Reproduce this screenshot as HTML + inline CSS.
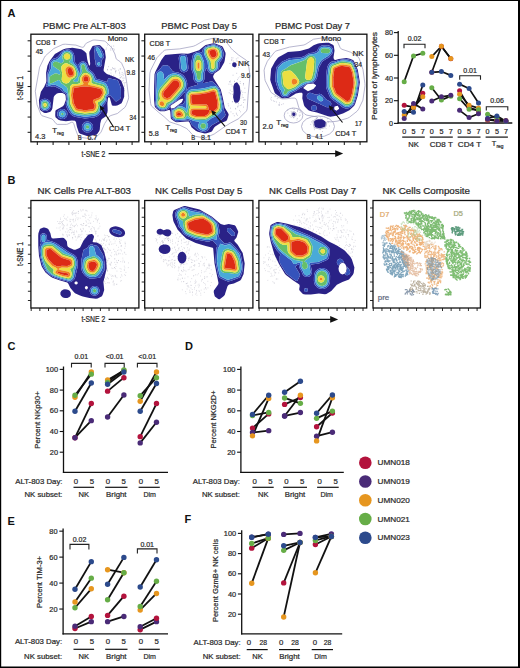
<!DOCTYPE html>
<html><head><meta charset="utf-8"><style>
html,body{margin:0;padding:0;background:#fff;width:520px;height:668px;overflow:hidden}
svg{display:block}
text{font-family:"Liberation Sans",sans-serif}
</style></head><body>
<svg width="520" height="668" viewBox="0 0 520 668">
<path d="M0 0H520V668H0Z M1.2 1.1V666.5H518V1.1Z" fill="#000" fill-rule="evenodd"/>
<text x="7.4" y="16.8" font-size="11" font-weight="bold" fill="#111" text-anchor="start">A</text>
<text x="7.6" y="183.9" font-size="11" font-weight="bold" fill="#111" text-anchor="start">B</text>
<text x="7.6" y="349.7" font-size="11" font-weight="bold" fill="#111" text-anchor="start">C</text>
<text x="185.0" y="349.7" font-size="11" font-weight="bold" fill="#111" text-anchor="start">D</text>
<text x="7.6" y="524.5" font-size="11" font-weight="bold" fill="#111" text-anchor="start">E</text>
<text x="184.6" y="523.1" font-size="11" font-weight="bold" fill="#111" text-anchor="start">F</text>
<defs><filter id="soft" x="-5%" y="-5%" width="110%" height="110%"><feGaussianBlur stdDeviation="0.45"/></filter></defs>
<clipPath id="clip_B4"><rect x="373" y="200.5" width="107.4" height="107.5"/></clipPath><g clip-path="url(#clip_B4)">
<path d="M409.2 251.9h1.3M415.1 231.2h1.3M415.9 238.7h1.3M396.6 232.9h1.3M394.7 238.0h1.3M404.4 241.3h1.3M393.1 229.2h1.3M409.3 240.1h1.3M404.1 231.9h1.3M411.8 230.5h1.3M409.7 247.1h1.3M388.3 240.9h1.3M398.8 242.7h1.3M387.0 236.2h1.3M397.3 228.9h1.3M416.6 236.0h1.3M423.0 242.4h1.3M408.4 243.9h1.3M411.2 229.0h1.3M401.9 231.7h1.3M400.4 227.3h1.3M411.0 233.5h1.3M418.9 244.6h1.3M407.0 228.8h1.3M406.3 229.9h1.3M419.3 244.0h1.3M407.0 235.9h1.3M400.8 231.7h1.3M403.0 241.1h1.3M385.7 235.7h1.3M385.9 228.1h1.3M422.5 244.5h1.3M401.5 240.4h1.3M418.9 234.9h1.3M407.8 245.3h1.3M398.6 240.3h1.3M414.6 252.2h1.3M415.7 240.1h1.3M413.1 231.3h1.3M392.5 235.5h1.3M391.7 234.9h1.3M421.8 241.9h1.3M398.0 232.7h1.3M422.0 238.0h1.3M413.8 242.1h1.3M387.4 237.5h1.3M411.2 246.3h1.3M397.7 236.5h1.3M392.6 225.9h1.3M408.3 239.0h1.3M408.0 244.6h1.3M402.9 243.6h1.3M409.6 230.0h1.3M387.1 237.0h1.3M414.6 249.3h1.3M420.4 248.9h1.3M419.0 240.4h1.3M394.6 232.0h1.3M392.0 241.7h1.3M385.5 233.9h1.3M421.4 240.8h1.3M416.5 244.5h1.3M408.6 230.2h1.3M416.1 253.8h1.3M397.9 234.1h1.3M415.9 234.0h1.3M418.5 248.8h1.3M407.1 243.9h1.3M408.5 227.3h1.3M410.6 243.7h1.3M416.9 249.0h1.3M397.5 246.5h1.3M418.6 251.7h1.3M410.2 230.9h1.3M399.5 232.1h1.3M402.6 244.5h1.3M388.6 236.0h1.3M417.2 235.9h1.3M399.2 240.9h1.3M393.1 231.9h1.3M397.6 238.4h1.3M407.4 233.5h1.3M389.8 228.4h1.3M389.8 226.8h1.3M409.0 230.1h1.3M399.4 246.1h1.3M415.1 249.7h1.3M411.1 235.7h1.3M414.3 230.2h1.3M395.1 240.8h1.3M414.0 251.8h1.3M389.6 230.0h1.3M416.0 244.1h1.3M421.4 250.2h1.3M415.1 236.4h1.3M409.8 230.0h1.3M414.4 247.6h1.3M412.9 238.0h1.3M399.5 237.2h1.3M405.9 236.2h1.3M406.1 246.5h1.3M420.7 236.2h1.3M412.6 249.6h1.3M389.3 229.8h1.3M407.2 238.0h1.3M414.1 230.2h1.3M403.2 225.3h1.3M397.0 233.9h1.3M412.9 238.3h1.3M419.5 252.4h1.3M394.3 236.4h1.3M393.6 228.2h1.3M389.5 229.7h1.3M418.4 239.2h1.3M395.1 240.5h1.3M395.8 240.2h1.3M409.3 240.8h1.3M390.0 227.8h1.3M392.8 239.9h1.3M386.3 234.0h1.3M394.0 238.6h1.3M419.2 247.7h1.3M417.1 247.7h1.3M412.4 250.4h1.3M411.4 246.9h1.3M396.5 229.5h1.3M420.7 242.6h1.3M390.8 240.1h1.3M407.2 249.0h1.3M412.2 244.1h1.3M421.9 237.6h1.3M400.9 245.6h1.3M417.4 234.6h1.3M410.9 230.7h1.3M406.3 247.9h1.3M403.0 236.9h1.3M412.9 240.4h1.3M406.7 241.4h1.3M402.4 243.7h1.3M406.2 226.6h1.3M407.9 231.1h1.3M392.4 238.3h1.3M414.1 246.0h1.3M406.4 249.1h1.3M402.9 243.4h1.3M416.7 245.1h1.3M409.8 236.8h1.3M406.5 236.5h1.3M413.8 236.0h1.3M403.0 247.5h1.3M404.4 234.7h1.3M417.1 236.0h1.3M417.8 248.4h1.3M402.2 246.2h1.3M386.0 236.3h1.3M418.4 242.1h1.3M406.5 244.7h1.3M411.2 242.2h1.3M401.2 230.0h1.3M396.1 233.3h1.3M398.5 238.1h1.3M399.2 242.2h1.3M399.5 232.5h1.3M419.3 239.5h1.3M418.6 233.9h1.3M404.0 230.4h1.3M417.1 238.9h1.3M414.7 238.4h1.3M399.3 241.1h1.3M392.6 234.0h1.3M412.3 248.0h1.3M416.7 238.0h1.3M394.3 244.1h1.3M399.4 243.9h1.3M394.8 238.9h1.3M405.2 243.7h1.3M396.0 233.7h1.3M394.7 226.4h1.3M401.2 248.0h1.3M412.5 230.3h1.3M390.1 234.2h1.3M414.8 239.3h1.3M420.8 244.5h1.3M409.0 247.9h1.3M414.1 234.9h1.3M394.8 237.8h1.3M403.8 228.7h1.3M402.0 244.0h1.3M390.0 228.6h1.3M391.5 233.0h1.3M391.9 229.4h1.3M402.6 229.3h1.3M391.9 243.3h1.3M400.6 237.1h1.3M420.8 251.7h1.3M410.7 242.7h1.3M414.9 230.9h1.3M389.2 234.0h1.3M408.6 244.8h1.3M411.2 241.8h1.3M422.0 243.0h1.3M397.8 240.1h1.3M411.9 237.2h1.3M418.0 247.5h1.3M397.9 226.7h1.3M389.9 230.0h1.3M396.6 238.1h1.3M419.9 245.2h1.3M418.1 236.7h1.3M394.3 228.7h1.3M416.0 245.4h1.3M393.0 232.5h1.3M404.9 225.4h1.3M406.2 250.3h1.3M388.0 232.7h1.3M414.6 243.0h1.3M396.9 243.6h1.3M409.6 247.0h1.3M399.5 246.6h1.3M412.0 236.2h1.3M412.6 230.6h1.3M413.3 232.9h1.3M402.2 233.2h1.3M396.6 226.7h1.3M393.3 232.6h1.3M391.5 226.3h1.3M402.9 230.9h1.3M413.6 252.6h1.3M395.4 241.9h1.3M404.5 226.6h1.3M403.2 249.0h1.3M418.6 250.9h1.3M387.6 232.5h1.3M416.5 238.7h1.3M397.2 225.6h1.3M400.0 229.0h1.3M422.0 242.1h1.3M410.0 234.3h1.3M407.0 247.4h1.3M407.8 249.0h1.3M406.2 230.4h1.3M407.5 239.4h1.3M391.2 243.3h1.3M406.0 246.8h1.3M400.5 232.6h1.3M399.3 240.9h1.3M411.6 241.5h1.3M394.5 229.7h1.3M417.9 252.3h1.3M386.4 234.5h1.3M392.2 238.7h1.3M391.4 239.3h1.3M405.2 247.2h1.3M401.8 228.7h1.3M416.3 233.9h1.3M402.5 244.6h1.3M404.6 229.4h1.3M390.1 233.1h1.3M386.7 231.0h1.3M389.8 238.6h1.3M398.6 242.3h1.3M395.7 225.4h1.3M394.7 236.7h1.3M414.2 236.8h1.3M419.4 252.5h1.3M394.6 228.6h1.3M401.8 242.8h1.3M412.6 238.9h1.3M388.3 234.5h1.3M420.6 243.1h1.3M402.6 241.6h1.3M413.5 245.1h1.3M416.5 236.9h1.3M415.3 251.7h1.3M421.5 236.8h1.3M403.1 238.1h1.3M399.8 237.6h1.3M390.2 226.2h1.3M414.2 241.6h1.3M411.0 248.9h1.3M393.7 231.5h1.3M395.6 233.7h1.3M414.5 235.8h1.3M397.3 243.8h1.3M392.0 227.6h1.3M412.0 247.5h1.3M396.3 243.8h1.3M386.0 236.7h1.3M407.3 232.1h1.3M398.3 243.0h1.3M407.8 229.1h1.3M394.6 230.5h1.3M405.1 242.8h1.3M412.2 234.6h1.3M387.7 230.5h1.3M397.7 226.5h1.3M401.7 230.6h1.3M419.8 243.8h1.3M388.3 234.1h1.3M385.8 231.1h1.3M385.7 228.2h1.3M409.5 227.4h1.3M397.8 234.5h1.3M411.2 241.1h1.3M408.9 227.4h1.3M394.9 242.2h1.3M422.0 249.4h1.3M409.8 240.2h1.3M387.3 228.3h1.3M411.8 249.2h1.3M415.5 238.2h1.3M400.4 233.9h1.3M402.0 230.4h1.3M412.6 239.7h1.3M418.7 251.8h1.3M397.1 232.9h1.3M421.4 239.8h1.3M404.4 237.7h1.3M389.6 229.0h1.3M409.1 246.7h1.3M407.2 230.8h1.3M412.0 230.3h1.3M405.8 226.1h1.3M401.5 244.6h1.3M386.9 232.1h1.3M399.6 239.8h1.3M396.3 244.5h1.3M422.3 239.5h1.3M397.8 242.8h1.3M416.3 240.9h1.3M399.5 235.1h1.3M387.4 232.3h1.3M409.1 227.3h1.3M418.7 251.3h1.3M409.0 240.3h1.3M392.5 240.3h1.3M396.1 228.2h1.3M385.2 232.4h1.3M390.0 230.1h1.3M407.5 237.3h1.3M401.5 230.6h1.3M410.7 233.2h1.3M400.3 238.5h1.3M412.8 233.8h1.3M419.7 236.4h1.3M385.8 233.6h1.3M391.0 230.9h1.3M388.1 238.8h1.3M407.9 234.1h1.3M416.2 241.6h1.3M390.1 241.0h1.3M409.3 237.5h1.3M418.5 236.3h1.3M404.7 227.8h1.3M406.7 247.8h1.3M413.3 232.2h1.3M401.3 237.1h1.3M409.7 246.4h1.3M403.0 238.6h1.3M397.1 245.7h1.3M387.6 239.6h1.3M392.0 235.6h1.3M396.6 242.8h1.3M416.9 253.1h1.3M397.6 241.8h1.3M384.9 235.7h1.3M418.7 244.3h1.3M387.9 228.0h1.3M414.0 238.1h1.3M390.5 240.1h1.3M396.3 241.2h1.3M413.8 250.6h1.3M418.9 242.2h1.3M419.5 248.5h1.3M412.7 230.4h1.3M395.1 234.3h1.3M407.8 243.6h1.3M392.3 235.4h1.3M416.7 241.2h1.3M404.7 247.6h1.3M410.3 233.2h1.3M388.1 238.5h1.3M419.1 242.7h1.3M386.8 237.8h1.3M399.7 242.2h1.3M397.9 236.8h1.3M408.7 251.5h1.3M412.3 238.8h1.3M416.6 239.2h1.3M408.5 239.9h1.3M403.5 228.2h1.3M404.2 231.9h1.3M400.7 244.0h1.3M420.5 248.9h1.3M391.0 239.0h1.3M388.1 240.0h1.3M420.5 236.6h1.3M394.9 241.4h1.3M388.0 230.7h1.3M419.7 253.1h1.3M412.2 252.5h1.3M422.6 246.3h1.3M418.5 250.1h1.3M398.7 227.4h1.3M406.6 240.3h1.3M398.9 234.4h1.3M419.5 242.7h1.3M411.0 246.8h1.3M404.3 225.9h1.3M404.4 246.9h1.3M410.4 243.2h1.3M386.5 231.6h1.3M405.6 225.9h1.3M400.7 241.1h1.3M412.8 253.1h1.3M413.5 235.0h1.3M402.7 240.4h1.3M411.6 236.4h1.3M412.7 238.6h1.3M400.9 235.5h1.3M404.0 233.0h1.3M394.2 228.9h1.3M401.9 233.3h1.3M417.4 250.3h1.3M398.2 243.3h1.3M420.0 235.3h1.3M406.4 237.9h1.3M410.7 248.7h1.3M409.5 251.0h1.3M397.5 246.0h1.3" stroke="#eba05a" stroke-width="1.3" stroke-opacity="0.8" fill="none"/>
<path d="M429.4 266.5h1.3M438.2 252.5h1.3M440.9 273.6h1.3M430.6 273.3h1.3M425.6 273.5h1.3M436.0 271.4h1.3M433.3 253.6h1.3M439.2 264.5h1.3M439.6 259.9h1.3M425.7 268.0h1.3M437.0 285.3h1.3M440.2 255.3h1.3M438.6 260.6h1.3M430.6 265.6h1.3M435.1 275.0h1.3M437.3 274.2h1.3M432.0 274.2h1.3M431.1 271.0h1.3M433.6 269.0h1.3M428.5 260.9h1.3M425.4 273.2h1.3M442.7 259.5h1.3M426.1 271.6h1.3M426.4 259.8h1.3M434.3 248.7h1.3M430.6 255.9h1.3M431.5 279.3h1.3M426.8 269.7h1.3M433.0 256.5h1.3M426.7 256.7h1.3M436.8 283.0h1.3M437.5 253.4h1.3M431.7 271.7h1.3M443.4 257.1h1.3M432.2 244.4h1.3M438.6 263.5h1.3M440.7 254.0h1.3M437.8 274.0h1.3M433.7 251.9h1.3M432.4 277.3h1.3M427.8 247.5h1.3M433.6 254.0h1.3M437.5 251.9h1.3M441.2 276.5h1.3M439.6 275.1h1.3M441.4 256.9h1.3M438.1 266.9h1.3M431.0 258.2h1.3M427.1 265.7h1.3M431.6 262.5h1.3M428.4 266.5h1.3M425.8 261.2h1.3M439.9 282.7h1.3M434.6 279.6h1.3M433.2 259.4h1.3M434.5 252.2h1.3M430.3 257.3h1.3M441.9 272.8h1.3M432.9 252.3h1.3M426.1 248.1h1.3M431.2 261.9h1.3M426.9 268.5h1.3M427.2 245.2h1.3M443.8 258.7h1.3M427.8 248.0h1.3M437.6 264.3h1.3M429.3 278.9h1.3M434.2 267.7h1.3M433.5 274.1h1.3M425.3 265.9h1.3M428.8 248.0h1.3M428.0 254.7h1.3M430.5 261.2h1.3M433.2 256.7h1.3M432.7 278.4h1.3M425.4 255.9h1.3M434.0 274.1h1.3M437.5 276.3h1.3M426.1 251.6h1.3M430.4 256.2h1.3M430.1 279.9h1.3M431.2 259.5h1.3M437.2 282.7h1.3M431.0 252.0h1.3M423.9 249.6h1.3M441.8 271.8h1.3M431.6 279.6h1.3M437.8 246.4h1.3M432.3 272.4h1.3M438.4 263.9h1.3M433.7 276.0h1.3M435.1 247.0h1.3M428.8 246.2h1.3M427.9 252.5h1.3M432.6 258.0h1.3M431.5 280.5h1.3M424.3 248.1h1.3M440.9 267.7h1.3M433.1 255.5h1.3M435.3 253.4h1.3M430.6 244.5h1.3M442.6 257.0h1.3M437.7 282.4h1.3M434.2 281.7h1.3M433.6 255.4h1.3M434.0 258.6h1.3M440.1 281.2h1.3M426.8 250.8h1.3M431.9 264.4h1.3M438.2 255.7h1.3M441.5 255.9h1.3M425.5 257.7h1.3M430.7 276.3h1.3M424.0 253.8h1.3M437.1 268.8h1.3M428.5 283.2h1.3M439.9 266.7h1.3M427.2 253.2h1.3M431.9 258.4h1.3M425.1 261.9h1.3M433.3 256.4h1.3M432.0 258.5h1.3M431.8 271.5h1.3M434.4 252.4h1.3M440.7 266.7h1.3M433.5 275.8h1.3M439.7 282.0h1.3M441.0 273.8h1.3M439.1 250.5h1.3M438.6 254.9h1.3M429.3 248.8h1.3M432.2 244.3h1.3M437.7 277.4h1.3M440.2 249.2h1.3M437.4 281.5h1.3M424.6 252.2h1.3M429.5 264.4h1.3M427.5 267.9h1.3M431.1 273.2h1.3M435.1 274.6h1.3M429.0 275.5h1.3M439.4 276.2h1.3M436.0 255.8h1.3M433.0 266.9h1.3M434.8 254.6h1.3M429.4 259.9h1.3M440.4 263.3h1.3M424.6 263.9h1.3M444.5 256.7h1.3M435.2 259.7h1.3M443.6 251.8h1.3M432.7 260.4h1.3M427.4 273.5h1.3M440.4 277.9h1.3M428.7 266.8h1.3M438.7 260.9h1.3M433.3 281.6h1.3M424.3 255.6h1.3M428.6 245.5h1.3M432.6 272.9h1.3M428.0 275.4h1.3M428.1 276.6h1.3M441.6 255.0h1.3M425.8 270.0h1.3M434.4 265.2h1.3M440.4 264.4h1.3M434.3 265.5h1.3M433.4 261.8h1.3M427.2 256.8h1.3M429.4 254.7h1.3M440.4 248.6h1.3M428.2 267.3h1.3M430.4 254.3h1.3M431.7 266.2h1.3M441.9 262.9h1.3M433.4 262.3h1.3M425.3 252.7h1.3M437.8 270.2h1.3M429.7 286.0h1.3M432.5 270.5h1.3M426.0 261.3h1.3M428.8 244.8h1.3M433.4 246.2h1.3M430.7 252.6h1.3M438.4 260.2h1.3M430.7 281.9h1.3M431.3 284.3h1.3M443.8 259.2h1.3M437.9 253.9h1.3M435.8 257.4h1.3M443.3 258.9h1.3M428.0 245.3h1.3M428.4 264.2h1.3M430.1 280.7h1.3M441.5 249.9h1.3M436.4 268.6h1.3M438.5 257.3h1.3M432.0 254.3h1.3M430.0 251.4h1.3M431.4 274.9h1.3M434.2 256.1h1.3M431.2 287.3h1.3M431.1 269.7h1.3M443.8 256.9h1.3M440.9 248.6h1.3M439.3 280.1h1.3M429.7 267.1h1.3M428.4 247.2h1.3M433.1 276.1h1.3M443.8 254.6h1.3M430.0 281.2h1.3M430.9 264.4h1.3M441.5 259.6h1.3M433.7 284.1h1.3M432.0 277.5h1.3M437.4 258.4h1.3M435.1 270.9h1.3M435.2 248.4h1.3M435.1 249.1h1.3M441.2 263.1h1.3M438.9 281.0h1.3M435.2 245.6h1.3M441.2 274.9h1.3M443.1 255.7h1.3M431.3 262.0h1.3M428.7 258.4h1.3M426.1 278.2h1.3M432.9 269.2h1.3M429.9 259.8h1.3M439.8 264.7h1.3M436.4 262.6h1.3M435.6 284.2h1.3M429.5 267.0h1.3M438.4 247.3h1.3M429.0 278.0h1.3M441.1 272.1h1.3M435.0 277.2h1.3M436.6 261.0h1.3M435.9 268.6h1.3M433.6 277.6h1.3M430.1 264.6h1.3M430.0 265.6h1.3M441.8 255.6h1.3M441.2 254.5h1.3M430.2 268.6h1.3M437.7 283.4h1.3M442.4 254.7h1.3M439.6 272.2h1.3M432.0 278.7h1.3M442.8 265.2h1.3M427.3 278.1h1.3M430.3 270.0h1.3M434.3 250.0h1.3M439.8 277.1h1.3M426.9 255.2h1.3M442.2 266.2h1.3M431.6 263.6h1.3M427.6 265.9h1.3M428.7 250.7h1.3M431.9 246.3h1.3M433.8 275.0h1.3M442.8 263.6h1.3M440.7 256.3h1.3M435.0 287.9h1.3M436.5 266.4h1.3M440.5 257.6h1.3M428.9 251.4h1.3M429.3 286.4h1.3M424.3 257.0h1.3M436.0 275.3h1.3M440.2 260.8h1.3M428.5 282.1h1.3M426.4 246.3h1.3M428.7 265.8h1.3M435.8 267.1h1.3M438.5 271.9h1.3M430.9 247.6h1.3M428.1 279.0h1.3M437.3 279.6h1.3M431.9 285.5h1.3M436.4 268.3h1.3M441.1 271.8h1.3M438.1 250.5h1.3M436.6 259.6h1.3M425.4 249.4h1.3M434.0 255.3h1.3M440.0 248.9h1.3M430.5 266.6h1.3M428.3 252.9h1.3M432.3 279.3h1.3M431.4 254.0h1.3M427.7 258.1h1.3M440.5 273.7h1.3M424.2 246.5h1.3M439.4 274.0h1.3M430.5 282.5h1.3M428.3 262.8h1.3M426.3 272.7h1.3M425.7 251.5h1.3M440.0 266.1h1.3M437.8 276.8h1.3M436.7 252.4h1.3M438.6 248.6h1.3M429.5 263.8h1.3M426.3 248.2h1.3M437.6 277.1h1.3M431.7 261.1h1.3M428.2 267.1h1.3M436.1 285.8h1.3M439.2 280.9h1.3M437.6 256.5h1.3M437.0 283.3h1.3M426.1 265.2h1.3M439.6 274.8h1.3M426.5 267.3h1.3M438.4 258.6h1.3M434.5 287.8h1.3M437.3 266.2h1.3M425.2 248.9h1.3M441.5 269.7h1.3M436.0 267.5h1.3M439.4 258.4h1.3M434.3 264.7h1.3M437.8 253.2h1.3M424.4 247.4h1.3M427.6 282.4h1.3M439.0 277.5h1.3M433.2 248.0h1.3M433.7 282.6h1.3M434.6 272.1h1.3" stroke="#eaa462" stroke-width="1.3" stroke-opacity="0.75" fill="none"/>
<path d="M391.8 247.7h1.3M398.8 259.8h1.3M391.0 251.6h1.3M400.7 253.7h1.3M397.4 251.7h1.3M402.2 255.8h1.3M394.7 275.7h1.3M401.3 268.8h1.3M390.9 272.5h1.3M406.2 266.0h1.3M404.4 261.9h1.3M385.4 251.0h1.3M397.3 269.7h1.3M402.2 259.8h1.3M391.5 245.8h1.3M383.9 264.9h1.3M402.8 274.9h1.3M405.2 267.6h1.3M400.8 272.5h1.3M396.3 260.5h1.3M391.6 273.4h1.3M402.8 252.2h1.3M386.6 249.4h1.3M397.3 252.4h1.3M388.2 245.9h1.3M390.4 270.1h1.3M386.2 269.8h1.3M393.9 248.4h1.3M394.7 275.5h1.3M405.6 256.4h1.3M387.7 261.9h1.3M400.7 259.7h1.3M391.2 251.2h1.3M389.7 244.1h1.3M403.2 256.9h1.3M397.9 250.3h1.3M399.9 267.8h1.3M401.7 260.0h1.3M397.3 266.9h1.3M399.3 274.5h1.3M384.4 261.4h1.3M384.6 249.1h1.3M392.0 249.2h1.3M390.8 273.1h1.3M400.4 267.6h1.3M399.8 269.1h1.3M402.1 268.0h1.3M383.5 245.3h1.3M402.8 264.3h1.3M402.1 254.6h1.3M403.0 262.4h1.3M400.3 254.4h1.3M405.0 256.0h1.3M401.7 252.8h1.3M393.2 265.2h1.3M382.8 250.3h1.3M387.6 260.2h1.3M390.6 250.8h1.3M407.2 260.6h1.3M399.4 267.6h1.3M383.7 259.1h1.3M386.2 243.0h1.3M406.8 264.8h1.3M392.9 247.2h1.3M402.5 261.5h1.3M404.3 261.4h1.3M389.8 265.7h1.3M385.7 264.5h1.3M401.2 254.6h1.3M400.7 270.4h1.3M404.5 264.5h1.3M404.8 266.0h1.3M407.0 274.6h1.3M382.7 251.9h1.3M392.2 251.4h1.3M402.5 258.4h1.3M385.3 252.0h1.3M391.9 268.2h1.3M389.6 247.0h1.3M382.1 252.9h1.3M405.2 274.4h1.3M400.3 269.2h1.3M386.9 255.1h1.3M393.7 270.2h1.3M389.7 265.8h1.3M392.2 259.0h1.3M394.2 252.3h1.3M400.7 272.5h1.3M385.7 250.8h1.3M397.9 276.0h1.3M394.5 249.5h1.3M397.9 276.7h1.3M405.4 274.6h1.3M392.8 251.7h1.3M405.5 270.7h1.3M404.9 256.4h1.3M389.4 251.0h1.3M405.5 275.4h1.3M391.6 273.8h1.3M392.0 258.4h1.3M397.1 250.3h1.3M388.9 251.9h1.3M388.7 260.9h1.3M386.3 258.3h1.3M392.8 262.6h1.3M396.7 274.4h1.3M404.4 262.1h1.3M394.5 267.5h1.3M403.5 271.3h1.3M387.5 272.3h1.3M397.2 266.4h1.3M404.9 256.9h1.3M406.8 274.0h1.3M403.7 256.0h1.3M396.0 248.5h1.3M402.4 274.4h1.3M385.9 269.1h1.3M406.7 259.5h1.3M388.9 243.4h1.3M403.0 254.5h1.3M395.6 249.3h1.3M398.2 256.6h1.3M403.7 266.3h1.3M401.4 251.3h1.3M407.3 265.5h1.3M406.9 267.7h1.3M398.2 257.4h1.3M391.3 259.9h1.3M387.6 257.7h1.3M392.3 252.5h1.3M399.0 271.5h1.3M398.4 266.2h1.3M398.4 251.5h1.3M391.9 272.7h1.3M405.2 264.2h1.3M404.0 263.7h1.3M393.7 266.4h1.3M387.4 268.0h1.3M388.7 267.8h1.3M403.6 257.6h1.3M408.7 265.0h1.3M407.5 264.9h1.3M406.0 273.9h1.3M398.8 257.8h1.3M400.9 251.1h1.3M399.9 267.3h1.3M396.4 251.7h1.3M383.6 251.2h1.3M395.8 263.4h1.3M405.6 273.1h1.3M393.9 247.4h1.3M398.6 251.8h1.3M393.1 250.2h1.3M405.2 264.6h1.3M398.9 253.6h1.3M402.5 268.7h1.3M386.4 264.2h1.3M389.4 260.8h1.3M394.2 262.6h1.3M406.9 271.4h1.3M392.9 271.7h1.3M405.2 270.1h1.3M396.7 274.7h1.3M395.0 246.1h1.3M389.0 266.0h1.3M391.9 257.5h1.3M392.6 249.2h1.3M384.1 244.1h1.3M400.0 254.0h1.3M394.1 275.9h1.3M398.8 271.5h1.3M402.5 276.6h1.3M383.4 256.1h1.3M407.6 259.0h1.3M392.8 260.6h1.3M388.3 250.7h1.3M395.8 259.1h1.3M382.7 247.8h1.3M398.2 270.4h1.3M394.7 264.4h1.3M395.1 250.3h1.3M390.4 258.1h1.3M393.8 262.0h1.3M394.6 267.7h1.3M390.7 255.6h1.3M395.7 275.0h1.3M390.6 245.4h1.3M390.1 246.6h1.3M397.9 272.7h1.3M398.0 247.8h1.3M392.7 251.9h1.3M394.1 247.2h1.3M386.8 261.2h1.3M397.6 273.9h1.3M390.9 263.4h1.3M384.9 261.0h1.3M383.5 246.3h1.3M384.9 253.2h1.3M390.0 267.7h1.3M383.6 246.3h1.3M399.6 266.5h1.3M401.1 268.2h1.3M399.8 262.2h1.3M387.3 269.0h1.3M386.8 261.4h1.3M388.7 257.8h1.3M404.5 266.1h1.3M393.8 252.1h1.3M403.7 265.9h1.3M393.6 273.6h1.3M400.6 277.6h1.3M399.8 274.7h1.3M396.7 267.8h1.3M394.6 264.1h1.3M401.2 276.0h1.3M391.8 259.2h1.3M406.6 257.1h1.3M404.5 257.5h1.3M390.8 252.3h1.3M387.4 257.8h1.3M400.2 253.2h1.3M387.0 251.2h1.3M405.3 262.7h1.3M388.0 249.8h1.3M399.5 264.9h1.3M390.3 254.3h1.3M394.3 275.1h1.3M396.3 272.5h1.3M399.1 262.5h1.3M395.0 266.8h1.3M395.0 268.4h1.3M386.5 253.9h1.3M405.5 256.5h1.3M404.7 276.0h1.3M402.3 266.3h1.3M389.5 273.3h1.3M383.4 250.5h1.3M398.3 271.6h1.3M384.2 243.1h1.3M398.6 257.0h1.3M393.7 271.8h1.3M385.7 263.4h1.3M395.7 256.6h1.3M392.7 252.0h1.3M389.0 250.9h1.3M384.4 262.2h1.3M393.8 267.9h1.3M399.1 276.6h1.3M390.9 274.0h1.3M392.1 266.1h1.3M403.7 256.6h1.3M393.8 265.0h1.3M384.6 261.4h1.3M384.1 250.4h1.3M398.7 277.3h1.3M385.5 261.0h1.3M393.7 256.0h1.3M402.7 267.8h1.3M397.0 264.7h1.3M397.5 266.7h1.3M384.4 258.6h1.3M403.0 252.9h1.3M387.1 256.7h1.3M383.5 257.6h1.3M390.3 256.0h1.3M403.6 262.4h1.3M382.9 250.1h1.3M398.3 249.5h1.3M388.3 264.7h1.3M395.1 252.0h1.3M396.9 265.1h1.3M382.6 252.2h1.3M390.0 273.9h1.3M382.9 254.8h1.3M386.9 267.3h1.3M405.3 267.3h1.3M389.6 270.7h1.3M383.6 258.7h1.3M395.4 274.6h1.3M404.5 262.0h1.3M382.9 257.8h1.3M400.2 256.9h1.3M391.6 269.9h1.3M400.0 258.0h1.3M401.1 256.6h1.3M385.5 257.3h1.3M393.6 272.0h1.3M387.1 260.3h1.3M406.3 266.6h1.3M397.7 263.2h1.3M398.1 259.0h1.3M391.4 250.9h1.3M383.3 255.6h1.3M402.7 262.2h1.3M399.4 262.3h1.3M392.9 272.0h1.3M395.8 253.0h1.3M392.6 261.6h1.3M401.8 261.5h1.3M400.4 268.8h1.3M387.0 255.7h1.3M391.5 274.5h1.3M401.2 260.2h1.3M405.3 274.4h1.3M384.9 261.3h1.3M386.6 266.3h1.3M399.5 253.8h1.3M382.6 251.4h1.3M390.5 263.3h1.3M391.7 246.3h1.3M397.2 268.4h1.3M400.9 259.9h1.3M396.2 264.9h1.3M393.7 276.8h1.3M387.1 271.6h1.3M401.3 274.7h1.3M406.9 256.8h1.3M400.2 276.6h1.3M397.9 263.3h1.3M383.5 263.8h1.3M388.2 256.3h1.3M399.1 268.4h1.3M386.3 253.3h1.3M392.2 260.8h1.3M393.7 259.2h1.3M393.2 267.5h1.3M389.1 248.3h1.3M393.5 245.5h1.3M393.8 260.1h1.3M392.4 270.4h1.3M390.8 272.4h1.3M392.1 269.9h1.3M396.0 266.5h1.3M396.5 272.7h1.3M389.0 263.7h1.3M407.6 264.1h1.3M392.5 250.5h1.3M396.7 254.7h1.3M400.5 277.3h1.3M394.7 265.0h1.3M390.2 246.2h1.3M395.0 258.1h1.3M406.4 262.4h1.3M391.2 268.4h1.3M388.0 269.5h1.3M402.2 272.1h1.3M394.9 250.3h1.3M398.9 275.0h1.3M392.1 267.2h1.3M400.9 257.9h1.3M401.7 258.9h1.3M396.4 253.3h1.3M388.8 252.2h1.3M405.7 255.3h1.3M384.3 265.0h1.3M391.1 264.3h1.3M403.5 260.4h1.3M395.5 248.4h1.3M397.2 268.6h1.3M382.5 257.0h1.3M399.2 258.1h1.3M391.7 274.1h1.3M398.3 264.6h1.3M393.2 266.5h1.3M388.2 251.6h1.3M392.1 269.1h1.3M390.6 255.5h1.3M389.1 254.2h1.3M387.5 269.4h1.3M387.2 251.1h1.3M385.3 257.5h1.3M395.4 264.9h1.3M383.0 249.2h1.3M384.7 252.0h1.3M391.8 247.3h1.3M399.8 277.3h1.3M403.4 265.6h1.3M391.9 256.8h1.3M389.8 271.3h1.3M403.6 259.9h1.3M405.2 265.8h1.3M400.4 252.0h1.3M388.2 250.5h1.3M406.6 271.1h1.3M406.3 271.9h1.3M403.7 258.0h1.3M386.1 270.0h1.3M397.1 257.4h1.3M398.5 274.2h1.3M396.8 262.5h1.3M391.4 248.7h1.3M388.0 266.6h1.3M399.3 269.7h1.3M400.0 265.9h1.3M386.0 248.8h1.3M395.5 263.4h1.3M402.3 252.8h1.3M407.5 264.9h1.3M404.7 259.5h1.3M399.1 257.6h1.3M393.6 254.0h1.3M386.4 259.3h1.3M405.2 256.1h1.3M402.8 263.2h1.3M394.3 271.5h1.3M389.8 257.5h1.3M394.7 259.2h1.3M391.0 252.7h1.3M399.5 249.4h1.3M392.5 268.1h1.3M401.7 256.2h1.3M388.3 261.7h1.3M389.7 271.8h1.3M397.8 253.3h1.3M403.7 264.2h1.3M385.1 257.2h1.3M395.0 276.3h1.3M390.3 258.4h1.3M392.4 248.9h1.3M405.8 262.2h1.3M387.5 245.6h1.3M393.1 245.8h1.3M394.9 268.5h1.3M390.1 248.3h1.3M391.5 248.3h1.3M401.9 254.3h1.3M401.6 270.0h1.3M407.5 262.7h1.3M399.3 253.9h1.3M386.3 269.1h1.3M384.6 255.0h1.3M398.7 255.4h1.3M408.0 270.8h1.3M406.7 263.9h1.3M402.3 276.5h1.3M386.7 270.9h1.3M387.9 269.0h1.3M390.7 265.7h1.3M400.2 275.0h1.3M405.5 258.1h1.3M406.5 269.2h1.3M395.7 265.0h1.3M401.6 262.8h1.3M391.5 272.9h1.3M391.7 274.8h1.3M403.5 270.8h1.3M391.9 268.7h1.3M408.1 265.0h1.3M394.3 270.6h1.3M405.9 255.8h1.3M395.7 260.8h1.3M395.9 260.4h1.3M396.4 267.7h1.3M400.0 274.0h1.3M387.1 246.8h1.3M383.3 245.6h1.3M399.3 261.6h1.3M402.1 271.3h1.3M402.7 256.1h1.3M393.1 259.9h1.3M400.7 267.1h1.3M400.6 264.7h1.3M395.5 269.9h1.3M392.4 251.7h1.3M406.5 272.7h1.3M392.3 267.6h1.3M391.4 271.3h1.3M400.4 255.8h1.3M386.3 254.9h1.3M394.8 274.5h1.3" stroke="#6090ac" stroke-width="1.3" stroke-opacity="0.8" fill="none"/>
<path d="M412.5 266.3h1.2M412.5 265.8h1.2M404.5 254.3h1.2M413.4 271.9h1.2M406.3 258.4h1.2M412.0 264.5h1.2M405.8 255.8h1.2M407.5 266.5h1.2M409.1 273.8h1.2M409.1 269.7h1.2M404.5 254.3h1.2M407.2 256.1h1.2M421.7 269.8h1.2M405.6 263.7h1.2M403.3 261.1h1.2M402.4 259.1h1.2M408.8 264.3h1.2M407.0 257.1h1.2M407.2 263.2h1.2M409.3 257.3h1.2M409.3 262.7h1.2M405.7 255.1h1.2M413.8 274.6h1.2M420.0 265.7h1.2M414.9 275.0h1.2M415.5 268.5h1.2M408.6 255.7h1.2M406.7 258.4h1.2M412.1 266.1h1.2M409.1 272.8h1.2M408.6 258.5h1.2M417.3 272.1h1.2M404.1 262.5h1.2M412.5 267.9h1.2M418.4 271.4h1.2M408.5 257.7h1.2M406.1 254.3h1.2M418.2 272.3h1.2M412.8 260.5h1.2M414.9 275.7h1.2M413.0 270.8h1.2M420.0 270.0h1.2M415.7 271.9h1.2M406.5 261.4h1.2M402.5 259.2h1.2M402.6 257.3h1.2M415.0 273.6h1.2M407.6 264.1h1.2M409.8 266.7h1.2M410.1 258.0h1.2M409.1 260.5h1.2M406.3 266.0h1.2M411.4 261.2h1.2M416.0 271.4h1.2M408.7 272.2h1.2M414.8 275.5h1.2M411.2 270.3h1.2M402.2 258.1h1.2M407.5 258.0h1.2M409.6 271.9h1.2M411.5 265.7h1.2M402.0 252.4h1.2M414.4 267.6h1.2M401.6 252.6h1.2M406.4 255.7h1.2M406.8 262.3h1.2M406.7 259.3h1.2M410.8 268.1h1.2M409.1 272.3h1.2M407.9 259.2h1.2M410.0 269.9h1.2M410.6 260.1h1.2M412.9 261.5h1.2M417.5 273.9h1.2M405.6 257.2h1.2M411.0 266.1h1.2M409.7 268.9h1.2M409.0 258.8h1.2M411.2 268.5h1.2M420.1 268.8h1.2M415.7 273.8h1.2M415.0 275.7h1.2M400.9 251.7h1.2M408.9 270.2h1.2M410.4 273.1h1.2M417.2 263.3h1.2M407.8 256.2h1.2M406.3 259.8h1.2M407.9 255.3h1.2M419.7 264.7h1.2M405.4 254.7h1.2M409.5 267.8h1.2M410.4 263.6h1.2M406.7 261.6h1.2M410.7 259.5h1.2M404.6 259.5h1.2M417.8 272.3h1.2M412.6 259.9h1.2M414.6 271.8h1.2M404.4 260.1h1.2M402.9 252.6h1.2M412.0 274.7h1.2M407.9 267.4h1.2M403.7 257.7h1.2M403.3 255.8h1.2M412.2 261.9h1.2M418.7 263.4h1.2M412.1 268.8h1.2M419.4 265.6h1.2M405.5 257.4h1.2M401.2 255.8h1.2M411.8 262.6h1.2M413.1 271.3h1.2M414.0 263.8h1.2M406.8 263.9h1.2M410.6 273.3h1.2M400.8 252.4h1.2M417.9 274.7h1.2M400.7 251.4h1.2M412.4 259.8h1.2M407.5 261.0h1.2M405.7 259.8h1.2M403.3 259.3h1.2M415.8 275.7h1.2M414.8 268.7h1.2M420.3 263.5h1.2M406.8 258.9h1.2M408.5 259.7h1.2M416.4 273.6h1.2M416.9 267.2h1.2M404.0 257.8h1.2M417.3 265.3h1.2M421.5 269.2h1.2M412.9 273.9h1.2M408.1 255.5h1.2M406.1 257.1h1.2M403.1 259.5h1.2M405.3 263.7h1.2M408.0 259.0h1.2M412.1 265.6h1.2M407.2 259.1h1.2M415.6 263.2h1.2M408.5 272.5h1.2M404.9 256.9h1.2M402.1 256.4h1.2M412.4 272.0h1.2M413.7 269.9h1.2M419.9 264.8h1.2M404.2 254.1h1.2M417.5 264.9h1.2M413.4 262.0h1.2M420.8 265.6h1.2M410.2 266.2h1.2M412.3 266.6h1.2M404.1 254.5h1.2M413.1 263.5h1.2M402.2 254.8h1.2M411.1 258.2h1.2M410.1 268.2h1.2M407.0 267.7h1.2M405.0 258.3h1.2M409.9 263.7h1.2M404.4 258.3h1.2M402.7 258.5h1.2M410.1 263.8h1.2M406.4 254.9h1.2M412.0 263.5h1.2M412.2 270.8h1.2M409.8 261.0h1.2M412.0 266.6h1.2M415.9 273.6h1.2M402.9 252.6h1.2M415.4 268.3h1.2M410.3 257.4h1.2M407.0 265.3h1.2M410.7 260.2h1.2M415.6 269.1h1.2M420.2 271.3h1.2M407.2 265.2h1.2M405.5 255.9h1.2M404.3 253.6h1.2M405.1 256.5h1.2M404.7 264.9h1.2M403.6 263.0h1.2M411.8 261.9h1.2M410.8 264.7h1.2M407.9 262.8h1.2M412.2 268.4h1.2M409.8 258.3h1.2M408.5 260.0h1.2M401.3 256.0h1.2M414.1 273.6h1.2M411.0 273.8h1.2M407.9 261.1h1.2M410.5 261.9h1.2M402.5 256.1h1.2M419.1 263.2h1.2M413.5 273.3h1.2M411.9 263.5h1.2M406.5 256.7h1.2M407.8 269.4h1.2M405.0 257.7h1.2M408.2 268.1h1.2M410.0 267.9h1.2M410.1 267.1h1.2M419.5 268.7h1.2M407.3 263.1h1.2M415.2 272.1h1.2M415.4 263.5h1.2M406.0 261.1h1.2M416.7 262.7h1.2M416.6 276.0h1.2M419.7 272.4h1.2M409.5 265.4h1.2M405.5 261.5h1.2M402.2 258.9h1.2M419.3 271.6h1.2M409.5 259.8h1.2M414.5 271.6h1.2M418.7 272.2h1.2" stroke="#d9a27a" stroke-width="1.2" stroke-opacity="0.65" fill="none"/>
<path d="M430.6 263.5h1.3M427.9 263.1h1.3M426.7 261.6h1.3M438.5 275.0h1.3M430.5 275.1h1.3M435.4 273.0h1.3M434.9 269.5h1.3M435.4 260.2h1.3M427.0 265.2h1.3M434.6 262.9h1.3M428.8 267.5h1.3M432.4 263.4h1.3M426.7 268.3h1.3M429.7 264.9h1.3M426.5 260.0h1.3M430.2 273.2h1.3M434.8 268.0h1.3M430.9 263.8h1.3M427.3 272.2h1.3M429.1 267.0h1.3M431.0 278.8h1.3M435.2 270.4h1.3M429.5 272.0h1.3M432.0 269.8h1.3M432.3 259.0h1.3M439.9 273.2h1.3M430.4 260.3h1.3M430.8 264.7h1.3M428.9 263.3h1.3M430.6 277.1h1.3M433.0 276.2h1.3M426.7 261.5h1.3M427.0 269.2h1.3M430.5 261.6h1.3M435.6 271.3h1.3M428.9 269.7h1.3M433.2 276.8h1.3M427.0 262.5h1.3M431.2 275.1h1.3M427.0 267.8h1.3M436.0 270.4h1.3M435.9 266.9h1.3M432.8 263.7h1.3M428.2 264.5h1.3M431.5 259.0h1.3M434.5 258.7h1.3M434.7 272.2h1.3M428.5 263.2h1.3M437.6 265.0h1.3M439.9 262.7h1.3M430.9 273.2h1.3M430.5 269.5h1.3M432.5 272.9h1.3M429.6 276.6h1.3M437.3 261.2h1.3M430.9 264.9h1.3M440.7 267.7h1.3M435.7 278.8h1.3M432.2 279.1h1.3M427.6 273.2h1.3M432.0 276.5h1.3M434.4 273.1h1.3M431.5 270.8h1.3M437.0 265.9h1.3M433.7 276.8h1.3M433.0 279.7h1.3M438.0 265.7h1.3M439.4 269.9h1.3M437.3 277.7h1.3M432.3 265.9h1.3M436.1 266.5h1.3M437.2 269.5h1.3M437.7 276.3h1.3M434.9 278.4h1.3M436.0 264.9h1.3M439.8 266.2h1.3M437.7 262.8h1.3M435.9 278.1h1.3M439.6 265.6h1.3M433.6 269.6h1.3M431.4 268.4h1.3M430.9 273.0h1.3M429.8 271.9h1.3M427.4 271.1h1.3M437.2 274.5h1.3M439.5 263.9h1.3M426.4 262.5h1.3M429.7 275.2h1.3M433.0 276.6h1.3M436.5 276.7h1.3M430.3 265.4h1.3M435.9 270.7h1.3M438.3 275.9h1.3M430.8 259.9h1.3M437.7 273.1h1.3M430.3 258.4h1.3M426.3 262.9h1.3M430.3 261.9h1.3M426.7 261.1h1.3M431.5 259.3h1.3M429.2 267.3h1.3M432.4 260.0h1.3M430.2 272.8h1.3M432.4 270.4h1.3M437.6 272.4h1.3M430.7 257.9h1.3M434.2 271.4h1.3M430.0 258.4h1.3M433.3 261.0h1.3M429.0 266.0h1.3M437.2 265.8h1.3M432.4 260.4h1.3M428.9 275.1h1.3M432.8 263.8h1.3M430.1 267.2h1.3M434.9 261.0h1.3M432.7 263.7h1.3M431.2 258.9h1.3M427.0 269.4h1.3M432.1 271.2h1.3M431.3 279.4h1.3M429.4 276.2h1.3M430.2 272.2h1.3M432.7 269.4h1.3M434.2 271.7h1.3M431.6 262.7h1.3M432.3 264.6h1.3M431.5 257.7h1.3M431.1 280.0h1.3M428.2 269.9h1.3M429.8 261.7h1.3M439.1 264.3h1.3M434.9 264.4h1.3M431.3 278.8h1.3M437.4 260.4h1.3M430.7 258.8h1.3M436.2 274.0h1.3M437.8 275.1h1.3M432.2 261.2h1.3M440.8 267.6h1.3M435.7 278.5h1.3M435.3 262.5h1.3M437.8 266.8h1.3M437.2 262.3h1.3M436.2 271.2h1.3M430.0 264.8h1.3M429.7 267.4h1.3M436.2 274.1h1.3M437.1 265.2h1.3M431.3 274.9h1.3M432.5 263.5h1.3M431.2 273.0h1.3M431.8 271.9h1.3M432.7 278.4h1.3M433.2 276.0h1.3M435.1 265.8h1.3M439.4 271.3h1.3M435.8 278.7h1.3M432.8 276.3h1.3M432.9 272.3h1.3M427.7 274.2h1.3M431.6 278.3h1.3M427.2 261.1h1.3M439.2 266.9h1.3M429.4 275.3h1.3M430.3 277.1h1.3M433.6 278.9h1.3M430.6 278.6h1.3M430.7 267.5h1.3M436.0 270.0h1.3M436.6 273.3h1.3M437.4 271.1h1.3M434.9 268.7h1.3M428.4 275.0h1.3M430.3 258.5h1.3M432.8 273.4h1.3M431.4 265.7h1.3M429.3 263.2h1.3M436.6 265.9h1.3M437.4 267.4h1.3M431.4 260.8h1.3M433.2 264.4h1.3M429.4 277.5h1.3M437.1 273.3h1.3M438.7 262.7h1.3M436.5 264.6h1.3M436.4 262.4h1.3M431.6 272.7h1.3M428.6 260.0h1.3M436.6 277.9h1.3M428.0 258.7h1.3M432.4 269.2h1.3M426.9 267.7h1.3M438.3 269.8h1.3M435.0 264.3h1.3M428.5 261.0h1.3M436.1 275.1h1.3M430.5 264.9h1.3M429.1 269.8h1.3M432.9 260.8h1.3M438.1 263.9h1.3M432.1 270.7h1.3M432.6 258.5h1.3M438.8 272.8h1.3M433.5 266.7h1.3M430.1 274.9h1.3M433.7 258.7h1.3M427.5 264.3h1.3M428.9 273.9h1.3M435.7 266.4h1.3M438.4 271.9h1.3M429.5 268.5h1.3M437.2 271.6h1.3M434.6 274.3h1.3M432.8 276.6h1.3M432.0 266.9h1.3M434.6 278.3h1.3M435.5 264.2h1.3M436.5 264.8h1.3M434.8 259.4h1.3" stroke="#7090a8" stroke-width="1.3" stroke-opacity="0.65" fill="none"/>
<path d="M427.0 223.7h1.3M430.4 226.3h1.3M427.4 231.4h1.3M429.5 229.9h1.3M420.2 212.0h1.3M441.8 234.0h1.3M440.2 235.3h1.3M426.4 236.2h1.3M409.3 221.6h1.3M425.7 228.8h1.3M427.0 235.5h1.3M430.3 235.0h1.3M414.2 215.6h1.3M417.4 218.2h1.3M421.2 223.9h1.3M432.2 238.2h1.3M429.1 235.0h1.3M438.8 225.1h1.3M441.1 224.7h1.3M431.8 220.6h1.3M425.9 228.0h1.3M437.8 236.9h1.3M416.2 218.0h1.3M435.5 226.1h1.3M442.3 228.5h1.3M430.7 235.0h1.3M411.0 210.9h1.3M417.6 224.7h1.3M408.3 222.1h1.3M418.3 212.1h1.3M428.6 222.9h1.3M440.0 221.6h1.3M407.5 218.1h1.3M414.3 210.8h1.3M417.4 214.5h1.3M411.1 218.3h1.3M440.0 234.1h1.3M423.1 232.8h1.3M436.3 228.3h1.3M436.8 220.7h1.3M434.6 225.0h1.3M434.2 231.4h1.3M428.1 233.9h1.3M418.0 210.7h1.3M405.5 216.6h1.3M417.3 211.4h1.3M441.9 238.1h1.3M438.1 219.5h1.3M436.5 222.1h1.3M410.8 211.9h1.3M414.4 219.5h1.3M443.4 234.1h1.3M434.7 230.2h1.3M425.5 216.6h1.3M412.3 221.9h1.3M422.9 229.6h1.3M440.7 227.9h1.3M410.4 219.0h1.3M439.0 233.8h1.3M433.9 230.3h1.3M419.1 211.3h1.3M425.5 236.1h1.3M429.8 227.1h1.3M412.1 216.1h1.3M444.1 237.7h1.3M433.4 217.7h1.3M443.4 238.7h1.3M418.5 211.5h1.3M416.9 211.6h1.3M438.1 227.3h1.3M407.3 220.1h1.3M439.9 236.5h1.3M433.0 227.3h1.3M431.0 227.8h1.3M429.3 229.7h1.3M433.8 236.3h1.3M428.0 219.5h1.3M436.9 228.7h1.3M408.6 216.4h1.3M437.2 233.5h1.3M433.1 219.2h1.3M442.3 231.1h1.3M431.3 218.1h1.3M414.8 214.8h1.3M420.4 220.2h1.3M435.1 224.1h1.3M443.0 233.9h1.3M429.9 230.1h1.3M435.7 231.9h1.3M418.7 216.8h1.3M441.8 236.3h1.3M422.0 221.4h1.3M431.4 238.1h1.3M429.8 224.7h1.3M434.6 235.8h1.3M438.6 219.8h1.3M424.6 233.3h1.3M425.4 234.2h1.3M438.2 224.6h1.3M438.4 220.5h1.3M423.0 219.4h1.3M414.1 218.4h1.3M421.0 224.2h1.3M425.4 231.3h1.3M437.8 238.0h1.3M431.3 217.1h1.3M427.6 222.5h1.3M413.4 219.4h1.3M427.6 230.4h1.3M409.3 221.4h1.3M409.5 213.6h1.3M425.4 233.5h1.3M435.4 229.4h1.3M410.0 213.5h1.3M443.0 235.6h1.3M406.5 219.6h1.3M423.0 230.3h1.3M416.8 215.6h1.3M426.7 236.3h1.3M442.7 231.6h1.3M408.5 214.1h1.3M407.4 219.4h1.3M436.4 227.7h1.3M418.1 225.0h1.3M426.7 217.6h1.3M439.4 234.7h1.3M427.2 235.4h1.3M436.4 221.1h1.3M436.3 237.9h1.3M442.6 237.4h1.3M426.7 215.8h1.3M424.4 218.2h1.3M416.7 218.9h1.3M412.1 210.7h1.3M427.4 220.4h1.3M430.5 226.7h1.3M423.5 232.5h1.3M427.3 236.1h1.3M427.9 235.5h1.3M439.4 230.5h1.3M417.3 223.9h1.3M430.4 233.8h1.3M407.2 213.3h1.3M430.4 231.2h1.3M417.1 219.6h1.3M405.9 212.4h1.3M431.0 227.4h1.3M423.0 215.1h1.3M405.7 215.0h1.3M442.8 233.6h1.3M427.2 227.7h1.3M434.5 233.9h1.3M430.5 217.8h1.3M415.6 214.6h1.3M408.7 217.9h1.3M410.5 213.7h1.3M433.9 218.8h1.3M427.1 218.9h1.3M415.7 223.0h1.3M415.6 224.0h1.3M416.4 219.0h1.3M412.3 217.9h1.3M420.7 213.0h1.3M413.2 221.6h1.3M427.8 225.4h1.3M434.5 217.4h1.3M418.1 215.8h1.3M436.3 234.8h1.3M410.2 212.0h1.3M428.0 215.1h1.3M415.8 212.5h1.3M434.5 236.4h1.3M413.9 216.6h1.3M420.4 218.7h1.3M437.5 220.5h1.3M419.1 224.4h1.3M427.0 220.0h1.3M413.9 217.1h1.3M425.8 236.4h1.3M419.4 223.8h1.3M420.8 212.8h1.3M421.3 221.7h1.3M409.0 211.3h1.3M422.1 213.9h1.3M430.9 220.7h1.3M432.6 225.4h1.3M418.8 221.4h1.3M435.8 224.0h1.3M439.1 229.4h1.3M427.1 233.4h1.3M424.3 229.3h1.3M423.9 220.0h1.3M444.0 238.0h1.3M438.0 223.4h1.3M422.3 221.4h1.3M422.7 216.1h1.3M436.7 235.6h1.3M424.4 234.8h1.3M432.3 223.5h1.3M406.2 213.2h1.3M434.9 237.8h1.3M434.1 223.6h1.3M438.3 236.4h1.3M425.2 229.5h1.3M442.2 229.1h1.3M407.3 214.1h1.3M403.8 212.8h1.3M429.2 235.0h1.3M420.6 214.3h1.3M441.2 236.7h1.3M428.1 228.2h1.3M425.8 215.1h1.3M441.7 225.4h1.3M421.6 218.2h1.3M428.4 229.1h1.3M407.1 218.7h1.3M440.5 227.7h1.3M435.0 224.4h1.3M414.6 214.6h1.3M435.3 230.6h1.3M419.5 224.8h1.3M407.0 220.0h1.3M425.0 214.7h1.3M435.1 233.0h1.3M431.1 229.9h1.3M432.0 228.1h1.3M427.2 223.5h1.3M435.4 231.1h1.3M420.3 228.3h1.3M428.8 232.1h1.3M416.6 214.3h1.3M417.5 222.7h1.3M431.6 231.2h1.3M423.2 218.9h1.3M433.4 229.3h1.3M435.4 223.1h1.3M404.6 213.2h1.3M419.7 219.8h1.3M442.7 225.6h1.3M425.9 227.6h1.3M436.3 228.8h1.3M423.4 216.5h1.3M411.4 212.2h1.3M411.9 214.4h1.3M421.8 221.7h1.3M435.3 232.6h1.3M426.0 229.0h1.3M423.1 218.7h1.3M424.5 228.2h1.3M443.1 233.7h1.3M438.8 230.2h1.3M408.7 222.1h1.3M433.0 231.3h1.3M418.4 227.2h1.3M427.0 230.8h1.3M413.3 210.5h1.3M432.9 222.3h1.3M419.8 223.9h1.3M431.4 221.0h1.3M406.5 220.1h1.3M423.1 221.5h1.3M408.4 215.0h1.3M425.8 230.9h1.3M433.3 229.4h1.3M412.7 219.5h1.3M414.3 221.0h1.3M420.2 219.6h1.3M415.0 222.9h1.3M441.4 227.3h1.3M432.5 230.3h1.3M406.6 214.4h1.3M435.5 227.3h1.3M433.9 226.0h1.3M410.7 220.2h1.3M420.9 229.7h1.3M435.1 226.3h1.3M428.8 217.8h1.3M428.2 234.5h1.3M424.7 224.7h1.3M412.6 214.7h1.3M425.8 229.3h1.3M417.5 213.8h1.3M430.7 222.0h1.3M415.0 216.2h1.3M439.3 226.9h1.3M441.0 237.5h1.3M411.2 222.7h1.3M422.0 216.8h1.3M423.7 231.8h1.3M425.4 215.3h1.3M430.2 217.0h1.3M427.3 226.5h1.3M434.6 237.2h1.3M441.9 224.4h1.3M414.6 216.7h1.3M436.2 232.0h1.3M436.5 234.2h1.3M427.0 236.1h1.3M430.8 228.2h1.3M438.3 228.8h1.3M435.4 237.1h1.3M416.0 223.9h1.3M439.8 238.4h1.3M442.8 232.0h1.3M438.7 235.7h1.3M428.9 216.7h1.3M435.1 231.2h1.3M427.7 229.0h1.3M433.4 225.3h1.3M425.8 228.1h1.3M427.2 217.1h1.3M413.0 214.2h1.3M431.6 232.4h1.3M418.1 223.5h1.3M431.0 218.3h1.3M419.8 226.3h1.3M416.2 213.8h1.3M418.3 218.4h1.3M431.7 218.0h1.3M416.3 224.0h1.3M439.4 234.5h1.3M425.0 216.8h1.3M431.6 231.2h1.3M424.8 224.8h1.3M420.0 221.5h1.3M421.9 216.4h1.3M421.0 223.3h1.3M426.5 218.8h1.3M412.5 217.6h1.3M437.4 226.5h1.3M417.9 213.7h1.3M430.6 229.5h1.3M429.8 226.0h1.3M441.2 237.4h1.3M429.1 230.8h1.3M438.9 228.7h1.3M412.8 220.7h1.3M409.7 222.3h1.3M407.1 213.1h1.3M429.0 233.7h1.3M432.5 227.2h1.3M430.5 230.9h1.3M442.9 233.8h1.3M423.8 215.3h1.3M429.1 226.9h1.3M406.4 220.8h1.3M441.7 225.1h1.3M410.4 214.7h1.3M442.8 236.5h1.3M413.9 214.8h1.3M414.9 213.4h1.3M433.3 217.8h1.3M420.2 217.7h1.3M419.4 218.6h1.3M418.1 212.3h1.3M405.5 217.7h1.3M412.4 217.5h1.3M427.1 232.4h1.3M426.8 224.5h1.3M421.8 217.0h1.3M430.1 226.8h1.3M424.7 228.5h1.3M429.5 232.7h1.3M438.3 230.3h1.3M434.8 226.7h1.3M428.1 223.2h1.3M420.6 227.8h1.3M428.8 221.2h1.3M425.1 228.8h1.3M413.0 221.2h1.3M435.6 224.8h1.3M427.2 227.1h1.3M418.8 219.7h1.3M413.9 215.7h1.3M432.4 228.4h1.3M418.5 227.8h1.3M430.1 217.6h1.3M432.4 231.0h1.3M428.2 235.1h1.3M441.4 226.3h1.3M429.1 227.2h1.3M405.4 218.0h1.3M439.0 229.1h1.3M437.3 219.4h1.3M410.7 218.6h1.3M413.6 214.9h1.3M432.1 227.2h1.3M437.7 238.7h1.3M435.4 226.2h1.3M404.9 213.2h1.3M427.1 229.8h1.3M426.6 228.9h1.3M421.6 216.0h1.3M413.4 222.5h1.3M436.9 226.3h1.3M431.6 237.7h1.3M418.9 214.9h1.3M420.6 226.2h1.3M433.7 238.8h1.3M425.3 233.2h1.3M431.1 225.0h1.3M429.0 223.1h1.3M428.9 223.2h1.3M439.4 231.6h1.3M418.7 224.5h1.3M425.1 231.3h1.3M423.8 228.3h1.3M412.8 211.6h1.3M431.3 238.8h1.3M415.2 219.4h1.3M423.2 226.0h1.3M423.0 215.3h1.3M431.9 217.4h1.3M431.9 231.1h1.3M441.8 234.8h1.3M425.2 226.1h1.3M415.2 221.0h1.3M433.4 219.9h1.3M432.3 231.2h1.3M427.0 220.0h1.3M433.2 230.6h1.3M424.5 231.2h1.3M443.7 236.2h1.3M437.2 221.5h1.3M442.2 226.2h1.3M438.8 229.6h1.3M443.7 236.8h1.3M411.2 220.3h1.3M441.6 237.1h1.3M426.8 216.1h1.3M440.6 225.2h1.3M431.9 234.7h1.3M427.1 231.8h1.3M431.3 224.5h1.3M421.8 215.7h1.3M415.6 212.3h1.3M426.5 226.3h1.3M430.5 229.3h1.3M426.7 231.5h1.3M427.1 219.5h1.3M430.1 229.8h1.3M441.7 228.4h1.3M425.3 220.0h1.3M421.3 218.0h1.3M429.3 235.0h1.3M428.2 215.5h1.3M442.7 237.4h1.3M426.6 236.6h1.3M426.0 220.5h1.3M433.4 237.4h1.3M440.2 222.5h1.3M419.6 215.7h1.3M424.1 227.2h1.3M436.6 238.3h1.3M420.5 222.5h1.3M423.3 228.7h1.3M426.3 234.9h1.3M421.9 229.3h1.3M438.3 222.1h1.3M431.1 232.5h1.3M431.0 236.3h1.3M430.6 238.3h1.3M425.7 218.3h1.3M436.0 222.3h1.3M430.5 232.7h1.3M433.3 226.0h1.3M431.4 230.0h1.3M415.5 224.0h1.3M442.7 234.7h1.3M429.5 230.7h1.3M421.5 220.7h1.3M423.1 217.1h1.3M422.0 225.9h1.3M440.1 232.0h1.3M436.5 224.3h1.3M439.1 221.1h1.3M425.6 230.5h1.3M427.7 223.2h1.3M430.1 230.5h1.3M436.8 226.1h1.3M413.0 222.5h1.3M431.7 216.9h1.3M429.6 233.7h1.3M437.6 232.6h1.3M425.1 225.6h1.3M410.8 213.0h1.3M433.4 222.8h1.3M429.0 231.9h1.3M434.9 226.7h1.3M427.4 220.9h1.3M441.7 236.9h1.3M427.6 221.1h1.3M434.6 226.1h1.3M437.7 234.2h1.3M432.7 238.3h1.3M430.5 238.4h1.3M429.6 232.3h1.3M421.2 214.5h1.3M440.0 238.3h1.3M439.6 233.2h1.3M433.8 225.9h1.3M430.6 231.6h1.3M417.3 215.6h1.3M432.4 227.4h1.3M420.8 213.1h1.3M404.3 213.6h1.3M408.4 214.3h1.3M431.9 218.5h1.3M409.9 222.4h1.3M434.9 232.6h1.3M409.8 211.9h1.3M430.3 225.4h1.3M414.0 214.4h1.3M418.2 218.0h1.3M418.4 219.9h1.3M434.8 223.2h1.3M438.7 224.4h1.3M430.6 234.5h1.3M429.9 220.6h1.3M414.1 212.4h1.3M405.1 215.3h1.3M416.5 225.2h1.3M405.4 218.3h1.3M440.2 238.8h1.3M442.3 238.6h1.3M434.1 235.9h1.3M423.5 215.9h1.3M427.0 226.2h1.3M416.1 214.6h1.3M412.9 218.9h1.3M417.3 223.9h1.3M410.6 216.1h1.3M416.1 217.7h1.3M410.7 210.9h1.3M423.8 228.2h1.3M419.5 216.0h1.3M432.2 227.0h1.3M438.4 224.8h1.3M419.7 227.8h1.3M434.4 222.4h1.3M436.1 225.0h1.3M437.6 223.4h1.3M437.9 224.4h1.3M442.1 230.5h1.3M442.7 232.3h1.3M426.7 236.0h1.3M431.5 218.1h1.3M405.4 212.8h1.3M437.6 229.6h1.3M437.2 228.4h1.3M417.6 226.7h1.3M407.1 218.8h1.3M427.2 234.5h1.3M416.8 211.3h1.3M407.4 218.6h1.3M429.6 230.4h1.3M432.4 235.4h1.3M431.9 229.4h1.3M428.2 229.3h1.3M433.9 238.4h1.3M408.9 215.6h1.3M427.1 215.8h1.3M432.1 229.2h1.3M426.6 219.0h1.3M435.7 221.0h1.3M417.6 225.7h1.3M437.1 222.0h1.3M429.7 226.1h1.3M407.8 217.8h1.3M408.5 212.3h1.3M436.5 219.3h1.3M413.1 220.4h1.3M435.9 237.2h1.3M416.3 219.0h1.3M434.6 229.7h1.3M434.6 221.2h1.3M425.1 230.1h1.3M430.7 233.6h1.3M425.6 219.3h1.3M408.4 221.7h1.3M435.2 217.9h1.3M424.8 223.4h1.3M428.7 237.6h1.3M426.0 226.7h1.3M442.7 226.8h1.3M412.8 222.2h1.3M434.6 221.3h1.3M410.7 221.0h1.3M408.0 212.5h1.3M417.0 214.8h1.3M434.2 227.6h1.3M429.3 217.3h1.3M424.2 222.7h1.3M427.8 226.4h1.3M441.6 228.0h1.3M427.5 217.2h1.3M405.2 217.6h1.3M424.6 228.2h1.3M444.2 239.1h1.3M433.5 218.5h1.3" stroke="#5eab50" stroke-width="1.3" stroke-opacity="0.8" fill="none"/>
<path d="M456.5 272.5h1.3M454.2 253.1h1.3M452.8 271.5h1.3M469.2 262.4h1.3M455.6 266.6h1.3M455.1 262.7h1.3M448.9 243.2h1.3M454.7 250.2h1.3M462.3 255.2h1.3M453.1 275.6h1.3M448.9 262.5h1.3M445.8 241.8h1.3M446.5 243.5h1.3M462.7 265.1h1.3M449.6 256.1h1.3M446.8 262.1h1.3M450.7 240.5h1.3M461.3 270.1h1.3M452.2 245.7h1.3M450.4 254.2h1.3M450.3 249.3h1.3M466.0 261.2h1.3M444.9 245.4h1.3M461.3 262.2h1.3M450.3 251.2h1.3M468.4 269.5h1.3M461.4 277.3h1.3M450.1 252.7h1.3M466.1 257.3h1.3M455.7 272.5h1.3M464.3 257.6h1.3M462.6 248.4h1.3M450.6 247.6h1.3M462.0 278.2h1.3M463.9 250.1h1.3M461.4 253.6h1.3M465.7 259.2h1.3M450.5 251.1h1.3M446.2 254.0h1.3M452.9 258.0h1.3M461.3 277.4h1.3M465.5 262.8h1.3M453.5 246.2h1.3M461.6 260.8h1.3M452.1 260.1h1.3M459.8 277.1h1.3M447.8 268.2h1.3M462.2 254.0h1.3M458.1 277.7h1.3M456.3 258.0h1.3M465.6 276.1h1.3M460.2 251.7h1.3M459.9 267.1h1.3M452.0 260.3h1.3M451.0 250.8h1.3M467.1 270.9h1.3M468.4 268.2h1.3M462.2 250.0h1.3M462.4 254.8h1.3M468.3 268.2h1.3M452.5 275.6h1.3M449.6 239.7h1.3M451.2 269.5h1.3M452.0 250.9h1.3M445.7 241.2h1.3M459.0 244.9h1.3M452.3 246.7h1.3M467.7 270.1h1.3M446.9 241.4h1.3M463.7 265.2h1.3M456.9 258.2h1.3M464.9 271.2h1.3M461.9 248.9h1.3M469.0 270.0h1.3M464.7 258.0h1.3M467.1 267.6h1.3M455.5 267.2h1.3M446.0 255.4h1.3M466.2 258.9h1.3M458.6 262.3h1.3M461.9 257.7h1.3M450.2 241.1h1.3M460.1 246.7h1.3M459.3 256.9h1.3M454.7 275.8h1.3M446.3 262.3h1.3M454.9 245.4h1.3M454.4 274.9h1.3M449.2 267.2h1.3M451.0 260.6h1.3M465.3 254.8h1.3M449.5 247.7h1.3M456.3 250.3h1.3M467.1 258.4h1.3M452.1 267.2h1.3M456.8 250.5h1.3M457.8 265.4h1.3M452.2 273.1h1.3M463.7 270.2h1.3M461.4 248.6h1.3M447.7 259.9h1.3M448.5 244.4h1.3M459.6 279.4h1.3M445.4 257.5h1.3M446.3 261.4h1.3M459.1 259.4h1.3M457.4 262.8h1.3M461.6 276.5h1.3M455.4 276.8h1.3M448.6 257.9h1.3M448.6 254.5h1.3M456.4 250.5h1.3M452.5 276.3h1.3M455.5 247.3h1.3M466.0 260.2h1.3M455.2 276.4h1.3M455.0 267.4h1.3M469.9 262.4h1.3M461.5 254.8h1.3M465.1 271.9h1.3M462.5 248.8h1.3M454.1 255.8h1.3M458.0 268.4h1.3M445.8 245.2h1.3M457.1 265.0h1.3M463.5 255.0h1.3M453.0 267.9h1.3M453.1 270.7h1.3M461.1 274.5h1.3M465.0 254.5h1.3M445.6 243.5h1.3M447.3 265.2h1.3M460.9 274.1h1.3M451.7 270.6h1.3M451.0 252.1h1.3M461.3 255.3h1.3M450.2 275.4h1.3M452.9 260.2h1.3M445.7 254.4h1.3M464.3 270.8h1.3M447.9 251.7h1.3M451.0 267.4h1.3M447.0 260.9h1.3M462.5 278.3h1.3M460.2 274.4h1.3M458.0 248.3h1.3M455.1 264.2h1.3M458.0 271.4h1.3M458.2 255.0h1.3M457.6 260.6h1.3M459.1 268.5h1.3M455.2 269.9h1.3M457.2 254.4h1.3M450.3 272.0h1.3M468.3 269.2h1.3M449.8 268.3h1.3M457.3 277.3h1.3M456.3 274.4h1.3M462.2 261.1h1.3M450.3 244.2h1.3M454.5 262.3h1.3M447.8 267.2h1.3M458.4 269.8h1.3M454.9 249.7h1.3M455.9 247.8h1.3M447.2 266.4h1.3M447.7 250.7h1.3M454.9 250.4h1.3M459.3 279.5h1.3M464.7 278.2h1.3M458.4 245.7h1.3M453.7 271.2h1.3M447.4 266.5h1.3M452.5 277.0h1.3M453.2 252.4h1.3M451.1 261.4h1.3M469.1 261.4h1.3M463.5 260.6h1.3M446.1 263.3h1.3M459.6 263.7h1.3M451.8 250.1h1.3M452.6 240.4h1.3M448.2 251.0h1.3M457.5 276.7h1.3M462.5 260.4h1.3M462.9 257.5h1.3M462.6 266.2h1.3M466.5 271.4h1.3M459.6 264.4h1.3M451.1 251.6h1.3M467.1 263.9h1.3M459.4 263.9h1.3M454.1 256.9h1.3M448.8 263.7h1.3M461.7 275.9h1.3M469.7 268.0h1.3M451.4 261.4h1.3M446.1 262.5h1.3M452.0 261.3h1.3M456.9 248.1h1.3M450.9 242.4h1.3M468.7 264.2h1.3M453.3 241.6h1.3M464.5 260.9h1.3M456.0 242.5h1.3M464.1 268.3h1.3M447.5 260.2h1.3M448.6 268.5h1.3M448.9 246.3h1.3M465.6 255.8h1.3M464.9 254.0h1.3M466.6 271.3h1.3M450.8 255.0h1.3M454.0 255.4h1.3M451.6 265.9h1.3M462.3 270.1h1.3M460.8 276.0h1.3M458.6 252.1h1.3M458.8 245.9h1.3M457.5 278.1h1.3M459.9 251.9h1.3M465.3 255.4h1.3M444.3 242.4h1.3M455.1 250.8h1.3M453.0 242.9h1.3M454.6 270.5h1.3M457.8 244.6h1.3M465.2 275.1h1.3M456.0 254.0h1.3M444.4 242.0h1.3M453.9 243.8h1.3M469.6 265.7h1.3M452.2 263.3h1.3M457.2 268.0h1.3M448.7 258.7h1.3M462.8 255.1h1.3M445.6 258.5h1.3M465.7 258.2h1.3M469.8 262.2h1.3M460.6 260.2h1.3M453.4 276.4h1.3M446.4 259.2h1.3M447.3 240.1h1.3M467.0 272.1h1.3M454.5 259.0h1.3M459.1 272.6h1.3M449.1 256.6h1.3M456.5 276.2h1.3M453.4 258.7h1.3M453.3 244.3h1.3M447.4 243.9h1.3M458.0 260.7h1.3M454.9 278.9h1.3M453.9 258.7h1.3M462.2 277.5h1.3M466.6 275.5h1.3M465.7 252.7h1.3M463.6 269.6h1.3M466.1 275.4h1.3M449.4 244.1h1.3M458.5 277.3h1.3M446.7 252.5h1.3M449.4 268.8h1.3M469.0 258.5h1.3M452.2 275.7h1.3M451.8 268.9h1.3M468.1 270.5h1.3M465.4 263.8h1.3M465.3 258.4h1.3M454.7 268.1h1.3M456.2 252.0h1.3M450.9 257.2h1.3M454.0 270.2h1.3M464.7 272.1h1.3M466.3 254.1h1.3M453.7 273.7h1.3M448.7 268.1h1.3M457.8 266.6h1.3M462.4 266.7h1.3M450.1 240.1h1.3M457.3 266.4h1.3M446.3 258.0h1.3M459.5 268.0h1.3M449.7 243.0h1.3M465.2 254.9h1.3M452.8 245.8h1.3M459.6 264.4h1.3M457.5 243.3h1.3M465.0 252.2h1.3M450.9 265.6h1.3M461.1 271.7h1.3M452.9 256.8h1.3M450.6 249.5h1.3M454.9 271.6h1.3M457.2 273.5h1.3M446.9 251.1h1.3M445.6 261.5h1.3M461.7 247.6h1.3M450.2 244.9h1.3M461.1 260.4h1.3M459.9 264.6h1.3M469.2 270.8h1.3M452.2 270.0h1.3M455.8 279.4h1.3M465.7 264.4h1.3M463.6 269.6h1.3M467.9 273.5h1.3M461.0 252.6h1.3M457.0 250.6h1.3M452.8 258.1h1.3M455.1 251.1h1.3M452.0 252.0h1.3M449.0 263.2h1.3M446.4 249.4h1.3M448.4 268.3h1.3M451.3 243.2h1.3M465.6 257.2h1.3M465.2 252.4h1.3M453.1 262.2h1.3M461.4 270.7h1.3M458.1 256.2h1.3M449.0 246.2h1.3M455.0 269.0h1.3M462.4 259.5h1.3M456.6 262.0h1.3M453.1 269.9h1.3M455.0 260.0h1.3M461.4 253.3h1.3M451.1 253.1h1.3M460.9 263.5h1.3M462.7 274.6h1.3M454.5 267.6h1.3M457.9 253.5h1.3M455.7 253.0h1.3M454.0 266.0h1.3M452.8 274.2h1.3M453.5 257.1h1.3M455.4 276.4h1.3M459.9 278.9h1.3M460.7 267.4h1.3M454.3 255.1h1.3M448.1 244.9h1.3M460.4 253.2h1.3M444.7 246.1h1.3M448.4 247.1h1.3M455.9 276.7h1.3M459.3 269.7h1.3M462.8 264.2h1.3M464.9 268.8h1.3M463.1 253.8h1.3M446.0 245.0h1.3M461.8 252.0h1.3M465.5 258.8h1.3M451.7 249.6h1.3M453.3 254.3h1.3M449.9 248.2h1.3M460.4 268.1h1.3M452.7 277.7h1.3M451.7 247.1h1.3M469.0 269.2h1.3M458.5 278.1h1.3M457.9 246.4h1.3M445.5 259.9h1.3M449.4 265.6h1.3M462.2 270.5h1.3M445.3 259.1h1.3M447.2 244.4h1.3M448.2 245.2h1.3M468.7 262.3h1.3M450.6 259.2h1.3M445.4 248.0h1.3M460.5 267.8h1.3M456.2 270.4h1.3M450.5 274.8h1.3M457.2 272.8h1.3M457.7 273.5h1.3M462.7 265.5h1.3M468.4 260.7h1.3M462.6 266.7h1.3M454.3 260.9h1.3M459.1 267.6h1.3M454.4 242.5h1.3M464.9 270.2h1.3M454.0 243.2h1.3M466.1 271.2h1.3M466.0 272.9h1.3M450.9 264.9h1.3M456.2 255.2h1.3M454.8 266.9h1.3M453.6 265.0h1.3M460.6 255.9h1.3M461.0 266.2h1.3M461.2 256.4h1.3M467.2 264.6h1.3M465.4 272.6h1.3M449.6 242.3h1.3M469.0 267.6h1.3M455.1 266.8h1.3M447.4 265.5h1.3M454.4 277.9h1.3M465.0 255.0h1.3M461.4 260.2h1.3M452.4 258.9h1.3M447.7 260.0h1.3M462.6 250.9h1.3M468.0 264.2h1.3M459.9 256.5h1.3M446.8 256.0h1.3M463.5 263.1h1.3M459.6 250.7h1.3M457.4 257.6h1.3M455.5 259.9h1.3M451.7 262.5h1.3M452.1 255.1h1.3M453.5 245.9h1.3M454.3 254.5h1.3M467.6 261.4h1.3M466.9 255.9h1.3M454.3 261.7h1.3M461.9 274.2h1.3M465.5 252.0h1.3M463.4 254.7h1.3M466.4 267.9h1.3M447.8 249.5h1.3M452.2 260.3h1.3M461.6 266.4h1.3M452.1 253.1h1.3M451.2 246.4h1.3M445.2 258.7h1.3M449.3 259.0h1.3M449.4 271.8h1.3M453.9 254.9h1.3M456.0 267.0h1.3M444.3 246.0h1.3M466.3 254.4h1.3M455.0 256.0h1.3M459.7 271.5h1.3M464.8 277.5h1.3M461.8 275.3h1.3M446.3 240.2h1.3M455.9 275.6h1.3M454.1 243.7h1.3M447.3 248.6h1.3M464.4 277.2h1.3M450.7 247.2h1.3M450.3 239.9h1.3M460.6 250.9h1.3M458.2 257.1h1.3M451.6 244.8h1.3M452.5 273.5h1.3M466.3 269.4h1.3M446.0 245.8h1.3M467.9 261.4h1.3M447.4 264.1h1.3M455.7 242.1h1.3M465.6 276.2h1.3M469.4 265.7h1.3M459.3 247.2h1.3M469.4 269.5h1.3M461.6 267.8h1.3M466.2 253.3h1.3M452.1 275.0h1.3M460.5 263.2h1.3M447.2 255.1h1.3M454.2 256.7h1.3M452.3 271.4h1.3M456.2 276.6h1.3M453.0 245.1h1.3M453.3 275.1h1.3M453.4 273.0h1.3M462.3 249.8h1.3M449.0 243.8h1.3M455.8 267.8h1.3M454.5 251.0h1.3M454.1 277.7h1.3M446.7 264.5h1.3M457.9 276.3h1.3M460.7 272.4h1.3M464.4 262.5h1.3M457.5 262.7h1.3M454.9 262.4h1.3M455.6 257.2h1.3M455.5 270.1h1.3M454.3 274.4h1.3M453.6 245.2h1.3M455.5 254.2h1.3M452.9 273.4h1.3M467.7 270.3h1.3M464.2 276.0h1.3M451.1 271.8h1.3M460.8 277.3h1.3M458.2 261.3h1.3M459.4 262.0h1.3M459.3 267.2h1.3M450.1 239.4h1.3M445.7 247.5h1.3M459.8 252.0h1.3M454.4 254.4h1.3M449.6 242.2h1.3M454.3 247.5h1.3M460.2 258.9h1.3M462.2 254.0h1.3M447.6 265.5h1.3M454.5 275.3h1.3M452.6 248.3h1.3M448.8 249.7h1.3M450.2 260.7h1.3M452.8 259.1h1.3M469.3 271.3h1.3M469.0 261.4h1.3M452.3 267.0h1.3M463.0 273.1h1.3M451.9 244.9h1.3M453.4 253.6h1.3M458.5 275.1h1.3M453.9 260.1h1.3M450.4 258.4h1.3M452.2 273.1h1.3M448.1 240.5h1.3M458.5 268.4h1.3M452.6 277.5h1.3M452.9 247.3h1.3M456.0 277.6h1.3M447.4 239.8h1.3M459.6 255.8h1.3M446.2 259.5h1.3M457.4 253.3h1.3M451.2 239.6h1.3M459.2 257.4h1.3M449.1 265.6h1.3M447.5 249.9h1.3M457.2 270.3h1.3M467.5 266.8h1.3M457.1 269.8h1.3M462.6 271.6h1.3M458.9 245.3h1.3M454.5 250.4h1.3M453.7 267.4h1.3M447.5 245.8h1.3M461.1 276.0h1.3M461.7 278.1h1.3M451.4 253.7h1.3M453.8 253.9h1.3M451.0 271.8h1.3M451.4 256.3h1.3M456.4 280.2h1.3M452.6 267.6h1.3M452.6 272.2h1.3M457.8 253.1h1.3M450.9 251.2h1.3M458.4 265.4h1.3M459.0 254.9h1.3M456.1 258.8h1.3M448.0 242.6h1.3M452.8 262.7h1.3M459.3 269.2h1.3M454.2 254.4h1.3M446.9 263.4h1.3M457.9 244.1h1.3M464.5 262.2h1.3M445.7 260.4h1.3M450.3 247.7h1.3M461.6 255.8h1.3M466.5 256.1h1.3M464.4 253.9h1.3M451.7 262.4h1.3M447.6 267.8h1.3M457.5 248.4h1.3M458.2 257.5h1.3M462.8 276.7h1.3M460.9 264.2h1.3M451.1 256.7h1.3M460.3 259.9h1.3M451.3 275.2h1.3M446.4 264.0h1.3M468.7 268.6h1.3M467.3 270.8h1.3M461.2 270.0h1.3M456.1 253.2h1.3M460.7 265.5h1.3M467.8 273.8h1.3M445.6 246.3h1.3M463.9 270.6h1.3M460.0 275.6h1.3M450.1 275.0h1.3M467.2 264.2h1.3M461.4 248.6h1.3M456.9 263.3h1.3M452.3 240.9h1.3M453.6 261.1h1.3M459.6 278.7h1.3M458.7 269.0h1.3M459.3 277.5h1.3M465.7 277.2h1.3M451.3 275.3h1.3M464.7 254.6h1.3M459.2 258.5h1.3M468.8 262.0h1.3M446.0 261.2h1.3M444.4 244.7h1.3" stroke="#5fae50" stroke-width="1.3" stroke-opacity="0.8" fill="none"/>
<path d="M456.5 230.8h1.3M451.1 229.7h1.3M453.9 229.2h1.3M455.9 226.8h1.3M450.7 228.7h1.3M459.4 235.4h1.3M460.7 234.2h1.3M461.0 233.4h1.3M453.6 231.2h1.3M455.9 226.8h1.3M457.1 229.0h1.3M462.4 232.8h1.3M459.3 234.1h1.3M456.1 228.8h1.3M456.5 231.7h1.3M455.8 229.5h1.3M458.8 234.9h1.3M454.6 231.4h1.3M454.8 227.2h1.3M456.9 235.0h1.3M456.3 228.9h1.3M451.7 232.9h1.3M454.9 234.8h1.3M452.7 229.0h1.3M454.6 228.9h1.3M455.5 234.1h1.3M451.2 228.8h1.3M451.8 231.3h1.3M461.3 229.5h1.3M451.7 229.0h1.3M458.4 229.5h1.3M459.2 227.9h1.3M461.5 231.9h1.3M462.3 232.1h1.3M457.5 234.6h1.3M457.7 227.3h1.3M458.0 229.2h1.3M458.0 234.4h1.3M453.0 229.0h1.3M454.4 232.7h1.3M459.8 233.8h1.3M459.8 234.6h1.3M459.4 230.8h1.3M455.5 227.2h1.3M455.3 227.0h1.3M460.8 233.2h1.3M462.9 231.6h1.3M462.1 231.3h1.3M453.6 230.3h1.3M458.7 234.9h1.3M457.1 230.8h1.3M456.9 235.3h1.3M454.9 227.0h1.3M455.2 232.6h1.3M459.0 234.2h1.3M460.6 234.1h1.3M457.9 235.4h1.3M458.7 227.8h1.3M457.1 230.1h1.3M453.9 228.7h1.3M451.4 230.0h1.3M451.5 232.4h1.3M454.4 233.7h1.3M462.2 234.9h1.3M459.7 233.9h1.3M457.6 231.6h1.3M458.8 228.2h1.3M456.2 227.6h1.3M461.9 231.2h1.3M457.6 233.6h1.3M460.5 233.1h1.3M455.9 229.1h1.3M451.7 230.0h1.3M461.6 235.1h1.3M461.9 233.6h1.3M456.9 229.4h1.3M461.9 229.4h1.3M454.5 231.9h1.3M452.1 230.8h1.3M452.0 230.8h1.3M462.4 233.3h1.3M459.7 230.5h1.3M452.4 227.6h1.3M455.5 227.0h1.3M459.2 228.2h1.3M459.0 231.8h1.3M459.1 233.1h1.3M460.3 231.0h1.3M457.5 228.8h1.3M456.6 227.3h1.3M455.3 231.5h1.3M456.4 229.7h1.3M458.2 230.3h1.3M455.4 226.8h1.3M457.8 227.2h1.3M461.2 231.0h1.3M454.8 232.7h1.3M461.2 230.2h1.3M454.9 234.2h1.3M451.3 227.6h1.3" stroke="#3f8a66" stroke-width="1.3" stroke-opacity="0.85" fill="none"/>
<path d="M447.8 292.7h1.3M447.8 294.0h1.3M449.9 291.6h1.3M446.1 294.6h1.3M445.6 294.8h1.3M448.7 294.6h1.3M448.2 289.6h1.3M448.8 292.2h1.3M445.2 289.5h1.3M445.7 289.7h1.3M444.8 294.6h1.3M447.7 292.7h1.3M444.3 289.7h1.3M449.1 292.7h1.3M447.8 294.0h1.3M449.4 293.7h1.3M449.6 294.4h1.3M450.4 292.4h1.3M447.5 289.0h1.3M447.4 292.7h1.3M450.1 294.8h1.3M444.3 289.8h1.3M446.5 294.1h1.3M445.1 294.1h1.3M447.9 294.8h1.3M446.2 291.6h1.3M449.2 292.3h1.3M447.5 295.0h1.3M449.1 291.0h1.3M450.3 293.8h1.3" stroke="#5aa84a" stroke-width="1.3" stroke-opacity="0.8" fill="none"/>
<path d="M415.7 283.5h1.2M424.0 287.9h1.2M426.0 293.1h1.2M418.3 284.9h1.2M411.8 288.4h1.2M418.7 284.5h1.2M420.5 290.3h1.2M417.2 284.9h1.2M428.2 290.1h1.2M415.8 282.7h1.2M429.2 294.3h1.2M413.8 285.5h1.2M415.7 283.1h1.2M424.2 286.0h1.2M423.7 290.8h1.2M409.4 288.5h1.2M423.2 289.8h1.2M423.5 291.9h1.2M416.5 293.0h1.2M418.8 281.3h1.2M423.5 285.5h1.2M423.1 285.9h1.2M420.1 288.6h1.2M424.7 284.8h1.2M423.9 283.8h1.2M410.6 281.0h1.2M422.3 285.2h1.2M421.8 285.0h1.2M418.8 293.3h1.2M425.5 294.2h1.2M413.2 286.0h1.2M428.7 288.1h1.2M429.0 292.8h1.2M413.1 282.7h1.2M417.2 283.5h1.2M412.1 289.8h1.2M417.3 289.9h1.2M415.7 287.7h1.2M420.9 283.5h1.2M427.0 286.4h1.2M420.0 282.0h1.2M415.2 286.5h1.2M428.9 289.1h1.2M427.0 293.0h1.2M411.0 285.1h1.2M427.5 291.6h1.2M421.5 286.4h1.2M411.9 285.7h1.2M412.1 283.8h1.2M426.9 291.8h1.2M425.3 288.8h1.2M422.8 286.6h1.2M414.3 291.8h1.2M427.0 291.0h1.2M422.5 288.3h1.2M414.5 284.9h1.2M424.5 291.1h1.2M419.4 286.3h1.2M413.5 286.2h1.2M422.6 292.7h1.2M409.2 290.0h1.2M412.0 289.7h1.2M422.5 288.0h1.2M418.5 288.4h1.2M419.5 282.6h1.2M417.7 281.2h1.2M423.7 289.3h1.2M423.7 292.2h1.2M410.7 291.3h1.2M427.8 288.8h1.2M429.7 293.2h1.2M418.4 284.6h1.2M413.5 281.0h1.2M424.9 292.3h1.2M410.1 287.7h1.2M427.5 289.9h1.2M418.4 285.0h1.2M420.1 285.5h1.2M417.7 287.7h1.2M410.7 289.3h1.2M422.0 290.9h1.2M414.4 281.0h1.2M424.7 285.9h1.2M422.3 284.4h1.2M416.8 284.3h1.2M420.0 290.0h1.2M414.3 285.1h1.2M419.3 290.7h1.2M417.2 281.3h1.2M420.5 287.1h1.2M431.2 289.0h1.2M410.0 289.9h1.2M410.9 285.9h1.2M409.8 289.3h1.2M429.3 288.1h1.2M419.3 286.2h1.2M416.9 281.3h1.2M418.5 283.2h1.2M414.0 284.4h1.2M413.0 281.7h1.2M410.2 291.0h1.2M412.9 292.1h1.2M422.3 294.4h1.2M415.5 289.4h1.2M422.7 283.2h1.2M422.4 291.1h1.2M426.9 293.1h1.2M416.2 291.7h1.2M412.4 286.0h1.2M418.0 290.7h1.2M422.7 292.4h1.2M418.2 286.2h1.2M415.8 288.3h1.2M420.7 292.2h1.2M410.3 284.4h1.2M417.5 282.7h1.2M416.6 284.1h1.2M418.1 283.0h1.2M425.5 291.8h1.2M427.5 286.4h1.2" stroke="#9a8a70" stroke-width="1.2" stroke-opacity="0.65" fill="none"/>
<path d="M406.8 293.9h1.2M412.9 294.6h1.2M413.5 291.6h1.2M406.6 292.5h1.2M411.4 295.1h1.2M407.1 291.2h1.2M404.6 294.1h1.2M409.0 290.3h1.2M409.1 291.9h1.2M412.4 290.3h1.2M409.1 291.7h1.2M404.8 289.7h1.2M406.3 291.6h1.2M409.6 293.6h1.2M412.0 291.0h1.2M411.5 293.2h1.2M406.0 292.6h1.2M405.7 292.7h1.2M411.9 292.6h1.2M412.6 291.3h1.2M410.8 291.7h1.2M412.0 290.3h1.2M409.8 294.2h1.2M404.8 293.4h1.2M412.7 290.0h1.2M411.9 292.8h1.2M407.8 291.3h1.2M407.0 291.9h1.2M409.0 289.9h1.2M405.7 289.5h1.2M406.4 289.8h1.2M412.9 290.7h1.2M410.7 294.9h1.2M411.7 293.7h1.2M408.2 291.9h1.2" stroke="#6a7e96" stroke-width="1.2" stroke-opacity="0.75" fill="none"/>
<path d="M437.3 288.8h1.2M434.7 293.2h1.2M433.5 290.9h1.2M432.4 289.0h1.2M432.8 293.1h1.2M436.6 294.9h1.2M435.9 288.8h1.2M433.4 290.0h1.2M432.6 290.9h1.2M436.6 291.4h1.2M432.4 293.2h1.2M432.2 293.2h1.2M434.9 293.9h1.2M435.3 294.5h1.2M435.3 293.7h1.2M432.7 291.9h1.2M433.0 293.4h1.2M431.8 288.1h1.2M437.6 293.3h1.2M432.9 289.5h1.2M434.2 288.8h1.2M432.7 293.4h1.2M436.1 293.3h1.2M433.3 288.7h1.2M433.9 288.7h1.2M434.7 288.4h1.2M433.6 293.3h1.2M432.9 290.7h1.2M435.6 288.2h1.2M437.1 294.6h1.2M435.1 291.2h1.2M432.0 288.9h1.2M432.0 291.5h1.2M434.2 288.3h1.2M431.9 291.8h1.2" stroke="#5e86a8" stroke-width="1.2" stroke-opacity="0.75" fill="none"/>
<path d="M425.6 247.0h1.1M431.1 244.6h1.1M425.6 244.2h1.1M428.9 241.0h1.1M430.1 243.9h1.1M426.4 243.5h1.1M426.4 244.0h1.1M428.2 244.7h1.1M428.6 241.5h1.1M430.9 244.7h1.1M430.1 243.3h1.1M431.4 242.9h1.1M426.1 241.9h1.1M425.0 244.6h1.1M425.9 247.3h1.1M425.0 245.1h1.1M427.2 244.7h1.1M425.3 243.4h1.1M428.6 245.1h1.1M425.4 245.3h1.1M426.2 245.0h1.1M428.4 245.8h1.1M424.2 243.7h1.1M426.6 241.2h1.1M430.8 245.0h1.1M428.8 246.3h1.1M426.4 243.0h1.1M424.3 242.8h1.1M428.9 244.9h1.1M429.0 240.4h1.1M431.1 242.3h1.1M424.6 245.1h1.1M424.2 242.1h1.1M424.5 242.7h1.1M428.2 245.1h1.1M429.3 240.6h1.1M428.2 244.0h1.1M430.8 244.3h1.1M427.1 243.8h1.1M433.6 243.3h1.1M425.7 245.2h1.1M427.1 241.4h1.1M424.8 242.1h1.1M428.6 240.4h1.1M425.4 243.8h1.1M434.6 242.1h1.1M431.6 242.3h1.1M429.0 241.8h1.1M429.6 241.2h1.1M426.0 241.6h1.1" stroke="#d8c0a0" stroke-width="1.1" stroke-opacity="0.55" fill="none"/>
<path d="M419.5 238.5h1.1M416.5 232.9h1.1M419.5 234.8h1.1M408.8 232.6h1.1M412.3 233.3h1.1M400.6 223.7h1.1M402.6 229.1h1.1M414.8 226.6h1.1M420.7 240.5h1.1M408.6 233.6h1.1M415.6 230.7h1.1M414.8 235.8h1.1M413.3 229.2h1.1M416.1 227.8h1.1M402.3 222.1h1.1M410.6 236.7h1.1M418.3 231.3h1.1M403.7 229.3h1.1M408.6 228.8h1.1M416.1 238.9h1.1M416.6 237.7h1.1M401.1 229.0h1.1M407.0 223.5h1.1M415.3 232.0h1.1M418.4 232.3h1.1M413.9 231.1h1.1M408.5 236.6h1.1M413.5 229.0h1.1M414.7 232.5h1.1M407.7 235.7h1.1M413.5 235.6h1.1M421.1 239.1h1.1M406.3 222.6h1.1M402.9 222.1h1.1M412.5 229.2h1.1M401.4 230.1h1.1M418.2 238.7h1.1M416.0 232.2h1.1M403.2 229.5h1.1M416.5 237.7h1.1M406.4 230.6h1.1M410.2 223.2h1.1M400.7 226.5h1.1M413.6 232.6h1.1M417.2 228.4h1.1M402.4 229.0h1.1M418.8 230.4h1.1M413.1 224.0h1.1M414.8 231.9h1.1M420.0 232.2h1.1M418.6 236.7h1.1M406.4 230.0h1.1M401.4 224.0h1.1M412.1 227.6h1.1M404.3 228.9h1.1M401.8 227.4h1.1M416.9 231.7h1.1M418.9 238.9h1.1M413.9 234.9h1.1M414.1 226.9h1.1M415.4 232.8h1.1M415.0 239.3h1.1M407.3 234.4h1.1M418.5 235.7h1.1M415.6 233.0h1.1M411.2 234.6h1.1M403.5 230.0h1.1M414.9 230.5h1.1M407.8 223.4h1.1M416.7 229.5h1.1M416.9 237.2h1.1M418.2 240.5h1.1M401.6 223.1h1.1M409.8 237.0h1.1M416.8 230.3h1.1M416.1 234.3h1.1M405.4 225.0h1.1M400.9 224.7h1.1M407.9 228.3h1.1M403.9 222.9h1.1M404.4 230.5h1.1M403.0 221.7h1.1M417.7 239.2h1.1M414.6 230.0h1.1M412.6 234.3h1.1M414.8 234.5h1.1M417.2 240.5h1.1M403.6 226.7h1.1M422.1 235.4h1.1M418.2 240.4h1.1" stroke="#a8cf98" stroke-width="1.1" stroke-opacity="0.6" fill="none"/>
<path d="M383.7 240.0h1.1M383.6 235.8h1.1M384.6 235.1h1.1M384.2 237.5h1.1M385.8 239.2h1.1M382.3 245.3h1.1M383.4 236.5h1.1M382.6 238.1h1.1M385.1 243.7h1.1M382.1 238.0h1.1M384.5 238.4h1.1M384.0 237.5h1.1M381.1 238.9h1.1M380.8 237.3h1.1M383.5 244.0h1.1M384.7 240.4h1.1M383.5 238.3h1.1M382.8 236.3h1.1M383.0 240.4h1.1M382.1 235.6h1.1M380.9 238.6h1.1M381.6 237.4h1.1M382.6 242.9h1.1M382.6 244.8h1.1M381.9 242.8h1.1M381.5 236.1h1.1M385.5 243.1h1.1M384.1 239.4h1.1M382.1 245.4h1.1M382.4 245.0h1.1M381.8 242.7h1.1M382.8 241.7h1.1M382.8 242.6h1.1M385.2 244.2h1.1M382.9 245.5h1.1M384.6 235.1h1.1M384.4 245.2h1.1M383.6 244.4h1.1M383.4 235.4h1.1M381.8 235.8h1.1" stroke="#7aa0b8" stroke-width="1.1" stroke-opacity="0.6" fill="none"/>
</g>
<clipPath id="clip_A1"><rect x="30.9" y="34.2" width="108.0" height="107.60000000000001"/></clipPath>
<g clip-path="url(#clip_A1)"><g filter="url(#soft)">
<path d="M119.2 102.2h0.7M116.4 83.2h0.7M123.6 82.7h0.7M119.7 69.0h0.7M122.5 87.4h0.7M116.6 96.4h0.7M116.2 84.3h0.7M113.9 82.5h0.7M114.8 77.4h0.7M122.5 78.1h0.7M118.8 103.3h0.7M119.6 78.0h0.7M119.2 72.2h0.7M120.7 96.0h0.7M120.6 101.0h0.7M112.6 87.0h0.7M118.4 70.2h0.7M121.0 98.7h0.7M120.3 77.4h0.7M123.8 86.3h0.7M119.2 95.1h0.7M114.1 97.5h0.7M121.6 96.3h0.7M114.7 96.9h0.7M124.3 85.0h0.7M121.0 93.9h0.7M123.7 78.1h0.7M115.0 91.0h0.7M114.1 85.4h0.7M124.5 83.2h0.7M120.3 68.9h0.7M121.4 101.1h0.7M121.2 76.8h0.7M122.8 75.6h0.7M123.6 73.9h0.7M117.3 79.4h0.7M121.7 74.4h0.7M115.7 83.2h0.7M113.5 90.8h0.7M117.3 94.1h0.7M121.2 83.5h0.7M124.1 90.8h0.7M123.3 80.3h0.7M119.6 75.1h0.7M115.6 70.6h0.7M115.6 95.5h0.7M121.8 72.6h0.7M117.3 83.2h0.7M121.3 84.4h0.7M120.2 98.2h0.7M122.2 81.1h0.7M118.3 81.2h0.7M113.5 75.3h0.7M116.0 79.3h0.7M116.4 88.8h0.7M123.1 95.3h0.7M120.4 101.0h0.7M121.7 86.0h0.7M113.1 85.6h0.7M115.0 72.8h0.7M119.1 96.3h0.7M116.1 95.7h0.7M119.4 73.4h0.7M125.5 82.5h0.7M116.1 98.5h0.7M113.7 94.4h0.7M114.6 82.1h0.7M115.2 98.3h0.7M117.5 103.1h0.7M120.8 93.0h0.7" stroke="#8a88aa" stroke-width="0.7" stroke-opacity="0.8" fill="none"/>
<path d="M112.2 67.7h0.7M111.0 75.3h0.7M114.6 68.3h0.7M113.4 68.6h0.7M110.8 70.0h0.7M107.2 69.9h0.7M114.5 69.3h0.7M109.1 74.9h0.7M115.5 71.3h0.7M115.1 71.6h0.7M110.6 73.1h0.7M107.3 69.4h0.7M110.7 69.7h0.7M108.3 66.7h0.7M112.6 68.7h0.7" stroke="#8a88aa" stroke-width="0.7" stroke-opacity="0.8" fill="none"/>
<path d="M113.5 48.8h0.7M114.3 49.9h0.7M111.2 46.3h0.7M113.4 46.0h0.7M110.5 50.2h0.7M110.4 48.9h0.7M112.1 48.6h0.7M105.9 48.1h0.7M105.7 49.7h0.7M107.3 45.1h0.7" stroke="#8a88aa" stroke-width="0.7" stroke-opacity="0.8" fill="none"/>
<path d="M88.3 132.3h0.7M91.4 135.7h0.7M94.1 134.8h0.7M87.4 130.9h0.7M87.1 132.8h0.7M89.1 130.1h0.7M89.5 128.8h0.7M94.9 133.2h0.7M93.3 128.3h0.7M91.2 133.5h0.7M87.9 131.1h0.7M88.6 131.3h0.7" stroke="#8a88aa" stroke-width="0.7" stroke-opacity="0.8" fill="none"/>
<path d="M92.9 40.1 94.9 40.0 102.9 40.8 104.4 41.0 105.6 41.7 110.8 46.7 112.0 48.2 114.9 54.0 116.0 58.2 116.5 59.2 120.4 61.9 121.6 63.2 123.9 68.2 124.8 70.7 126.9 83.5 128.7 97.2 128.4 99.0 126.4 104.6 125.1 107.2 117.4 113.5 110.9 115.5 109.4 116.3 104.6 123.7 100.9 132.5 94.9 138.3 93.9 138.9 92.9 139.1 80.4 137.3 78.9 136.7 77.8 135.2 75.3 128.7 73.8 123.7 72.9 122.3 71.4 122.3 67.9 124.0 66.4 124.4 57.4 124.4 55.9 123.5 53.4 120.2 51.9 118.9 41.9 115.7 40.8 114.2 37.0 104.7 35.3 91.2 39.6 67.2 44.5 57.2 45.4 55.9 47.2 54.2 53.9 48.5 62.9 44.4 65.4 44.2 75.9 45.1 81.4 47.1 82.9 47.3 83.9 46.8 85.4 44.2 86.4 43.1Z" fill="none" stroke="#9a98bc" stroke-width="0.7"/>
<path d="M96.9 45.2 99.4 45.0 100.4 45.4 104.2 49.2 104.9 50.7 105.8 57.2 103.7 69.2 103.6 70.2 103.9 71.2 105.4 72.8 106.9 73.9 114.9 76.9 119.4 79.2 121.3 80.7 124.2 88.2 124.2 96.7 122.4 101.6 121.5 103.2 117.9 105.2 115.9 105.8 112.9 105.8 111.9 105.3 109.9 98.2 109.2 97.2 108.4 97.3 107.9 98.7 107.4 103.2 107.7 110.2 107.4 112.4 106.0 116.2 101.9 118.9 101.1 120.2 100.2 123.7 99.8 129.2 99.4 130.7 97.4 133.8 96.4 134.7 88.4 136.1 86.9 136.1 80.2 133.7 78.9 132.7 76.9 126.7 76.0 122.2 75.4 121.2 74.9 120.8 71.9 120.4 65.9 121.2 60.4 120.6 58.4 119.7 55.5 117.2 55.2 115.2 55.4 110.7 56.5 109.7 62.9 106.3 64.1 104.7 65.9 99.7 65.6 95.7 64.9 94.2 62.4 93.1 58.9 93.1 56.9 93.6 54.9 95.2 54.1 96.2 53.7 97.2 52.4 108.2 51.9 109.7 50.4 111.7 46.4 112.9 44.9 113.1 43.9 112.7 41.0 110.7 40.0 109.7 39.5 107.7 38.9 100.2 40.9 91.8 44.2 86.7 46.2 82.2 46.4 80.7 46.1 72.7 47.4 65.7 49.5 61.2 54.9 53.9 62.9 49.4 65.9 48.6 72.4 47.8 81.4 49.2 84.4 51.2 86.4 53.2 87.2 59.2 87.8 61.7 88.9 64.9 89.4 65.5 89.9 65.5 90.2 63.7 89.3 53.2 89.4 51.7 92.4 46.2 93.5 45.7ZM96.8 46.2 94.7 46.7 93.9 47.7 94.7 53.2 94.8 59.2 95.6 61.7 95.6 64.2 96.1 65.7 97.4 66.9 99.4 67.1 100.9 66.4 101.8 65.2 102.0 63.7 101.6 60.2 103.6 57.7 104.1 55.7 102.6 51.7 99.9 46.9 98.9 46.2ZM65.7 49.7 63.8 50.2 62.2 51.2 60.8 52.7 59.4 55.0 57.3 57.2 55.9 58.1 53.4 58.8 52.4 59.3 51.4 60.3 50.1 62.2 49.6 64.2 49.6 67.7 47.3 73.2 47.4 81.7 46.1 85.2 46.2 86.2 46.9 86.8 48.4 87.1 50.4 86.9 52.9 86.2 54.9 86.5 60.4 89.2 62.5 91.7 66.0 93.7 66.6 95.2 66.9 99.2 65.8 103.7 66.0 105.7 67.7 109.7 69.6 112.7 71.3 114.7 72.9 115.9 75.9 117.0 84.9 118.4 93.9 117.4 96.9 116.5 99.4 114.8 101.0 112.7 103.4 105.5 105.8 102.7 106.3 101.7 107.0 97.2 107.9 95.9 109.4 95.3 110.5 95.7 114.9 100.6 115.9 101.4 117.4 100.9 120.6 98.2 121.0 96.7 120.9 88.2 118.4 81.3 117.9 80.5 116.9 79.9 108.9 78.3 108.4 78.5 107.9 79.2 107.4 81.2 106.9 81.7 105.9 81.8 100.9 79.9 96.4 78.7 95.9 78.2 94.8 75.2 93.6 73.2 92.2 71.7 88.9 69.2 87.1 64.2 85.9 62.4 83.9 61.4 81.9 61.5 79.9 62.6 77.9 65.1 77.4 65.0 75.6 63.2 74.9 62.0 74.2 55.2 73.8 53.7 72.9 52.2 71.4 50.7 69.9 49.8 67.9 49.4ZM44.4 98.7 42.4 99.2 40.8 100.2 40.1 101.2 40.0 103.2 40.5 107.7 41.0 109.2 42.9 110.7 45.4 111.1 47.9 110.3 49.7 108.7 50.7 106.7 51.0 104.2 50.1 101.7 48.9 100.2 46.9 99.0ZM60.7 109.2 58.9 110.2 57.7 111.7 57.2 113.7 57.5 115.7 58.3 117.2 59.9 118.5 61.9 119.1 63.9 118.9 65.9 117.7 66.9 116.2 67.4 114.2 67.2 112.2 66.3 110.7 64.4 109.3 62.4 108.9ZM85.6 121.7 83.8 122.7 82.3 124.7 81.9 126.7 82.1 128.7 83.2 130.7 84.9 132.0 86.9 132.6 89.4 132.3 91.4 131.1 92.7 129.2 93.1 127.2 92.8 125.2 91.7 123.2 89.9 121.9 87.9 121.4Z" fill="#2b2287"/>
<path d="M96.9 46.2 98.9 46.2 99.9 46.9 102.6 51.7 104.1 55.7 103.6 57.7 101.6 60.2 102.0 63.7 101.8 65.2 100.9 66.4 99.4 67.1 97.4 66.9 96.1 65.7 95.6 64.2 95.6 61.7 94.8 59.2 94.7 53.2 93.9 47.7 94.7 46.7ZM96.4 47.7 95.9 48.2 95.9 49.2 98.9 55.7 100.0 57.2 100.9 57.5 101.4 57.4 102.1 56.7 102.2 55.2 99.9 50.1 98.4 47.9 97.4 47.6ZM97.7 62.7 97.3 63.7 97.5 64.7 98.4 65.4 99.6 65.2 100.2 64.2 99.9 62.8 98.9 62.2ZM65.9 49.7 67.9 49.4 69.9 49.8 71.4 50.7 72.9 52.2 73.8 53.7 74.2 55.2 74.9 62.0 75.6 63.2 77.4 65.0 77.9 65.1 79.9 62.6 81.9 61.5 83.9 61.4 85.9 62.4 87.1 64.2 88.9 69.2 92.2 71.7 93.6 73.2 94.8 75.2 95.9 78.2 96.4 78.7 100.9 79.9 105.9 81.8 106.9 81.7 107.4 81.2 107.9 79.2 108.4 78.5 108.9 78.3 116.9 79.9 117.9 80.5 118.4 81.3 120.9 88.2 121.0 96.7 120.6 98.2 117.4 100.9 115.9 101.4 114.9 100.6 110.5 95.7 109.4 95.3 107.9 95.9 107.0 97.2 106.3 101.7 105.8 102.7 103.4 105.5 101.0 112.7 99.4 114.8 96.9 116.5 93.9 117.4 84.9 118.4 75.9 117.0 72.9 115.9 71.3 114.7 69.6 112.7 67.7 109.7 66.0 105.7 65.8 103.7 66.9 99.2 66.6 95.2 66.0 93.7 62.5 91.7 60.4 89.2 54.9 86.5 52.9 86.2 50.4 86.9 48.4 87.1 46.9 86.8 46.2 86.2 46.1 85.2 47.4 81.7 47.3 73.2 49.6 67.7 49.6 64.2 50.1 62.2 51.4 60.3 52.4 59.3 53.4 58.8 55.9 58.1 57.3 57.2 59.4 55.0 60.8 52.7 62.2 51.2 63.9 50.2ZM66.4 50.7 64.4 51.2 62.9 52.3 60.4 56.4 57.9 59.0 56.5 59.7 53.4 60.5 52.4 61.2 51.6 62.2 51.1 63.7 51.4 66.7 51.3 68.2 48.9 73.2 48.5 74.7 48.4 81.7 47.8 84.2 47.9 85.0 48.4 85.4 49.4 85.5 53.4 84.5 55.9 85.0 61.9 88.1 62.6 88.7 63.8 90.7 66.9 93.0 67.5 94.7 67.9 99.2 67.1 103.2 67.5 105.2 69.3 109.2 71.7 112.7 73.4 114.2 76.4 115.3 84.9 116.7 93.9 115.7 96.4 114.9 98.1 113.7 99.4 112.1 102.0 104.7 104.7 101.7 105.4 100.5 106.2 96.2 108.6 93.7 108.8 92.7 108.6 90.2 107.7 86.7 106.2 84.2 104.9 83.1 100.9 81.6 95.9 80.3 94.9 79.7 92.9 74.7 91.4 72.9 87.8 70.2 86.0 64.7 85.3 63.7 84.4 63.1 83.4 62.8 81.9 62.9 80.7 63.7 80.0 64.7 79.7 66.7 80.5 70.2 80.5 71.7 79.9 72.8 79.4 72.9 79.1 72.7 76.6 66.7 73.7 63.2 73.2 62.2 72.9 60.7 73.0 56.2 72.2 53.7 71.0 52.2 69.6 51.2 67.9 50.7ZM44.4 98.7 46.9 99.0 48.9 100.2 50.1 101.7 51.0 104.2 50.7 106.7 49.7 108.7 47.9 110.3 45.4 111.1 42.9 110.7 41.0 109.2 40.5 107.7 40.0 103.2 40.1 101.2 40.8 100.2 42.4 99.2ZM43.9 100.2 41.9 101.1 41.2 102.2 41.5 107.2 41.9 108.4 42.9 109.3 44.4 109.7 45.9 109.6 47.7 108.7 48.9 107.4 49.5 105.7 49.4 103.7 48.7 102.2 47.4 100.9 45.9 100.2ZM60.9 109.1 62.9 108.9 64.4 109.3 66.3 110.7 67.2 112.2 67.4 114.2 66.9 116.2 65.9 117.7 63.9 118.9 61.9 119.1 59.9 118.5 58.3 117.2 57.5 115.7 57.2 113.7 57.7 111.7 58.9 110.2ZM60.7 111.2 59.6 112.2 59.2 113.2 59.1 114.7 59.5 115.7 60.4 116.6 61.4 117.1 62.9 117.2 63.9 116.8 64.9 115.9 65.5 114.7 65.4 113.2 65.0 112.2 63.9 111.2 62.9 110.8 61.9 110.8ZM85.9 121.6 88.4 121.4 90.4 122.2 92.1 123.7 93.0 125.7 93.1 127.7 92.5 129.7 90.9 131.5 88.9 132.5 86.9 132.6 84.9 132.0 83.2 130.7 82.1 128.7 81.9 126.2 82.6 124.2 83.9 122.7ZM85.7 123.7 84.5 124.7 84.0 125.7 83.8 127.2 84.2 128.7 84.9 129.7 86.4 130.6 87.9 130.7 89.4 130.2 90.4 129.4 91.1 128.2 91.2 126.7 90.8 125.2 89.9 124.1 88.4 123.4 86.9 123.3Z" fill="#3553bb"/>
<path d="M96.4 47.7 97.4 47.6 98.4 47.9 99.9 50.1 102.2 55.2 102.1 56.7 101.4 57.4 100.9 57.5 100.0 57.2 98.9 55.7 95.9 49.2 95.9 48.2ZM66.4 50.7 67.9 50.7 69.6 51.2 71.0 52.2 72.2 53.7 73.0 56.2 72.9 60.7 73.2 62.2 73.7 63.2 76.6 66.7 79.1 72.7 79.4 72.9 79.9 72.8 80.5 71.7 80.5 70.2 79.7 66.7 80.0 64.7 80.7 63.7 81.9 62.9 83.4 62.8 84.4 63.1 85.3 63.7 86.0 64.7 87.8 70.2 91.4 72.9 92.9 74.7 94.9 79.7 95.9 80.3 100.9 81.6 104.9 83.1 106.2 84.2 107.7 86.7 108.6 90.2 108.8 92.7 108.6 93.7 106.2 96.2 105.4 100.5 104.7 101.7 102.0 104.7 99.4 112.1 98.1 113.7 96.4 114.9 93.9 115.7 84.9 116.7 76.4 115.3 73.4 114.2 71.7 112.7 69.3 109.2 67.5 105.2 67.1 103.2 67.9 99.2 67.5 94.7 66.9 93.0 63.8 90.7 62.6 88.7 61.9 88.1 55.9 85.0 53.4 84.5 49.4 85.5 48.4 85.4 47.9 85.0 47.8 84.2 48.4 81.7 48.5 74.7 48.9 73.2 51.3 68.2 51.4 66.7 51.1 63.7 51.6 62.2 52.4 61.2 53.4 60.5 56.5 59.7 57.9 59.0 60.4 56.4 62.9 52.3 64.4 51.2ZM65.5 52.2 64.4 52.8 63.4 53.7 62.6 55.2 62.2 56.7 62.3 58.2 63.8 60.7 63.9 61.2 63.6 61.7 61.9 62.9 60.4 63.3 56.9 61.8 54.9 61.7 53.8 62.2 53.0 63.2 52.8 64.7 53.4 66.2 59.3 70.2 60.1 71.7 60.2 73.7 59.9 74.6 59.4 74.8 56.9 73.6 54.9 73.6 50.4 76.0 49.8 76.7 49.5 77.7 49.8 83.2 50.4 83.5 52.9 82.7 57.9 80.2 58.9 80.0 59.4 80.3 61.4 83.3 66.9 87.3 67.7 89.2 67.9 91.7 68.5 94.2 68.9 99.7 68.6 102.7 68.9 104.7 70.5 108.2 72.5 111.2 74.0 112.7 76.4 113.7 84.9 115.1 93.4 114.1 95.4 113.6 96.9 112.6 98.1 111.2 99.8 106.7 100.4 103.6 103.9 100.2 104.6 98.7 105.3 95.7 107.0 93.2 106.9 90.1 106.0 87.2 104.9 85.6 103.4 84.5 95.4 82.3 93.9 81.6 93.3 80.7 92.6 77.2 91.9 75.5 90.4 73.8 86.8 71.2 85.7 69.2 84.8 65.7 84.1 64.7 83.4 64.3 82.4 64.4 81.4 65.4 81.3 66.7 82.2 70.7 82.0 72.2 81.3 73.7 78.7 77.2 78.5 80.2 78.1 81.2 77.4 81.7 75.9 81.9 74.4 81.7 73.5 81.2 73.3 80.7 73.6 80.2 76.0 78.2 77.2 76.7 77.6 74.7 77.1 71.7 75.9 68.2 74.9 66.5 72.9 64.5 70.1 62.7 69.2 61.7 69.4 61.2 70.9 59.5 71.5 58.2 71.7 56.2 71.0 54.2 69.9 53.0 68.4 52.1 66.9 51.9ZM97.9 62.5 98.9 62.2 99.9 62.8 100.2 64.2 99.4 65.3 98.4 65.4 97.5 64.7 97.3 63.7ZM44.4 100.1 46.4 100.4 47.8 101.2 49.0 102.7 49.5 104.2 49.4 106.2 48.7 107.7 47.4 108.9 45.4 109.6 43.4 109.5 42.1 108.7 41.6 107.7 41.3 105.2 41.1 102.7 41.4 101.7 42.5 100.7ZM43.5 101.7 42.7 102.2 42.2 103.2 42.7 107.2 43.9 108.2 45.9 108.2 46.9 107.6 47.9 106.4 48.2 105.2 48.0 103.7 47.4 102.6 46.1 101.7 44.9 101.4ZM60.9 111.1 61.9 110.8 63.4 111.0 64.6 111.7 65.3 112.7 65.5 113.7 65.3 115.2 63.9 116.8 62.9 117.2 61.4 117.1 60.4 116.6 59.4 115.4 59.1 114.2 59.3 112.7 60.0 111.7ZM61.5 113.2 61.2 113.7 61.4 114.7 62.4 115.1 63.1 114.7 63.4 113.7 63.1 113.2 62.4 112.9ZM85.9 123.6 87.4 123.2 88.9 123.5 90.0 124.2 91.0 125.7 91.2 127.2 90.9 128.6 90.1 129.7 88.9 130.5 87.9 130.7 86.4 130.6 84.9 129.7 84.2 128.7 83.8 127.2 84.0 125.7 84.9 124.3ZM86.4 125.7 85.8 126.7 85.9 127.5 86.3 128.2 87.4 128.7 88.7 128.2 89.2 127.2 88.9 126.1 87.9 125.4Z" fill="#4aaad8"/>
<path d="M65.9 52.1 67.4 51.9 68.9 52.3 70.2 53.2 71.0 54.2 71.7 56.2 71.5 58.2 70.9 59.5 69.4 61.2 69.2 61.7 70.1 62.7 72.9 64.5 74.9 66.5 75.9 68.2 77.3 72.2 77.6 75.2 77.2 76.7 76.0 78.2 73.6 80.2 73.3 80.7 73.5 81.2 74.4 81.7 75.9 81.9 77.4 81.7 78.1 81.2 78.5 80.2 78.7 77.2 81.3 73.7 82.0 72.2 82.2 70.7 81.3 66.7 81.4 65.4 82.4 64.4 83.4 64.3 84.1 64.7 84.8 65.7 85.7 69.2 86.8 71.2 90.4 73.8 91.9 75.5 92.6 77.2 93.3 80.7 93.9 81.6 95.4 82.3 103.4 84.5 104.9 85.6 106.0 87.2 106.9 90.1 107.0 93.2 105.3 95.7 104.6 98.7 103.9 100.2 100.4 103.6 99.8 106.7 98.1 111.2 96.9 112.6 95.4 113.6 93.4 114.1 84.9 115.1 76.4 113.7 74.0 112.7 72.5 111.2 70.5 108.2 68.9 104.7 68.6 102.7 68.9 99.7 68.5 94.2 67.9 91.7 67.7 89.2 66.9 87.3 61.4 83.3 59.4 80.3 58.9 80.0 57.9 80.2 52.9 82.7 50.4 83.5 49.8 83.2 49.5 77.7 49.8 76.7 50.4 76.0 54.9 73.6 56.9 73.6 59.4 74.8 59.9 74.6 60.2 73.7 60.1 71.7 59.3 70.2 53.4 66.2 52.8 64.7 53.0 63.2 53.8 62.2 54.9 61.7 56.9 61.8 60.4 63.3 61.9 62.9 63.6 61.7 63.9 61.2 63.8 60.7 62.3 58.2 62.3 56.2 63.4 53.7 64.5 52.7ZM65.6 53.7 64.4 54.7 63.9 55.7 63.8 56.7 64.1 57.7 64.9 58.8 65.9 59.4 66.9 59.6 68.4 59.3 69.2 58.7 69.9 57.7 70.2 56.2 69.9 55.2 69.1 54.2 67.9 53.5 66.9 53.4ZM64.2 63.7 62.2 65.2 61.4 66.7 61.4 68.7 62.2 73.7 61.7 79.7 62.2 81.2 63.4 82.5 64.9 83.2 66.4 83.4 67.9 83.0 68.9 82.4 70.9 79.5 74.6 77.2 75.8 75.2 76.1 73.2 74.7 68.7 73.9 67.3 72.9 66.3 67.4 63.4 65.9 63.2ZM84.0 73.2 82.4 74.5 80.6 77.2 80.3 79.2 80.5 82.2 79.9 83.2 77.4 83.9 73.4 84.0 72.4 84.3 71.1 85.2 70.1 86.7 69.7 94.2 70.4 103.7 71.2 105.7 73.4 109.7 74.7 111.2 75.9 111.9 84.9 113.5 93.9 112.4 95.9 111.4 97.2 109.2 98.3 105.7 97.8 102.7 98.0 102.2 101.6 100.2 103.4 97.9 104.3 95.2 105.4 93.2 105.5 92.2 105.0 89.7 104.2 87.7 102.4 86.2 92.9 83.8 91.7 83.2 91.3 82.2 91.5 78.2 90.4 75.6 88.9 74.3 86.9 73.2 85.4 72.9ZM43.9 101.6 45.4 101.5 46.4 101.8 47.4 102.6 48.0 103.7 48.2 105.2 47.9 106.4 46.9 107.6 45.9 108.2 43.8 108.2 42.9 107.6 42.5 106.7 42.2 103.2 42.7 102.2ZM43.9 103.2 43.4 104.2 43.8 106.2 44.4 106.8 45.6 106.7 46.6 105.7 46.6 104.2 46.4 103.7 45.4 103.0ZM61.9 113.0 62.9 113.1 63.4 113.7 63.4 114.2 62.9 114.9 61.9 115.0 61.4 114.7 61.2 113.7ZM86.9 125.4 88.4 125.6 89.2 126.7 88.9 127.9 87.9 128.6 86.9 128.6 85.9 127.5 86.0 126.2Z" fill="#66bf6a"/>
<path d="M65.9 53.6 66.9 53.4 68.4 53.7 69.4 54.5 70.1 55.7 69.9 57.7 69.2 58.7 67.9 59.5 66.4 59.6 65.4 59.2 64.4 58.3 63.9 57.2 63.8 56.2 64.2 55.2 64.9 54.2ZM64.4 63.6 65.9 63.2 67.4 63.4 72.9 66.3 73.9 67.3 74.7 68.7 76.1 73.2 75.8 75.2 74.6 77.2 70.9 79.5 68.9 82.4 67.9 83.0 66.4 83.4 64.8 83.2 63.1 82.2 62.0 80.7 61.7 79.2 62.2 73.7 61.4 68.7 61.4 66.7 62.2 65.2ZM68.3 66.2 66.9 67.0 65.9 68.2 65.3 69.7 65.3 71.2 67.1 76.2 68.4 77.5 69.9 77.7 72.4 77.0 73.5 76.2 74.5 74.7 74.6 72.7 73.5 69.2 72.5 67.7 70.4 66.5ZM84.4 73.0 85.9 72.9 86.9 73.2 88.9 74.3 90.4 75.7 91.5 78.2 91.3 82.2 91.7 83.2 92.9 83.8 102.4 86.2 104.2 87.7 105.0 89.7 105.5 92.2 105.4 93.2 104.3 95.2 103.4 97.9 101.6 100.2 98.0 102.2 97.8 102.7 98.3 105.7 97.2 109.2 95.9 111.4 93.9 112.4 84.9 113.5 75.9 111.9 74.7 111.2 73.4 109.7 71.2 105.7 70.4 103.7 69.7 94.2 70.1 86.7 71.1 85.2 72.4 84.3 73.4 84.0 77.4 83.9 79.9 83.2 80.5 82.2 80.3 79.2 80.6 77.2 82.9 74.0ZM85.0 74.7 83.9 75.2 82.9 76.1 81.8 78.2 82.0 80.7 83.5 83.7 83.2 84.2 80.1 85.2 73.9 86.1 72.7 86.7 72.0 87.7 71.7 88.7 71.0 95.2 72.2 103.7 75.4 109.7 76.4 110.4 77.4 110.7 84.9 111.9 92.9 111.0 94.0 110.7 94.9 110.1 95.7 108.7 96.6 105.7 96.5 104.7 95.1 101.7 95.9 100.9 99.9 99.3 100.9 98.5 102.9 95.6 103.7 93.7 103.8 92.7 103.1 89.2 101.9 87.9 94.4 85.9 89.4 85.0 87.9 84.2 88.0 83.7 90.0 80.7 90.2 79.2 90.0 77.7 89.1 76.2 87.9 75.2 86.4 74.6ZM44.4 103.0 45.8 103.2 46.6 104.2 46.6 105.7 45.4 106.8 44.3 106.7 43.6 105.7 43.6 103.7Z" fill="#ecdf42"/>
<path d="M68.4 66.2 70.4 66.5 72.5 67.7 73.5 69.2 74.6 72.7 74.5 74.7 73.5 76.2 72.4 77.0 69.9 77.7 68.4 77.5 67.1 76.2 66.2 74.2 65.3 70.7 65.4 69.2 65.9 68.2 66.9 67.0ZM68.7 68.2 67.9 68.9 67.4 70.2 67.4 71.2 68.2 73.7 69.4 75.5 70.4 75.9 71.6 75.7 72.9 74.7 73.2 73.7 72.4 70.3 71.9 69.2 70.9 68.4 69.9 68.0ZM85.4 74.6 86.9 74.8 88.4 75.5 89.5 76.7 90.1 78.2 90.0 80.7 88.0 83.7 87.9 84.2 89.4 85.0 94.4 85.9 101.9 87.9 103.1 89.2 103.8 92.7 103.7 93.7 102.9 95.6 100.9 98.5 99.9 99.3 95.9 100.9 95.1 101.7 96.5 104.7 96.6 105.7 95.7 108.7 94.9 110.1 94.0 110.7 92.9 111.0 84.9 111.9 77.4 110.7 76.4 110.4 75.4 109.7 72.2 103.7 71.0 95.2 71.7 88.7 72.0 87.7 72.7 86.7 73.9 86.1 80.1 85.2 83.2 84.2 83.5 83.7 82.0 80.7 81.8 78.2 82.4 76.7 83.2 75.7 84.4 74.9ZM84.6 76.7 83.9 77.4 83.4 78.7 83.4 79.7 83.9 80.7 85.4 81.7 86.4 81.8 87.4 81.3 88.1 80.7 88.5 79.7 88.6 78.7 88.3 77.7 87.4 76.8 86.4 76.4ZM81.6 86.7 74.9 87.7 74.0 88.2 73.7 88.7 72.7 95.7 73.6 102.2 74.4 104.5 76.4 108.2 77.9 109.1 84.9 110.2 93.0 109.2 94.1 108.2 94.8 105.7 94.5 104.7 92.9 102.2 93.0 100.7 93.9 99.6 98.9 97.8 100.2 96.7 102.1 93.7 102.1 92.2 101.6 90.2 100.4 89.1 92.9 87.3 84.4 86.5Z" fill="#ef7f22"/>
<path d="M68.9 68.1 70.4 68.1 71.4 68.7 72.1 69.7 72.9 71.7 73.2 73.2 73.1 74.2 72.4 75.2 71.4 75.8 69.9 75.8 69.0 75.2 67.8 72.7 67.4 71.2 67.5 69.7 68.1 68.7ZM84.9 76.6 85.9 76.3 86.9 76.5 87.9 77.2 88.4 78.0 88.6 79.2 88.4 80.2 87.9 80.9 86.9 81.6 85.9 81.8 84.9 81.5 83.9 80.7 83.4 79.7 83.4 78.7 83.7 77.7ZM81.9 86.7 84.4 86.5 92.9 87.3 100.4 89.1 101.6 90.2 102.1 92.2 102.1 93.7 100.2 96.7 98.9 97.8 93.9 99.6 93.0 100.7 92.9 102.2 94.5 104.7 94.8 105.7 94.1 108.2 93.0 109.2 84.9 110.2 77.9 109.1 76.4 108.2 74.4 104.5 73.6 102.2 72.7 95.7 73.7 88.7 74.0 88.2 74.9 87.7Z" fill="#dd2a18"/>
</g></g>
<clipPath id="clip_A2"><rect x="144.7" y="34.2" width="108.20000000000002" height="107.60000000000001"/></clipPath>
<g clip-path="url(#clip_A2)"><g filter="url(#soft)">
<path d="M231.7 86.1h0.7M237.8 105.1h0.7M231.9 101.9h0.7M237.1 79.6h0.7M234.8 102.4h0.7M234.6 100.9h0.7M234.0 81.2h0.7M233.2 95.5h0.7M243.0 107.1h0.7M232.7 113.7h0.7M235.5 103.5h0.7M230.6 111.9h0.7M239.2 110.4h0.7M238.6 90.9h0.7M236.3 99.1h0.7M242.5 92.3h0.7M243.1 100.0h0.7M241.9 94.9h0.7M239.5 87.9h0.7M236.4 82.5h0.7M239.6 93.1h0.7M233.9 115.8h0.7M237.7 106.7h0.7M234.3 81.6h0.7M230.1 81.0h0.7M237.9 78.0h0.7M228.8 92.8h0.7M235.8 100.3h0.7M236.1 114.2h0.7M240.5 98.3h0.7M238.1 95.3h0.7M239.4 97.4h0.7M244.7 92.6h0.7M232.7 75.2h0.7M234.0 89.1h0.7M236.4 73.3h0.7M229.7 82.2h0.7M234.9 86.3h0.7M238.0 85.6h0.7M237.1 106.9h0.7M235.2 102.4h0.7M244.6 100.0h0.7M228.6 84.2h0.7M238.2 90.0h0.7M235.0 108.4h0.7M241.8 97.1h0.7M241.3 90.9h0.7M244.5 99.6h0.7M242.9 97.6h0.7M239.8 81.5h0.7M236.9 85.7h0.7M243.3 102.5h0.7M230.7 84.3h0.7M235.4 109.0h0.7M238.5 88.8h0.7M239.6 76.8h0.7M235.5 98.9h0.7M238.3 103.5h0.7M243.0 83.6h0.7M229.8 90.2h0.7M237.2 115.3h0.7M239.8 105.5h0.7M231.7 91.6h0.7M232.3 101.6h0.7M236.3 102.8h0.7M235.9 113.2h0.7M240.3 111.8h0.7M229.0 81.6h0.7M241.2 105.0h0.7M243.3 84.9h0.7M239.9 83.4h0.7M228.4 105.8h0.7M227.8 103.8h0.7M232.1 94.4h0.7M243.0 83.7h0.7M235.4 88.6h0.7M230.4 93.8h0.7M230.3 108.2h0.7M238.1 85.5h0.7M244.5 88.2h0.7" stroke="#8a88aa" stroke-width="0.7" stroke-opacity="0.8" fill="none"/>
<path d="M238.4 64.8h0.7M231.4 57.8h0.7M235.1 63.2h0.7M237.4 61.2h0.7M231.4 60.3h0.7M229.6 63.5h0.7M235.9 58.9h0.7M236.4 61.1h0.7M238.2 67.2h0.7M233.9 63.7h0.7M237.6 57.9h0.7M232.6 57.9h0.7M231.5 59.7h0.7M240.5 61.5h0.7M232.9 61.0h0.7" stroke="#8a88aa" stroke-width="0.7" stroke-opacity="0.8" fill="none"/>
<path d="M213.7 38.2 216.2 38.3 225.4 41.2 226.5 42.2 231.0 48.2 232.7 50.0 238.7 55.1 246.2 60.2 247.8 61.7 248.3 63.7 250.0 75.2 248.1 95.2 247.2 108.7 246.8 110.2 246.2 111.2 238.7 118.7 230.7 122.9 225.7 126.0 214.2 134.0 206.2 137.6 204.2 137.9 195.2 136.3 193.7 135.8 192.4 134.7 188.0 129.7 186.2 128.3 179.7 125.2 169.7 121.9 164.1 116.7 158.7 112.4 151.7 106.2 151.1 105.2 150.7 103.7 149.0 90.2 149.9 73.2 150.7 70.2 157.0 57.7 162.8 51.7 164.7 50.2 166.7 49.8 179.7 48.9 193.2 46.3 195.7 45.3 204.7 40.1Z" fill="none" stroke="#9a98bc" stroke-width="0.7"/>
<path d="M213.2 43.2 215.2 43.5 222.2 46.3 223.2 47.7 225.5 52.7 225.6 54.2 224.8 60.2 224.2 62.4 220.6 68.7 219.1 70.2 214.7 73.2 213.5 75.2 213.1 76.7 213.6 78.2 215.4 81.2 220.7 89.2 222.7 97.2 224.8 107.7 228.2 113.3 228.7 114.7 227.2 119.6 226.2 121.0 220.2 123.3 215.2 126.6 214.0 127.7 212.2 130.9 211.3 131.7 206.7 133.3 204.7 133.5 197.7 131.8 195.7 130.8 191.5 127.2 189.6 122.7 188.7 121.6 187.2 121.4 176.7 122.2 175.7 122.0 174.2 121.2 171.5 119.2 170.8 118.2 170.3 111.7 169.7 110.0 168.7 109.9 164.7 111.3 160.2 111.2 158.7 110.4 155.5 107.7 154.7 106.2 154.0 99.7 154.1 86.7 154.5 74.2 155.2 72.0 161.2 60.3 163.7 56.7 165.2 55.1 167.0 54.7 175.2 53.9 181.7 53.6 187.7 53.8 189.2 53.5 199.1 50.2 204.2 46.0 205.7 45.1ZM211.1 44.7 206.2 46.0 204.7 46.9 203.0 48.7 202.2 52.0 201.7 52.4 199.2 51.7 196.6 52.2 194.2 53.2 193.2 54.2 192.8 55.2 191.3 62.2 191.4 69.2 193.0 73.7 193.5 78.7 193.9 80.2 195.4 82.2 197.9 83.7 198.1 84.2 197.5 84.7 189.2 87.2 188.5 87.7 187.2 89.9 186.2 90.4 187.0 87.2 187.2 83.2 186.5 80.2 184.9 77.2 183.2 75.2 180.7 73.4 178.2 72.4 173.7 71.7 172.7 71.2 169.0 66.2 167.7 65.4 164.2 65.3 162.5 65.7 159.8 69.2 156.7 71.7 155.9 73.2 155.5 74.7 155.0 100.2 155.7 105.7 156.4 107.2 159.2 109.5 160.7 110.2 164.7 110.2 167.6 109.2 168.9 108.2 169.7 107.1 169.7 105.7 170.2 104.9 177.9 99.7 182.7 94.1 184.7 92.3 185.1 92.7 184.8 95.7 185.0 100.2 184.7 101.7 183.7 103.2 182.5 104.2 181.2 104.7 179.7 104.7 174.7 108.6 171.2 109.6 171.8 117.7 173.2 119.3 175.3 120.7 176.7 121.2 187.7 120.3 189.2 120.4 190.2 121.2 191.2 123.7 192.2 125.1 197.2 129.4 200.2 131.2 203.2 132.0 205.2 131.8 206.7 131.1 207.8 130.2 210.2 127.0 212.2 125.0 220.7 120.3 224.8 116.2 225.5 114.7 223.7 109.6 223.1 104.2 220.1 90.7 219.6 89.2 218.2 87.0 213.2 82.1 212.2 81.5 210.7 81.5 204.2 83.1 203.2 83.1 202.7 82.7 204.4 79.2 204.5 73.2 206.2 67.9 208.1 71.2 209.2 72.4 211.2 73.5 212.7 73.5 218.0 69.7 218.8 68.7 219.2 67.2 219.4 62.7 222.1 59.2 223.3 56.2 223.5 54.2 223.4 52.2 222.4 49.2 221.3 47.2 219.7 46.3 214.2 44.3ZM181.2 54.7 180.2 55.0 179.4 55.7 178.7 57.7 179.7 68.7 180.3 70.2 181.7 71.7 183.2 72.3 184.7 72.3 186.9 71.2 187.7 70.2 188.3 68.7 188.3 66.7 187.4 57.7 186.7 55.8 185.7 54.9 184.2 54.6ZM182.2 98.7 179.7 99.4 170.7 105.4 170.4 106.2 170.9 108.2 171.2 108.6 174.2 108.1 181.7 102.2 183.2 99.2 182.7 98.7ZM234.2 62.2 235.2 62.4 236.2 63.1 236.7 64.7 236.2 66.6 235.2 67.2 234.2 67.3 232.7 66.6 232.1 65.2 232.4 63.2 233.2 62.5ZM236.2 82.6 237.2 82.6 237.7 83.0 239.7 86.1 240.7 92.7 239.7 99.9 238.3 102.2 237.2 102.8 235.2 102.4 234.3 101.7 233.1 97.2 233.6 92.2 233.3 87.7 233.4 86.2 234.3 83.7 234.8 83.2Z" fill="#2b2287"/>
<path d="M211.2 44.7 214.2 44.3 219.7 46.3 221.3 47.2 222.4 49.2 223.4 52.2 223.5 54.2 223.3 56.2 222.1 59.2 219.4 62.7 219.2 67.2 218.8 68.7 218.0 69.7 212.7 73.5 211.2 73.5 209.2 72.4 208.1 71.2 206.2 67.9 204.5 73.2 204.4 79.2 202.7 82.7 203.2 83.1 204.2 83.1 210.7 81.5 212.2 81.5 213.2 82.1 218.2 87.0 219.6 89.2 220.1 90.7 223.1 104.2 223.7 109.6 225.5 114.7 224.8 116.2 220.7 120.3 212.2 125.0 210.2 127.0 207.8 130.2 206.7 131.1 205.2 131.8 203.2 132.0 200.2 131.2 197.2 129.4 192.2 125.1 191.2 123.7 190.2 121.2 189.2 120.4 187.7 120.3 176.7 121.2 175.3 120.7 173.2 119.3 171.8 117.7 171.2 109.6 174.7 108.6 179.7 104.7 181.2 104.7 182.5 104.2 183.7 103.2 184.7 101.7 185.0 100.2 184.8 95.7 185.1 92.7 184.7 92.3 182.7 94.1 177.9 99.7 170.2 104.9 169.7 105.7 169.7 107.1 168.9 108.2 167.6 109.2 164.7 110.2 160.7 110.2 159.2 109.5 156.4 107.2 155.7 105.7 155.0 100.2 155.5 74.7 155.9 73.2 156.7 71.7 159.8 69.2 162.5 65.7 164.2 65.3 167.7 65.4 169.0 66.2 172.7 71.2 173.7 71.7 178.2 72.4 180.7 73.4 183.2 75.2 184.9 77.2 186.5 80.2 187.2 83.2 187.0 87.2 186.2 90.4 187.2 89.9 188.5 87.7 189.2 87.2 197.5 84.7 198.1 84.2 197.9 83.7 195.4 82.2 193.9 80.2 193.5 78.7 193.0 73.7 191.4 69.2 191.3 62.2 192.8 55.2 193.2 54.2 194.2 53.2 196.6 52.2 199.2 51.7 201.7 52.4 202.2 52.0 203.0 48.7 204.7 46.9 206.2 46.0ZM211.2 45.7 206.7 46.9 205.3 47.7 204.2 49.2 203.9 52.2 204.6 55.2 207.6 61.7 208.2 67.2 208.7 69.2 210.2 71.3 211.2 71.9 212.2 72.1 215.5 70.2 217.3 68.7 217.7 67.2 217.7 63.7 218.0 62.2 221.3 57.7 221.9 55.7 222.1 53.7 221.3 50.2 220.4 48.2 219.7 47.5 214.2 45.3ZM198.2 53.2 196.7 53.5 195.7 54.0 194.4 55.7 192.9 62.2 192.9 67.7 193.1 69.7 194.7 73.7 195.1 78.2 195.6 79.7 196.3 80.7 197.2 81.4 199.2 81.8 201.2 81.1 202.1 80.2 202.7 79.0 202.9 73.2 204.1 68.7 204.1 63.2 203.8 61.2 201.4 55.2 199.9 53.7ZM159.5 71.7 157.7 73.1 157.1 75.2 156.8 87.2 156.2 94.2 156.4 97.7 156.1 100.7 156.5 104.7 156.8 105.7 157.4 106.7 160.2 108.9 161.7 109.3 164.7 109.2 167.0 108.2 169.4 104.7 175.1 100.7 183.2 91.1 184.5 89.2 185.3 87.2 185.7 85.2 185.6 82.7 184.9 80.2 183.4 77.7 181.3 75.7 179.2 74.5 175.7 73.6 173.2 73.4 171.7 73.7 168.7 75.3 164.7 79.2 164.2 79.1 164.0 78.7 163.6 74.2 162.8 72.7 161.2 71.6ZM211.9 86.2 206.1 87.7 200.7 88.7 191.2 89.6 189.2 90.3 187.2 92.4 186.3 94.7 186.3 100.2 186.1 103.7 186.5 106.7 186.3 107.7 185.7 108.0 185.2 107.9 182.2 106.4 179.2 106.3 178.7 106.3 175.0 109.2 172.7 109.9 172.3 110.2 172.3 111.2 172.7 116.7 173.2 117.9 175.2 119.4 176.7 120.1 184.7 119.6 188.2 118.8 194.2 121.1 198.9 121.7 199.4 122.2 198.4 124.7 198.2 126.2 198.6 127.7 199.3 128.7 200.7 129.7 202.7 130.4 204.7 130.2 206.2 129.5 207.3 128.2 208.1 126.2 208.0 124.7 206.8 122.2 206.8 121.7 212.2 117.8 215.7 116.5 217.2 115.6 221.1 111.7 222.0 109.7 222.3 106.2 222.1 104.2 220.7 97.2 218.7 89.7 217.2 87.4 215.7 86.3 213.7 85.9ZM181.2 54.7 184.2 54.6 185.7 54.9 186.7 55.8 187.4 57.7 188.3 66.7 188.3 68.7 187.7 70.2 186.9 71.2 184.7 72.3 183.2 72.3 181.7 71.7 180.3 70.2 179.7 68.7 178.7 57.7 179.4 55.7 180.2 55.0ZM181.4 56.2 180.7 57.0 180.4 58.2 181.4 68.2 181.8 69.2 182.7 70.2 183.7 70.5 184.7 70.4 186.2 69.3 186.6 67.7 185.6 57.7 185.2 56.7 184.2 56.0 182.7 55.9Z" fill="#3553bb"/>
<path d="M211.2 45.7 214.2 45.3 219.7 47.5 220.4 48.2 221.3 50.2 222.1 53.7 221.9 55.7 221.3 57.7 218.0 62.2 217.7 63.7 217.7 67.2 217.3 68.7 215.5 70.2 212.2 72.1 211.2 71.9 210.2 71.3 208.7 69.2 208.2 67.2 207.6 61.7 204.6 55.2 203.9 52.2 204.2 49.2 205.3 47.7 206.7 46.9ZM211.3 46.7 207.7 47.6 206.4 48.2 205.4 49.7 205.2 51.7 205.5 53.7 206.4 56.2 209.1 61.7 210.0 68.7 211.0 70.2 212.2 70.7 214.2 69.8 216.0 68.2 216.2 67.2 216.3 62.2 216.8 61.2 219.1 58.7 220.1 57.2 220.6 55.7 220.8 53.7 220.1 50.7 219.5 49.2 218.7 48.2 214.2 46.4 213.2 46.3ZM198.2 53.2 199.9 53.7 201.4 55.2 203.8 61.2 204.1 63.2 204.1 68.7 202.9 73.2 202.7 79.0 202.1 80.2 201.2 81.1 199.2 81.8 197.2 81.4 196.3 80.7 195.6 79.7 195.1 78.2 194.7 73.7 193.1 69.7 192.9 67.7 192.9 62.2 194.4 55.7 195.7 54.0 196.7 53.5ZM197.6 55.2 196.7 55.7 196.2 56.3 194.6 61.2 194.3 63.2 194.3 67.7 194.6 69.7 196.5 73.7 197.2 78.5 198.2 79.7 199.2 79.8 200.2 79.4 200.8 78.2 201.0 73.7 202.6 68.7 202.7 63.2 202.2 61.0 199.7 56.1 198.7 55.3ZM181.7 56.1 183.2 55.9 184.6 56.2 185.2 56.8 185.6 57.7 186.6 67.7 186.2 69.3 184.7 70.4 183.7 70.5 182.7 70.2 181.8 69.2 181.4 68.2 180.4 58.2 180.9 56.7ZM159.7 71.6 160.7 71.5 161.7 71.8 163.2 73.2 163.7 74.7 163.8 77.7 164.2 79.1 164.7 79.2 165.2 78.9 168.2 75.7 171.2 73.9 173.2 73.4 176.7 73.7 179.7 74.7 182.5 76.7 184.6 79.7 185.6 82.7 185.7 85.2 185.3 87.2 184.5 89.2 183.2 91.1 175.1 100.7 169.4 104.7 167.0 108.2 164.7 109.2 161.2 109.2 159.8 108.7 157.2 106.5 156.5 104.2 156.1 100.7 156.4 97.7 156.2 94.2 156.8 87.2 157.1 75.2 157.7 73.1 158.6 72.2ZM173.6 75.2 171.2 76.0 169.0 77.7 160.3 87.7 158.5 90.7 157.8 93.7 158.0 98.2 157.3 100.7 157.4 103.7 157.7 105.2 158.2 106.0 160.7 108.0 163.7 108.3 165.7 107.7 167.8 104.2 171.7 102.0 173.6 100.2 182.1 90.2 183.6 87.7 184.1 85.7 184.2 83.2 183.5 80.7 182.2 78.5 180.2 76.7 178.2 75.6 175.7 75.1ZM212.2 86.1 214.2 85.9 216.2 86.6 217.4 87.7 218.7 89.7 220.7 97.2 222.1 104.2 222.3 106.2 222.0 109.7 221.1 111.7 217.2 115.6 215.7 116.5 212.2 117.8 206.8 121.7 206.8 122.2 208.0 124.7 208.1 126.2 207.3 128.2 206.2 129.5 204.7 130.2 202.7 130.4 200.7 129.7 199.3 128.7 198.6 127.7 198.2 126.2 198.4 124.7 199.4 122.2 198.9 121.7 194.2 121.1 188.2 118.8 184.7 119.6 176.7 120.1 175.2 119.4 173.2 117.9 172.7 116.7 172.3 111.2 172.3 110.2 172.7 109.9 175.0 109.2 178.7 106.3 179.2 106.3 182.2 106.4 185.2 107.9 185.7 108.0 186.3 107.7 186.5 106.7 186.1 103.7 186.3 100.2 186.3 94.7 187.2 92.4 189.2 90.3 191.2 89.6 200.7 88.7 206.1 87.7ZM212.6 87.7 207.0 89.2 201.7 90.2 191.2 91.2 189.2 92.0 188.1 93.2 187.4 95.2 187.6 103.2 188.5 107.2 187.2 112.2 186.7 112.9 184.2 109.9 182.2 108.4 179.7 107.8 177.7 108.0 175.5 109.7 174.1 110.2 173.5 110.7 173.6 115.7 174.1 117.2 175.7 118.5 177.2 119.1 183.7 118.7 185.2 118.2 186.7 115.8 187.2 115.4 189.9 117.7 194.7 119.6 196.7 119.8 204.7 119.9 206.7 119.4 211.7 116.2 216.2 114.3 219.4 111.2 220.4 109.7 221.0 107.2 221.0 104.2 219.8 97.7 217.7 89.9 216.7 88.6 215.7 87.9 214.2 87.5ZM201.7 123.7 200.8 124.7 200.5 125.7 200.6 126.7 201.1 127.7 202.7 128.7 203.7 128.7 204.7 128.3 205.8 126.7 205.9 125.7 205.6 124.7 204.7 123.7 203.7 123.3 202.7 123.3Z" fill="#4aaad8"/>
<path d="M211.7 46.6 214.2 46.4 218.7 48.2 219.5 49.2 220.1 50.7 220.8 53.7 220.6 55.7 220.1 57.2 219.1 58.7 216.8 61.2 216.3 62.2 216.2 67.2 216.0 68.2 214.2 69.8 212.2 70.7 211.0 70.2 210.0 68.7 209.1 61.7 206.4 56.2 205.5 53.7 205.2 51.7 205.4 49.7 206.4 48.2 207.7 47.6ZM211.4 47.7 208.2 48.6 207.2 49.2 206.7 50.2 206.5 51.7 206.9 53.7 208.0 56.7 210.7 61.2 211.6 68.2 212.2 68.9 212.7 69.0 213.7 68.6 214.4 67.7 214.4 62.7 214.8 61.2 218.6 57.2 219.3 55.7 219.5 53.7 218.5 50.2 217.3 48.7 214.2 47.5 213.2 47.4ZM197.7 55.2 198.7 55.3 199.8 56.2 202.3 61.2 202.7 63.2 202.6 68.7 201.0 73.7 200.8 78.2 200.2 79.4 199.2 79.8 198.2 79.7 197.2 78.5 196.5 73.7 194.6 69.7 194.3 67.7 194.3 63.2 194.6 61.2 196.2 56.3 196.7 55.7ZM197.2 60.2 196.2 61.2 195.7 62.7 195.8 68.2 196.3 69.7 197.2 70.7 198.2 71.1 199.2 71.0 200.4 70.2 201.2 68.7 201.2 62.7 200.7 61.3 199.7 60.2 198.7 59.9ZM173.7 75.2 176.2 75.1 178.4 75.7 180.7 77.1 182.3 78.7 183.5 80.7 184.2 83.2 184.1 85.7 183.6 87.7 182.1 90.2 173.6 100.2 171.7 102.0 167.8 104.2 165.7 107.7 163.7 108.3 160.7 108.0 158.2 106.0 157.7 105.2 157.4 103.7 157.3 100.7 158.0 98.2 157.8 93.7 158.5 90.7 160.3 87.7 169.0 77.7 171.2 76.0ZM172.8 77.2 171.2 78.0 169.7 79.4 161.7 88.8 160.0 91.7 159.4 94.7 160.1 98.7 159.7 99.7 158.6 101.2 158.4 103.2 158.9 105.2 159.8 106.2 161.2 107.1 163.2 107.3 164.8 106.7 166.5 102.7 170.2 101.1 172.2 99.6 180.7 89.6 182.2 87.2 182.7 85.2 182.6 82.7 181.9 80.7 180.7 79.1 179.2 77.8 177.2 77.0 175.2 76.7ZM212.7 87.7 214.2 87.5 215.7 87.9 216.7 88.6 217.7 89.9 219.8 97.7 221.0 104.2 221.0 107.2 220.4 109.7 219.4 111.2 216.2 114.3 211.7 116.2 206.7 119.4 204.7 119.9 196.7 119.8 194.7 119.6 189.9 117.7 187.2 115.4 186.7 115.8 185.2 118.2 183.7 118.7 177.2 119.1 175.7 118.5 174.1 117.2 173.6 115.7 173.5 110.7 174.1 110.2 175.5 109.7 177.7 108.0 179.7 107.8 182.2 108.4 184.2 109.9 186.7 112.9 187.2 112.2 188.5 107.2 187.6 103.2 187.4 95.2 188.1 93.2 189.2 92.0 191.2 91.2 201.7 90.2 207.0 89.2ZM211.9 89.2 207.2 90.5 200.2 91.8 191.2 92.5 190.2 92.9 189.3 93.7 188.6 95.7 188.9 102.7 189.1 104.2 190.3 107.2 189.0 110.2 188.9 113.7 189.3 115.2 190.2 116.4 191.8 117.2 195.7 118.5 205.7 118.4 207.2 117.7 211.7 114.6 215.2 113.4 218.6 110.2 219.5 108.2 219.9 103.7 217.1 91.2 216.2 89.7 215.2 89.1 213.7 88.8ZM176.9 109.7 175.3 110.7 174.6 111.7 174.6 115.2 175.2 116.8 176.3 117.7 177.7 118.1 182.7 117.7 184.0 117.2 184.6 116.2 184.7 114.2 184.2 112.7 183.2 111.1 181.7 110.0 180.2 109.4 178.7 109.3ZM202.2 123.5 203.2 123.3 204.2 123.5 205.2 124.1 205.7 124.9 205.9 126.2 205.7 127.1 205.2 127.8 204.2 128.5 203.2 128.7 202.2 128.5 201.2 127.8 200.7 127.1 200.5 126.2 200.7 124.9 201.2 124.1Z" fill="#66bf6a"/>
<path d="M211.7 47.6 214.2 47.5 217.3 48.7 218.5 50.2 219.5 53.7 219.3 55.7 218.6 57.2 214.8 61.2 214.4 62.7 214.4 67.7 213.7 68.6 212.7 69.0 212.2 68.9 211.6 68.2 210.7 61.2 208.0 56.7 206.9 53.7 206.5 51.7 206.7 50.2 207.2 49.2 208.2 48.6ZM211.6 48.7 208.6 49.7 207.9 50.7 207.9 52.2 208.7 54.9 209.8 57.2 211.7 59.2 213.2 59.7 215.7 58.3 217.2 56.9 218.0 55.2 218.1 53.2 217.2 50.5 216.2 49.4 213.7 48.4ZM197.7 60.0 199.2 60.0 200.2 60.7 200.9 61.7 201.2 63.2 201.3 67.7 201.0 69.2 200.2 70.5 198.7 71.1 197.7 71.0 196.7 70.3 196.0 69.2 195.7 67.7 195.8 62.2 196.6 60.7ZM197.7 62.7 197.4 64.2 197.5 67.7 198.1 68.7 198.7 68.8 199.2 68.4 199.5 67.7 199.5 63.2 198.7 62.2 198.2 62.3ZM173.2 77.1 175.2 76.7 177.2 77.0 179.2 77.8 180.8 79.2 182.1 81.2 182.7 83.2 182.7 85.2 182.2 87.2 180.7 89.6 172.2 99.6 170.2 101.1 166.5 102.7 164.8 106.7 163.2 107.3 161.2 107.1 159.8 106.2 158.9 105.2 158.4 103.2 158.6 101.2 159.7 99.7 160.1 98.7 159.4 94.7 160.0 91.7 161.7 88.8 169.7 79.4 171.2 78.0ZM174.5 78.7 172.7 79.3 171.2 80.5 162.0 91.2 161.3 93.2 161.5 95.7 162.7 98.0 164.2 99.3 165.7 99.8 167.7 99.9 169.2 99.5 170.7 98.7 175.7 93.2 180.6 87.2 181.1 85.7 181.3 84.2 181.0 82.7 180.2 81.0 179.2 79.9 177.7 79.0 176.2 78.7ZM160.3 101.7 159.7 102.3 159.5 103.2 159.7 104.2 160.2 105.1 161.2 105.9 162.2 106.2 163.7 105.7 164.1 104.2 163.5 102.2 162.2 101.3 161.2 101.3ZM212.2 89.1 213.7 88.8 215.2 89.1 216.6 90.2 217.2 91.5 219.0 98.7 219.9 104.2 219.5 108.2 218.6 110.2 215.2 113.4 211.7 114.6 207.2 117.7 205.7 118.4 195.7 118.5 191.8 117.2 190.2 116.4 189.3 115.2 188.9 113.7 189.0 110.2 190.3 107.2 189.1 104.2 188.9 102.7 188.6 95.7 189.3 93.7 190.2 92.9 191.2 92.5 200.2 91.8 207.2 90.5ZM212.9 90.2 207.2 91.7 200.7 92.9 191.7 93.7 190.2 94.6 189.8 96.2 190.1 102.7 190.5 104.2 191.2 105.0 192.7 105.6 205.2 106.1 206.2 106.5 206.5 107.2 206.2 108.2 205.2 108.5 193.7 108.4 191.7 108.7 190.7 109.5 190.2 110.7 190.2 113.7 190.8 115.2 192.2 116.0 195.7 117.2 205.2 117.2 206.5 116.7 208.6 115.2 211.2 112.9 213.7 112.7 214.7 112.3 217.4 109.7 218.3 108.2 218.8 104.2 217.8 98.2 215.9 91.2 214.7 90.2ZM177.2 109.6 178.7 109.3 180.7 109.5 182.2 110.3 183.3 111.2 184.2 112.7 184.7 114.2 184.6 116.2 184.0 117.2 182.7 117.7 177.7 118.1 176.3 117.7 175.2 116.8 174.6 115.2 174.6 111.7 175.3 110.7ZM177.3 111.2 176.2 111.9 175.6 113.2 175.7 115.2 176.2 116.3 177.2 116.9 178.2 117.1 181.7 116.8 182.8 116.2 183.2 115.2 183.1 114.2 182.5 112.7 181.7 111.8 179.7 110.9Z" fill="#ecdf42"/>
<path d="M211.7 48.7 213.7 48.4 216.2 49.4 217.2 50.5 218.1 53.2 218.0 55.2 217.2 56.9 215.7 58.3 213.2 59.7 211.7 59.2 209.8 57.2 208.7 54.9 207.9 52.2 207.9 50.7 208.6 49.7ZM212.6 49.7 209.7 50.7 209.3 51.7 209.7 53.5 210.9 56.2 211.9 57.2 213.2 57.6 214.7 57.2 215.9 56.2 216.5 55.2 216.7 53.7 216.2 51.7 215.2 50.3 213.9 49.7ZM197.7 62.7 198.7 62.2 199.5 63.2 199.5 67.7 199.2 68.4 198.7 68.8 198.1 68.7 197.5 67.7 197.4 64.2ZM174.7 78.7 176.2 78.7 177.7 79.0 179.2 79.9 180.3 81.2 181.0 82.7 181.3 84.2 181.1 85.7 180.6 87.2 175.7 93.2 170.7 98.7 169.2 99.5 167.7 99.9 165.7 99.8 164.2 99.3 162.7 98.0 161.5 95.7 161.3 93.2 162.0 91.2 171.2 80.5 172.7 79.3ZM173.9 80.7 171.7 82.5 164.5 90.7 163.5 92.2 163.1 93.7 163.2 95.2 164.1 96.7 165.3 97.7 167.7 98.1 169.8 97.2 177.7 88.4 179.2 86.3 179.6 85.2 179.5 83.7 178.5 81.7 177.2 80.7 176.2 80.4ZM213.2 90.1 214.7 90.2 215.9 91.2 217.9 98.7 218.8 104.2 218.3 108.2 217.4 109.7 214.7 112.3 213.7 112.7 211.2 112.9 208.6 115.2 206.5 116.7 205.2 117.2 195.7 117.2 192.2 116.0 190.8 115.2 190.2 113.7 190.2 110.7 190.7 109.5 191.7 108.7 193.7 108.4 205.2 108.5 206.2 108.2 206.5 107.2 206.2 106.5 205.2 106.1 192.7 105.6 191.2 105.0 190.5 104.2 190.1 102.7 189.8 96.2 190.2 94.6 191.7 93.7 200.7 92.9 207.2 91.7ZM212.4 91.7 207.7 93.0 200.7 94.3 192.7 94.9 191.7 95.2 191.2 96.2 191.2 97.7 191.5 102.7 192.1 103.7 193.2 104.0 206.7 104.6 207.9 105.7 208.7 108.7 208.6 109.7 206.7 110.1 194.2 110.0 192.3 110.2 191.7 110.7 191.5 112.2 191.6 113.7 192.2 114.5 196.2 115.9 204.7 115.9 206.3 115.2 208.7 113.3 209.2 110.4 210.2 110.4 212.7 111.2 213.7 111.2 216.2 109.0 217.1 107.2 217.5 103.7 216.7 98.5 215.0 92.2 214.2 91.6ZM160.7 101.5 161.7 101.3 162.7 101.5 163.7 102.4 164.1 103.7 164.1 104.7 163.7 105.6 163.2 106.0 161.7 106.1 160.7 105.5 159.9 104.7 159.5 103.7 159.6 102.7 159.7 102.2ZM177.7 111.0 178.7 110.8 180.2 111.0 182.1 112.2 183.1 114.2 183.2 115.2 182.7 116.3 181.7 116.8 178.2 117.1 177.2 116.9 176.2 116.3 175.7 115.2 175.7 112.7 176.5 111.7ZM178.3 112.7 177.1 113.7 177.2 115.2 178.7 115.7 180.2 115.6 181.1 115.2 181.3 114.2 180.6 113.2 179.7 112.7Z" fill="#ef7f22"/>
<path d="M212.7 49.7 214.2 49.8 215.6 50.7 216.7 53.7 216.5 55.2 215.9 56.2 214.7 57.2 213.2 57.6 211.9 57.2 210.9 56.2 209.7 53.5 209.3 51.7 209.6 50.7 210.2 50.4ZM174.2 80.6 175.2 80.4 176.7 80.6 178.5 81.7 179.5 83.7 179.6 85.2 179.2 86.3 177.7 88.4 169.8 97.2 167.7 98.1 166.2 98.0 165.2 97.6 164.1 96.7 163.2 95.2 163.1 93.7 163.5 92.2 164.5 90.7 171.9 82.2 173.0 81.2ZM212.7 91.6 214.2 91.6 215.2 92.6 217.2 100.9 217.5 103.2 217.2 106.7 216.8 108.2 216.2 109.0 213.7 111.2 212.7 111.2 210.2 110.4 209.2 110.4 208.7 113.3 206.3 115.2 204.7 115.9 196.2 115.9 192.2 114.5 191.6 113.7 191.5 112.2 191.7 110.7 192.3 110.2 194.2 110.0 206.7 110.1 208.6 109.7 208.7 108.7 207.9 105.7 206.7 104.6 193.2 104.0 192.1 103.7 191.5 102.7 191.2 97.7 191.2 96.2 191.7 95.2 192.7 94.9 200.7 94.3 207.7 93.0ZM178.7 112.6 179.7 112.7 180.7 113.3 181.3 114.2 181.1 115.2 180.2 115.6 178.7 115.7 177.2 115.2 177.0 114.2 177.2 113.5 177.7 113.0Z" fill="#dd2a18"/>
</g></g>
<clipPath id="clip_A3"><rect x="258.9" y="34.2" width="108.0" height="107.60000000000001"/></clipPath>
<g clip-path="url(#clip_A3)"><g filter="url(#soft)">
<path d="M287.4 110.3h0.7M298.8 115.2h0.7M287.5 113.1h0.7M293.7 109.2h0.7M297.8 108.6h0.7M292.3 114.2h0.7M292.9 115.2h0.7M290.5 116.1h0.7M297.1 111.1h0.7M290.8 111.4h0.7M300.3 115.2h0.7M293.5 117.8h0.7M292.0 108.3h0.7M296.6 120.0h0.7M289.3 115.8h0.7M290.8 117.4h0.7M297.6 110.1h0.7M299.3 116.2h0.7M296.9 118.5h0.7M292.9 117.6h0.7M299.6 112.5h0.7M293.7 109.0h0.7M297.2 111.1h0.7M299.9 110.9h0.7M295.0 112.6h0.7" stroke="#8a88aa" stroke-width="0.7" stroke-opacity="0.8" fill="none"/>
<path d="M322.3 119.1h0.7M313.6 127.9h0.7M325.0 125.1h0.7M327.0 118.7h0.7M329.3 126.0h0.7M322.1 131.5h0.7M325.7 128.6h0.7M311.1 121.9h0.7M314.3 129.7h0.7M312.5 120.7h0.7M319.9 129.6h0.7M314.3 124.7h0.7M324.1 116.8h0.7M323.6 121.9h0.7M321.8 126.7h0.7M323.4 124.4h0.7M321.1 119.2h0.7M319.9 118.0h0.7M319.6 124.6h0.7M325.5 122.3h0.7M310.4 124.4h0.7M314.1 127.9h0.7M317.8 122.1h0.7M328.2 122.3h0.7M317.0 121.6h0.7" stroke="#8a88aa" stroke-width="0.7" stroke-opacity="0.8" fill="none"/>
<path d="M277.6 95.1h0.7M278.9 105.1h0.7M279.3 102.9h0.7M282.9 103.8h0.7M284.4 97.0h0.7M277.6 98.1h0.7M273.2 100.9h0.7M274.4 101.4h0.7M279.6 95.3h0.7M276.8 98.7h0.7M282.1 95.1h0.7M271.4 100.2h0.7M276.1 102.0h0.7M274.7 96.4h0.7M270.9 97.4h0.7M274.8 96.7h0.7M278.7 105.2h0.7M270.5 99.0h0.7M281.4 104.6h0.7M278.7 104.6h0.7" stroke="#8a88aa" stroke-width="0.7" stroke-opacity="0.8" fill="none"/>
<path d="M323.9 37.7 327.1 37.7 334.9 39.6 336.3 40.2 337.4 41.6 340.2 47.7 341.4 49.1 350.6 52.2 358.4 57.2 359.4 58.9 363.0 69.7 364.9 83.6 365.0 85.7 362.9 100.2 358.6 109.2 357.1 111.2 349.5 117.2 347.4 118.3 337.0 121.2 330.9 121.9 327.4 121.4 326.9 122.0 326.2 125.7 325.4 127.2 324.4 127.8 321.9 128.5 319.4 128.9 315.9 128.2 314.7 127.7 313.9 126.5 313.2 123.2 313.2 121.7 313.6 120.7 317.7 117.7 317.3 117.2 315.9 116.7 306.9 115.2 304.8 114.2 299.4 108.7 298.7 107.2 296.7 100.2 295.9 98.7 294.4 98.1 291.9 98.1 286.4 98.8 281.9 98.9 278.3 97.2 271.4 92.7 270.4 91.2 265.2 80.7 264.8 78.7 264.1 70.2 264.9 67.2 267.4 61.2 274.4 52.3 275.9 51.0 289.4 47.1 303.9 45.0 305.9 44.1 313.5 39.2ZM292.4 112.0 293.4 111.7 294.4 111.8 296.1 113.2 296.3 114.2 296.1 115.2 294.9 116.7 293.9 116.9 292.9 116.8 291.7 115.7 291.5 113.2Z" fill="none" stroke="#9a98bc" stroke-width="0.7"/>
<ellipse cx="293.5" cy="115.5" rx="9.3" ry="7.5" fill="none" stroke="#9a98bc" stroke-width="0.7"/>
<ellipse cx="318" cy="126.5" rx="16.5" ry="10.5" fill="none" stroke="#9a98bc" stroke-width="0.7"/>
<path d="M325.9 42.7 328.9 42.8 332.8 44.7 333.8 45.7 334.5 50.7 333.5 57.2 333.8 58.7 334.4 59.8 335.4 60.1 338.9 58.9 346.4 57.9 349.9 58.8 353.4 60.2 354.3 61.7 357.8 69.7 359.9 82.2 357.9 95.2 355.2 103.7 354.2 105.7 349.4 110.2 343.5 113.2 336.2 115.7 330.4 116.7 328.0 116.2 316.9 112.6 311.2 111.2 308.9 110.4 307.9 109.7 304.9 106.7 304.0 105.2 302.3 98.2 302.6 93.7 301.9 92.8 299.4 92.8 295.9 93.5 289.9 97.3 288.4 97.9 283.4 98.3 282.1 98.2 281.0 97.7 275.5 93.7 274.7 92.7 270.9 82.3 270.2 79.7 271.1 68.7 274.9 61.7 277.9 57.8 278.9 57.0 287.9 52.1 299.9 51.0 308.9 48.6 313.6 45.2 317.4 43.7 319.4 43.2ZM321.1 45.7 319.0 47.2 317.1 50.7 315.4 51.8 312.9 52.7 309.9 53.0 308.4 53.4 304.1 56.2 300.4 57.4 290.9 58.1 288.9 58.5 281.9 61.7 276.8 66.7 276.1 68.7 275.3 79.2 275.4 80.7 277.7 88.7 280.0 91.7 281.1 95.2 282.4 96.7 284.4 97.2 286.4 97.1 287.8 96.7 288.9 95.8 289.9 94.2 290.9 93.3 295.9 90.9 299.9 88.2 303.9 86.1 306.4 83.8 313.4 82.6 316.0 79.7 317.0 77.7 318.9 67.7 321.9 62.2 322.9 61.1 329.2 57.2 332.2 53.7 333.0 51.7 333.0 49.7 332.5 48.2 331.8 47.2 330.4 46.1 328.9 45.6 326.9 45.4 322.9 45.3ZM344.1 59.2 338.9 59.9 334.9 61.5 332.9 61.4 331.9 61.6 329.9 62.8 328.2 64.7 327.1 67.7 326.2 75.2 326.1 86.2 326.5 88.7 329.2 95.2 330.1 97.2 331.3 98.7 342.9 107.4 345.4 108.4 347.4 108.6 349.4 108.1 350.9 107.3 352.9 105.6 353.9 104.2 357.0 94.7 358.9 82.2 356.9 70.2 353.2 61.7 352.2 60.7 349.3 59.7 346.9 59.2ZM310.7 83.7 306.9 84.3 303.9 87.2 303.4 87.7 303.4 88.2 307.9 91.2 313.4 89.0 315.9 86.1 316.1 85.2 313.4 83.5ZM309.7 92.7 307.9 93.4 306.8 95.2 306.9 97.2 307.5 98.2 308.4 98.9 326.9 107.2 328.9 107.2 329.9 106.7 330.9 105.7 331.3 103.7 331.1 102.7 330.4 101.7 325.9 99.2 323.6 96.2 321.4 94.3 319.4 93.7 316.4 94.5 315.4 94.5 311.4 92.9ZM313.8 105.2 312.9 105.4 311.8 106.2 311.3 107.2 311.3 108.7 311.8 109.7 312.4 110.2 313.9 110.7 314.9 110.6 315.9 110.1 316.6 109.2 316.8 108.2 316.7 107.2 316.2 106.2 315.4 105.5ZM335.6 106.2 334.4 106.7 334.2 109.2 336.4 110.7 338.9 109.0 339.1 108.2 337.9 106.0 337.4 105.8ZM292.9 112.6 294.4 112.6 295.5 113.7 295.4 114.9 294.4 116.0 293.4 116.1 292.4 115.4 292.2 113.7 292.4 113.0ZM318.4 119.2 321.9 119.3 323.4 120.1 325.4 121.6 325.7 122.2 325.8 123.2 325.4 125.7 324.8 126.7 322.1 127.7 319.9 128.2 315.9 127.4 314.9 126.8 314.4 125.4 314.0 121.7 314.7 120.7 316.2 119.7Z" fill="#2b2287"/>
<path d="M321.4 45.6 323.4 45.3 327.4 45.4 330.4 46.1 331.8 47.2 332.5 48.2 333.0 49.7 333.0 51.7 332.2 53.7 329.2 57.2 322.9 61.1 321.9 62.2 318.9 67.7 317.0 77.7 316.0 79.7 313.4 82.6 306.4 83.8 303.9 86.1 299.9 88.2 295.9 90.9 290.9 93.3 289.9 94.2 288.9 95.8 287.8 96.7 286.4 97.1 284.4 97.2 282.4 96.7 281.1 95.2 280.0 91.7 277.7 88.7 275.4 80.7 275.3 79.2 276.1 68.7 276.8 66.7 281.9 61.7 288.9 58.5 290.9 58.1 300.4 57.4 304.1 56.2 308.4 53.4 309.9 53.0 312.9 52.7 315.4 51.8 317.4 50.4 318.3 48.2 319.4 46.8ZM321.4 47.2 319.9 48.6 318.4 51.9 315.9 53.4 313.9 54.1 310.4 54.4 308.9 54.8 304.4 57.7 300.4 59.1 289.3 60.2 282.9 63.1 278.4 67.5 277.8 69.2 277.0 80.2 279.4 88.2 281.4 90.7 282.3 94.2 283.4 95.6 284.9 96.1 286.7 95.7 287.9 94.7 288.9 93.0 289.9 92.3 295.3 89.7 300.4 86.3 306.4 83.1 311.4 82.1 312.9 81.1 314.2 79.7 315.4 77.7 317.6 66.7 320.2 61.7 321.9 59.7 327.9 56.1 330.7 53.2 331.5 51.7 331.6 50.2 331.3 49.2 330.7 48.2 329.4 47.3 327.9 47.0 323.9 46.8ZM344.4 59.2 346.9 59.2 349.4 59.7 352.2 60.7 353.2 61.7 356.9 70.2 358.9 82.2 357.0 94.7 353.9 104.2 352.9 105.6 350.9 107.3 349.4 108.1 347.4 108.6 345.4 108.4 342.9 107.4 331.3 98.7 330.1 97.2 329.2 95.2 326.5 88.7 326.1 86.2 326.2 74.7 327.2 67.2 328.6 64.2 330.4 62.4 332.4 61.5 334.9 61.5 338.9 59.9ZM340.2 60.7 338.4 61.2 334.9 62.7 331.9 63.4 330.4 64.5 329.2 66.2 328.6 68.2 327.6 76.2 327.7 87.2 330.9 95.2 332.6 97.7 343.9 106.1 345.9 106.9 347.9 106.9 350.9 105.8 352.7 104.2 353.4 102.7 355.8 95.2 357.9 82.7 356.3 72.7 355.4 69.2 352.8 63.2 351.9 61.9 350.4 61.2 345.9 60.4 343.4 60.4ZM309.9 92.7 311.4 92.9 315.4 94.5 316.4 94.5 319.4 93.7 321.4 94.3 323.6 96.2 325.9 99.2 330.4 101.7 331.1 102.7 331.3 103.7 330.9 105.7 329.9 106.7 328.9 107.2 326.9 107.2 308.4 98.9 307.5 98.2 306.9 97.2 306.8 95.2 307.9 93.4ZM318.6 95.7 317.7 96.2 317.1 97.2 317.2 98.2 317.7 99.2 319.3 100.7 320.2 101.2 321.4 101.3 322.4 100.9 323.0 100.2 323.2 99.2 322.5 97.7 320.4 95.9 319.4 95.6ZM313.9 105.2 314.9 105.3 315.9 105.9 316.5 106.7 316.8 107.7 316.7 108.7 316.2 109.7 315.4 110.4 314.4 110.7 312.4 110.2 311.5 109.2 311.2 108.2 311.3 107.2 311.9 106.1 312.9 105.4ZM313.9 108.2 314.0 108.2 313.9 107.9Z" fill="#3553bb"/>
<path d="M321.9 47.0 326.4 46.9 329.4 47.3 330.7 48.2 331.3 49.2 331.6 50.2 331.5 51.7 330.7 53.2 327.9 56.1 321.9 59.7 320.2 61.7 317.6 66.7 315.4 77.7 314.2 79.7 312.9 81.1 311.4 82.1 306.4 83.1 300.4 86.3 295.3 89.7 289.9 92.3 288.9 93.0 287.9 94.7 286.7 95.7 284.9 96.1 283.4 95.6 282.3 94.2 281.4 90.7 279.4 88.2 277.0 80.2 277.8 69.2 278.4 67.5 282.9 63.1 289.3 60.2 300.4 59.1 304.4 57.7 308.9 54.8 310.4 54.4 313.9 54.1 315.9 53.4 318.4 51.9 319.9 48.6 320.9 47.5ZM321.9 48.7 321.0 49.7 320.8 51.2 321.1 52.2 322.4 53.1 327.9 53.3 329.2 52.7 329.9 51.7 330.1 50.7 329.9 49.8 328.7 48.7 323.9 48.3ZM310.7 55.7 308.2 56.7 304.4 60.2 290.9 65.1 285.6 68.7 282.4 70.4 281.5 71.2 280.8 73.2 281.6 83.7 282.4 86.2 284.8 89.7 284.8 90.2 283.5 92.2 283.7 93.7 284.4 94.4 285.4 94.6 286.2 94.2 287.9 91.5 294.9 88.6 301.9 83.2 305.4 81.8 310.4 81.1 311.9 80.2 312.8 79.2 313.6 77.7 315.2 71.7 315.9 60.2 315.3 58.2 314.2 56.7 312.9 55.9ZM340.4 60.7 343.9 60.3 346.9 60.6 350.4 61.2 352.2 62.2 355.9 70.6 357.6 80.7 357.8 83.7 356.1 94.2 353.2 103.2 352.4 104.6 351.4 105.5 349.9 106.3 347.9 106.9 345.9 106.9 343.9 106.1 332.6 97.7 330.9 95.2 327.7 87.2 327.6 76.2 328.6 68.2 329.2 66.2 330.4 64.5 331.9 63.4 334.9 62.7 338.4 61.2ZM341.0 61.7 332.9 64.5 331.4 65.5 330.6 66.7 330.0 68.7 329.0 76.2 329.1 86.7 332.2 94.7 333.6 96.7 344.4 104.8 345.9 105.4 347.9 105.4 351.1 104.2 351.9 103.5 352.5 102.2 355.0 94.2 356.8 83.7 356.7 81.2 354.9 70.7 352.4 64.8 351.5 63.2 350.4 62.6 348.9 62.3 343.4 61.6ZM318.9 95.6 319.9 95.7 320.9 96.2 322.9 98.2 323.2 99.7 322.4 100.9 321.4 101.3 319.9 101.1 318.4 99.9 317.4 98.7 317.1 97.7 317.3 96.7 317.9 96.1ZM313.9 107.9 314.0 108.2 313.9 108.2 313.9 108.2Z" fill="#4aaad8"/>
<path d="M321.9 48.7 323.9 48.3 328.7 48.7 329.9 49.8 330.1 50.7 329.9 51.7 329.2 52.7 327.9 53.3 322.4 53.1 321.1 52.2 320.8 51.2 321.0 49.7ZM310.9 55.7 312.9 55.9 314.2 56.7 315.3 58.2 315.9 60.2 315.2 71.7 313.6 77.7 312.8 79.2 311.9 80.2 310.4 81.1 305.4 81.8 301.9 83.2 294.9 88.6 287.9 91.5 286.2 94.2 285.4 94.6 284.4 94.4 283.7 93.7 283.5 92.2 284.8 90.2 284.8 89.7 282.4 86.2 281.6 83.7 280.8 73.2 281.5 71.2 282.4 70.4 285.6 68.7 290.7 65.2 303.9 60.5 305.4 59.5 308.2 56.7 309.4 56.0ZM309.4 57.7 308.0 59.2 307.1 61.2 305.2 76.7 305.4 78.2 306.0 79.2 306.9 79.8 308.4 80.1 310.4 79.6 311.3 78.7 311.9 77.6 313.3 71.7 314.2 61.7 314.0 59.7 312.9 57.9 311.4 57.2ZM287.2 70.7 283.9 71.5 282.9 72.2 282.6 72.7 282.5 74.2 282.9 79.1 283.4 83.7 284.0 85.7 287.2 88.7 288.9 89.2 292.4 88.1 295.1 86.7 298.4 83.7 299.1 82.2 299.2 81.2 298.4 79.2 295.1 74.7 291.6 71.2 289.9 70.4ZM341.4 61.6 343.9 61.6 349.4 62.4 350.7 62.7 351.5 63.2 352.4 64.8 354.9 70.7 356.7 81.2 356.8 83.7 355.0 94.2 352.5 102.2 351.9 103.5 351.1 104.2 347.9 105.4 345.9 105.4 344.4 104.8 333.6 96.7 332.2 94.7 329.1 86.7 329.0 76.2 330.0 68.7 330.6 66.7 331.4 65.5 332.9 64.5 339.1 62.2ZM340.4 63.2 333.4 65.8 332.4 66.6 331.7 67.7 330.4 76.7 330.5 86.7 333.3 93.7 334.6 95.7 344.9 103.4 346.4 104.0 347.9 104.0 350.4 103.1 351.4 102.1 354.1 93.7 355.8 82.7 354.2 72.2 353.7 70.2 351.9 66.2 351.1 64.7 350.4 64.1 342.9 62.9Z" fill="#66bf6a"/>
<path d="M309.4 57.7 311.4 57.2 312.9 57.9 314.0 59.7 314.2 61.7 313.3 71.7 311.9 77.6 311.3 78.7 310.4 79.6 308.4 80.1 306.9 79.8 306.0 79.2 305.3 77.7 305.2 76.2 307.1 61.2 308.0 59.2ZM340.9 63.1 343.4 63.0 349.4 63.8 350.5 64.2 351.4 65.2 352.1 66.7 353.8 70.7 354.3 72.7 355.8 82.7 354.1 93.7 351.4 102.1 350.4 103.1 347.9 104.0 346.4 104.0 344.9 103.4 334.6 95.7 333.3 93.7 330.5 86.7 330.4 76.7 331.7 67.7 332.4 66.6 333.6 65.7ZM340.4 64.7 334.4 66.9 333.1 68.2 331.8 76.7 331.9 86.2 334.4 92.7 335.7 94.7 345.4 102.0 346.4 102.5 347.9 102.5 349.9 101.7 350.8 100.7 352.7 95.2 353.3 92.7 354.8 82.7 353.2 72.2 351.2 67.2 349.9 65.4 342.9 64.4ZM287.4 70.7 289.9 70.4 290.9 70.7 291.9 71.5 295.1 74.7 298.4 79.2 299.2 81.2 299.1 82.2 298.4 83.7 295.1 86.7 292.4 88.1 288.9 89.2 287.9 89.1 286.9 88.5 284.4 86.2 283.8 85.2 283.3 83.2 282.5 74.7 282.5 73.2 282.9 72.2 284.4 71.3ZM293.0 78.7 291.8 80.2 291.5 82.2 292.5 84.2 293.2 84.7 293.9 84.8 295.4 84.3 296.8 83.2 297.3 82.2 297.3 81.2 296.9 80.2 295.4 78.8 293.9 78.3Z" fill="#ecdf42"/>
<path d="M340.4 64.7 342.9 64.4 349.9 65.4 351.2 67.2 353.2 72.2 354.8 82.7 353.3 92.7 352.7 95.2 350.8 100.7 349.9 101.7 347.9 102.5 346.4 102.5 345.4 102.0 335.7 94.7 334.4 92.7 331.9 86.2 331.8 76.7 333.1 68.2 334.4 66.9ZM340.7 66.2 335.4 68.1 334.4 69.2 333.3 77.2 333.4 86.2 335.9 92.3 336.8 93.7 345.9 100.5 346.9 101.0 347.9 100.9 349.4 100.2 350.4 98.5 351.9 93.7 353.5 84.2 353.6 81.7 352.0 72.2 350.4 68.2 349.4 66.9 342.9 65.9ZM293.4 78.5 294.4 78.4 295.9 79.2 296.9 80.2 297.3 81.2 297.3 82.2 296.8 83.2 295.4 84.3 293.9 84.8 293.2 84.7 292.5 84.2 291.5 82.2 291.8 80.2 292.5 79.2Z" fill="#ef7f22"/>
<path d="M340.9 66.1 342.9 65.9 349.4 66.9 350.4 68.2 352.0 72.2 353.6 81.7 353.5 84.2 351.9 93.7 350.4 98.5 349.4 100.2 347.9 100.9 346.9 101.0 345.9 100.5 336.8 93.7 335.9 92.3 333.4 86.2 333.3 77.2 334.4 69.2 335.4 68.1Z" fill="#dd2a18"/>
</g></g>
<clipPath id="clip_B1"><rect x="30.9" y="200.5" width="108.0" height="107.5"/></clipPath>
<g clip-path="url(#clip_B1)"><g filter="url(#soft)">
<path d="M61.7 225.0h0.7M82.5 209.9h0.7M97.7 228.9h0.7M72.2 225.4h0.7M85.2 217.8h0.7M62.1 234.2h0.7M85.5 225.4h0.7M91.9 226.6h0.7M80.4 224.5h0.7M71.5 227.9h0.7M66.4 234.7h0.7M76.6 217.9h0.7M74.9 213.7h0.7M85.6 215.5h0.7M95.7 215.9h0.7M71.2 224.0h0.7M95.9 231.3h0.7M76.2 231.1h0.7M93.2 227.8h0.7M69.6 219.2h0.7M76.5 213.1h0.7M88.5 215.3h0.7M58.7 228.1h0.7M91.4 215.1h0.7M68.9 232.3h0.7M77.7 236.3h0.7M65.6 219.1h0.7M97.4 219.9h0.7M75.2 219.1h0.7M59.0 221.9h0.7M66.8 236.0h0.7M88.6 226.5h0.7M85.1 231.2h0.7M62.6 229.0h0.7M62.3 223.2h0.7M90.6 237.6h0.7M71.8 214.2h0.7M66.7 220.4h0.7M84.0 214.1h0.7M77.9 211.5h0.7M82.9 216.4h0.7M80.4 229.4h0.7M70.3 229.6h0.7M71.5 213.2h0.7M69.9 221.6h0.7M59.8 227.0h0.7M86.8 211.1h0.7M91.5 230.9h0.7M62.3 223.9h0.7M87.6 234.7h0.7M89.5 217.6h0.7M90.7 217.0h0.7M62.1 221.5h0.7M77.9 218.1h0.7M82.7 228.3h0.7M66.6 228.9h0.7M71.7 232.5h0.7M68.8 234.6h0.7M74.3 226.7h0.7M85.6 225.6h0.7M60.2 219.4h0.7M80.2 209.9h0.7M62.8 234.6h0.7M90.5 229.4h0.7M95.7 233.2h0.7M69.1 229.6h0.7M71.0 233.0h0.7M72.9 213.9h0.7M94.6 231.1h0.7M88.8 226.9h0.7M90.4 223.3h0.7M80.9 211.0h0.7M80.4 235.1h0.7M87.0 234.7h0.7M77.8 237.2h0.7M72.3 211.9h0.7M83.3 223.6h0.7M74.8 236.3h0.7M62.1 228.7h0.7M74.2 225.9h0.7M78.0 213.3h0.7M78.5 236.6h0.7M59.0 223.7h0.7M99.6 226.2h0.7M61.3 222.4h0.7M65.1 231.9h0.7M79.8 218.2h0.7M67.2 236.7h0.7M89.7 223.0h0.7M73.8 232.6h0.7M63.0 220.6h0.7M78.3 211.3h0.7M73.0 232.7h0.7M82.8 209.9h0.7M58.0 223.5h0.7M72.1 237.4h0.7M96.9 222.0h0.7M88.8 220.7h0.7M62.8 227.4h0.7M59.8 230.2h0.7M75.7 212.8h0.7M98.6 228.0h0.7M85.6 220.9h0.7M64.1 218.3h0.7M87.7 219.4h0.7M86.4 225.1h0.7M75.8 240.0h0.7M63.3 224.6h0.7M77.5 219.6h0.7M63.4 228.0h0.7M73.6 213.1h0.7M57.4 221.5h0.7M81.7 225.6h0.7M77.0 225.8h0.7M73.5 221.8h0.7M76.5 232.0h0.7M75.2 220.7h0.7M85.0 214.2h0.7M56.5 228.0h0.7M79.3 236.7h0.7M74.3 234.2h0.7M82.3 216.2h0.7M72.5 219.8h0.7M80.8 237.4h0.7M72.1 214.9h0.7M72.9 219.2h0.7M73.0 210.6h0.7M80.4 229.0h0.7M71.6 230.0h0.7M75.4 215.9h0.7M95.1 232.9h0.7M74.1 231.0h0.7M75.3 225.4h0.7M85.8 210.6h0.7M66.9 232.1h0.7M86.1 222.0h0.7M69.0 235.5h0.7M91.7 212.9h0.7M69.5 227.7h0.7M69.6 221.1h0.7M60.6 221.5h0.7M96.0 218.0h0.7M67.9 230.7h0.7M94.8 218.5h0.7M72.6 231.9h0.7M90.9 228.6h0.7M63.9 214.8h0.7M89.3 231.6h0.7M95.4 234.0h0.7M74.5 213.3h0.7M95.2 231.3h0.7M81.4 230.8h0.7M72.9 220.0h0.7M81.3 224.4h0.7M87.2 239.0h0.7M93.3 221.4h0.7M72.4 238.7h0.7M73.4 234.6h0.7M60.1 223.4h0.7M78.7 234.9h0.7M83.2 229.1h0.7M62.7 235.7h0.7M80.4 239.8h0.7M64.2 225.8h0.7M70.2 229.6h0.7M82.8 225.4h0.7M70.3 225.1h0.7M72.4 237.5h0.7M76.3 224.2h0.7M67.4 217.1h0.7M98.0 219.0h0.7M94.2 228.0h0.7M81.0 231.7h0.7M87.8 223.3h0.7M83.9 216.3h0.7M76.9 238.0h0.7M67.6 235.2h0.7M63.3 216.3h0.7M71.9 212.7h0.7M97.1 220.6h0.7M83.5 223.5h0.7M88.7 234.8h0.7M72.9 226.1h0.7M60.3 218.1h0.7M65.8 218.9h0.7M70.3 227.4h0.7M70.6 219.5h0.7M94.1 229.3h0.7M66.7 225.6h0.7M86.0 234.5h0.7M66.9 224.3h0.7M81.6 234.2h0.7M95.7 219.6h0.7M99.1 223.4h0.7M63.0 226.0h0.7M82.1 231.2h0.7M85.5 210.3h0.7M84.1 238.5h0.7M78.5 234.9h0.7M75.2 237.1h0.7" stroke="#9c9ab0" stroke-width="0.7" stroke-opacity="0.6" fill="none"/>
<path d="M105.9 265.0h0.7M123.8 269.8h0.7M116.1 284.4h0.7M113.8 283.5h0.7M118.3 247.3h0.7M98.7 255.1h0.7M111.3 256.2h0.7M116.1 245.3h0.7M124.9 246.1h0.7M98.6 249.5h0.7M104.4 281.9h0.7M106.8 277.2h0.7M103.1 240.1h0.7M113.8 238.1h0.7M123.9 252.2h0.7M105.6 258.1h0.7M104.0 263.4h0.7M116.6 271.1h0.7M115.0 234.6h0.7M101.9 274.2h0.7M110.8 230.4h0.7M114.1 254.8h0.7M97.5 244.6h0.7M105.4 249.4h0.7M119.0 239.4h0.7M110.1 264.0h0.7M102.5 239.1h0.7M102.6 256.9h0.7M117.0 250.4h0.7M103.9 239.6h0.7M111.4 278.8h0.7M119.4 241.4h0.7M109.8 250.4h0.7M118.2 234.7h0.7M103.7 268.4h0.7M114.3 258.9h0.7M101.6 261.7h0.7M114.2 284.9h0.7M128.2 262.9h0.7M120.8 269.1h0.7M99.5 263.7h0.7M105.4 250.1h0.7M124.0 270.2h0.7M120.6 246.1h0.7M109.2 239.9h0.7M115.5 277.0h0.7M103.9 269.3h0.7M99.3 260.0h0.7M98.7 260.3h0.7M113.4 249.4h0.7M106.9 269.8h0.7M111.4 252.8h0.7M98.8 245.8h0.7M107.7 278.8h0.7M124.7 242.2h0.7M104.3 269.0h0.7M105.4 283.5h0.7M107.4 270.9h0.7M119.0 242.0h0.7M124.4 248.4h0.7M110.4 265.4h0.7M104.2 277.1h0.7M104.1 277.5h0.7M100.4 255.1h0.7M106.9 252.1h0.7M124.0 262.5h0.7M115.6 251.8h0.7M122.5 258.1h0.7M120.4 281.2h0.7M115.8 254.4h0.7M104.0 281.1h0.7M121.0 274.8h0.7M102.5 254.5h0.7M125.0 243.8h0.7M122.7 260.2h0.7M102.4 251.0h0.7M97.6 267.7h0.7M105.2 273.1h0.7M101.8 260.1h0.7M122.4 261.9h0.7M120.4 261.6h0.7M106.3 262.6h0.7M108.3 236.6h0.7M100.8 243.8h0.7M116.6 262.5h0.7M115.1 276.0h0.7M98.2 251.8h0.7M97.7 253.5h0.7M98.5 251.8h0.7M120.9 245.8h0.7M120.2 243.1h0.7M104.8 256.4h0.7M97.5 255.1h0.7M114.8 276.2h0.7M114.4 262.4h0.7M104.4 260.6h0.7M113.3 281.0h0.7M102.9 267.1h0.7M114.6 258.8h0.7M116.3 260.8h0.7M106.5 265.9h0.7M97.8 256.8h0.7M110.4 241.9h0.7M114.3 267.5h0.7M99.3 246.6h0.7M97.1 263.4h0.7M97.8 242.8h0.7M110.2 255.3h0.7M102.8 264.2h0.7M102.6 263.4h0.7M107.0 247.8h0.7M111.1 262.8h0.7M115.3 268.6h0.7M104.1 235.1h0.7M103.6 248.3h0.7M115.7 253.2h0.7M105.6 235.5h0.7M115.3 236.2h0.7M112.6 268.5h0.7M116.2 238.9h0.7M107.1 282.7h0.7M98.1 268.0h0.7M109.8 264.4h0.7M108.4 236.9h0.7M114.1 230.3h0.7M124.4 274.7h0.7M107.7 260.1h0.7M112.9 284.9h0.7M96.5 246.7h0.7M108.8 274.1h0.7M119.8 253.7h0.7M108.8 236.5h0.7M116.5 254.9h0.7M105.4 245.1h0.7M112.7 243.9h0.7M108.4 282.8h0.7M111.2 244.2h0.7M112.7 281.4h0.7M124.5 267.9h0.7M125.6 272.4h0.7M118.1 254.0h0.7M100.1 271.0h0.7M116.6 284.2h0.7M105.9 279.1h0.7M127.9 267.6h0.7M122.4 254.0h0.7M120.9 280.5h0.7M105.2 279.0h0.7M104.2 248.4h0.7M113.7 231.3h0.7M113.6 239.5h0.7M120.5 237.2h0.7M102.0 245.1h0.7M114.8 275.3h0.7M120.6 271.5h0.7M118.2 260.4h0.7M106.6 240.1h0.7M124.4 252.9h0.7M117.1 233.8h0.7M107.3 235.6h0.7M107.1 271.1h0.7M106.6 268.2h0.7M99.2 251.6h0.7M108.9 258.5h0.7M102.8 269.1h0.7M125.0 275.5h0.7M96.0 257.3h0.7M106.7 262.1h0.7M97.8 270.9h0.7M109.2 282.9h0.7M95.6 253.4h0.7M111.5 276.5h0.7M120.7 240.2h0.7M105.5 271.2h0.7M109.3 244.7h0.7M107.1 260.8h0.7M119.7 268.4h0.7M118.3 260.5h0.7M114.8 241.1h0.7M114.1 267.7h0.7M111.5 268.0h0.7M110.6 275.0h0.7M119.5 235.0h0.7M121.2 245.9h0.7M106.0 259.4h0.7M106.2 241.4h0.7M121.2 250.9h0.7M124.7 243.7h0.7M118.5 250.0h0.7M123.9 266.2h0.7M118.1 235.2h0.7M120.5 249.8h0.7M120.2 277.3h0.7M125.6 254.4h0.7M97.0 262.6h0.7M112.9 276.2h0.7M102.9 255.9h0.7M108.8 264.0h0.7M118.5 253.2h0.7M108.6 244.4h0.7M110.8 262.2h0.7M108.3 258.3h0.7M116.6 277.7h0.7M114.1 251.4h0.7M104.0 238.5h0.7M108.1 249.2h0.7M107.1 277.7h0.7M104.9 237.4h0.7M109.6 250.2h0.7M112.3 275.6h0.7M104.0 249.6h0.7M114.6 243.2h0.7M104.4 240.5h0.7M103.9 277.0h0.7M122.0 236.4h0.7M106.9 270.4h0.7M124.2 261.4h0.7M119.7 243.3h0.7M121.6 276.0h0.7M108.8 243.2h0.7M96.1 265.3h0.7M112.7 282.6h0.7M97.0 254.4h0.7M108.1 278.7h0.7M103.8 252.1h0.7M115.5 264.5h0.7M115.7 266.4h0.7M115.9 231.9h0.7M117.3 262.7h0.7M102.4 253.5h0.7" stroke="#9c9ab0" stroke-width="0.7" stroke-opacity="0.6" fill="none"/>
<path d="M89.8 252.4h0.7M90.6 238.3h0.7M100.9 250.2h0.7M102.0 248.5h0.7M93.3 244.5h0.7M96.1 246.9h0.7M90.0 245.2h0.7M103.3 248.1h0.7M94.8 249.0h0.7M88.6 237.8h0.7M90.8 237.9h0.7M100.3 251.7h0.7M91.5 248.7h0.7M100.4 244.2h0.7M97.8 253.4h0.7M99.3 250.5h0.7M103.1 243.4h0.7M88.1 244.5h0.7M92.4 242.9h0.7M101.1 248.0h0.7M98.6 248.1h0.7M92.9 252.0h0.7M98.0 250.8h0.7M97.4 250.7h0.7M99.8 251.3h0.7M103.5 239.8h0.7M91.1 237.7h0.7M97.7 235.6h0.7M101.0 241.0h0.7M99.9 253.2h0.7M98.8 243.5h0.7M97.5 252.1h0.7M99.2 240.0h0.7M97.5 236.3h0.7M96.0 246.8h0.7M90.9 252.7h0.7M89.8 237.9h0.7M91.2 241.8h0.7M102.7 248.1h0.7M87.4 242.9h0.7M87.1 249.1h0.7M95.0 239.9h0.7M90.7 249.9h0.7M95.9 241.2h0.7M86.2 247.0h0.7" stroke="#9c9ab0" stroke-width="0.7" stroke-opacity="0.6" fill="none"/>
<path d="M113.9 226.5 115.9 226.3 118.9 226.9 121.4 227.9 123.0 229.0 124.3 230.5 125.0 232.0 125.1 233.5 124.4 235.2 123.4 236.1 121.9 236.8 118.4 237.2 114.8 236.5 112.9 235.6 111.3 234.5 110.4 233.5 109.5 232.0 109.3 231.0 109.4 229.5 109.9 228.5 111.0 227.5ZM113.1 229.5 112.6 230.0 112.4 231.0 112.9 232.0 113.9 232.6 119.4 234.4 120.4 234.4 121.4 233.5 121.4 232.0 120.4 231.1 114.9 229.3 113.9 229.2ZM43.4 227.5 44.4 227.4 46.2 228.0 47.4 228.5 48.4 229.3 50.4 233.2 51.2 237.0 51.9 238.2 53.4 238.5 62.4 237.8 63.9 238.1 65.9 240.1 66.9 241.4 67.3 245.5 67.9 246.8 69.4 247.8 73.9 249.8 75.4 249.7 78.9 248.3 80.1 247.5 83.4 240.7 88.0 235.0 88.9 234.5 91.4 233.9 92.0 234.0 92.9 234.7 93.9 236.0 94.0 237.0 92.6 241.5 92.9 242.0 93.4 242.2 96.9 242.6 100.4 244.4 101.4 245.3 104.4 252.4 106.2 260.0 106.7 268.5 103.4 282.0 104.2 290.0 102.9 294.3 101.9 296.2 97.6 298.5 95.9 298.7 89.4 298.1 82.8 296.5 80.0 295.5 75.5 293.5 74.2 292.5 70.4 288.0 68.2 283.5 67.2 282.5 59.4 280.3 52.4 277.7 50.4 276.4 45.5 272.5 42.0 267.0 41.2 265.0 39.0 256.0 38.3 247.0 38.2 236.0 38.4 233.3 39.9 229.0 40.9 228.4ZM42.1 233.5 40.9 234.5 40.1 236.5 40.2 240.5 41.1 243.0 40.0 245.5 39.7 247.0 39.9 255.0 42.5 265.5 45.7 271.0 46.9 272.5 48.4 273.7 51.9 276.2 53.9 277.2 59.9 279.4 66.9 281.2 69.4 282.2 70.9 281.9 72.4 281.1 74.1 279.5 75.1 277.5 77.5 267.5 77.8 264.5 77.7 262.0 77.0 258.5 76.0 256.5 74.4 254.9 68.9 252.0 56.4 243.3 52.9 241.8 47.4 240.2 46.9 239.0 46.8 236.0 46.1 234.5 44.4 233.3 43.4 233.2ZM90.7 244.5 88.9 245.5 87.2 248.0 84.0 249.5 83.3 250.5 81.4 260.0 81.1 267.0 81.6 270.0 82.5 272.5 84.4 275.0 86.4 276.7 89.4 278.4 90.9 278.7 93.4 278.6 99.4 277.7 100.4 277.2 101.0 276.5 104.5 270.0 104.6 264.0 103.5 256.0 102.6 254.0 97.6 246.0 96.9 245.7 94.9 245.6 92.4 244.5ZM75.6 281.5 74.8 282.0 74.4 283.0 74.9 284.1 75.9 284.6 76.4 284.6 77.4 284.0 77.8 283.0 77.4 282.0 76.9 281.6ZM93.6 286.0 91.9 286.7 90.6 288.0 89.7 290.0 89.7 291.5 90.5 293.5 91.9 294.9 93.4 295.6 95.4 295.7 97.4 294.8 98.7 293.5 99.5 291.5 99.5 290.0 98.7 288.0 97.4 286.7 95.4 285.9ZM85.3 286.5 84.8 287.5 85.4 289.0 86.4 289.4 87.4 289.0 88.0 287.5 87.5 286.5 86.4 286.0ZM63.4 289.5 64.9 289.2 66.9 289.4 68.5 290.0 69.9 291.1 70.7 292.5 70.9 294.5 70.4 295.9 69.4 297.1 67.4 298.1 64.9 298.1 62.9 297.5 61.2 296.0 60.4 294.5 60.4 292.4 61.4 290.7Z" fill="#2b2287"/>
<path d="M113.4 229.3 115.4 229.4 120.4 231.1 121.4 232.0 121.4 233.5 120.4 234.4 119.4 234.4 113.6 232.5 112.9 232.0 112.4 231.0 112.6 230.0ZM42.4 233.4 44.4 233.3 46.1 234.5 46.8 236.0 46.9 239.0 47.4 240.2 52.9 241.8 56.4 243.3 68.9 252.0 74.4 254.9 76.0 256.5 77.0 258.5 77.7 262.0 77.8 264.5 77.5 267.5 75.1 277.5 74.1 279.5 72.4 281.1 70.9 281.9 69.4 282.2 66.9 281.2 59.9 279.4 53.4 277.0 51.5 276.0 47.4 272.9 45.4 270.6 42.4 265.2 40.3 257.0 39.8 254.0 39.7 247.0 40.0 245.5 41.1 243.0 40.2 240.5 40.1 236.5 40.9 234.5ZM42.7 235.0 42.1 235.5 41.7 236.5 41.7 240.0 42.4 241.4 43.9 242.2 44.9 241.5 45.2 240.5 45.3 236.5 44.9 235.5 44.4 235.0 43.4 234.8ZM46.0 242.5 44.4 242.7 41.6 246.0 40.9 248.5 40.8 251.5 41.1 256.0 42.4 261.0 44.1 266.0 46.6 270.5 47.9 272.0 51.4 274.7 54.4 276.3 60.4 278.5 68.9 280.7 69.9 280.7 71.5 280.0 73.0 278.5 73.9 276.5 74.7 271.5 76.3 265.5 76.2 261.5 75.7 259.0 74.9 257.4 73.4 255.9 67.4 252.7 54.7 244.0 52.4 243.0 48.9 242.1ZM90.9 244.4 92.4 244.5 94.9 245.6 96.9 245.7 97.6 246.0 102.6 254.0 103.5 256.0 104.6 264.0 104.5 270.0 101.0 276.5 100.4 277.2 99.4 277.7 93.4 278.6 90.9 278.7 89.4 278.4 86.4 276.7 84.4 275.0 82.5 272.5 81.6 270.0 81.1 267.0 81.4 260.0 83.3 250.5 84.0 249.5 87.2 248.0 88.9 245.5 89.9 244.8ZM91.1 246.0 89.7 247.0 89.0 249.0 89.7 255.0 88.9 256.0 85.4 257.6 83.7 259.5 82.9 262.0 82.6 267.5 82.9 269.2 83.8 271.5 85.0 273.5 86.4 274.9 87.9 275.9 89.9 276.7 93.4 277.1 95.4 276.7 96.9 276.0 98.2 275.0 100.2 272.5 101.2 271.0 102.5 268.0 103.0 266.0 103.1 264.0 102.5 261.5 101.3 259.5 99.1 257.0 95.9 254.5 94.1 247.5 92.4 246.1ZM93.9 285.9 95.9 286.1 97.4 286.7 98.7 288.0 99.5 290.0 99.5 291.5 98.7 293.5 97.4 294.8 95.4 295.7 93.4 295.6 91.9 294.9 90.5 293.5 89.7 291.5 89.7 290.0 90.6 288.0 91.9 286.7ZM93.6 287.5 92.4 288.1 91.6 289.0 91.2 290.0 91.2 291.5 91.9 293.0 92.9 293.8 93.9 294.2 95.4 294.2 96.8 293.5 97.6 292.5 98.0 291.5 98.0 290.0 97.4 288.8 96.4 287.8 94.9 287.4Z" fill="#3553bb"/>
<path d="M42.9 234.9 44.4 235.0 44.9 235.5 45.3 236.5 45.2 240.5 44.9 241.5 43.9 242.2 42.4 241.4 41.7 240.0 41.7 236.5 42.1 235.5ZM46.4 242.4 48.9 242.1 52.4 243.0 54.7 244.0 67.4 252.7 73.4 255.9 75.0 257.5 75.7 259.0 76.2 261.5 76.3 265.5 74.7 271.5 73.9 276.5 72.9 278.6 71.4 280.1 69.9 280.7 68.9 280.7 60.4 278.5 54.4 276.3 51.4 274.7 47.9 272.0 46.6 270.5 43.9 265.5 42.0 259.5 41.0 255.5 40.8 250.5 41.1 247.5 41.8 245.5 44.4 242.7ZM48.3 244.5 44.9 245.0 43.4 246.0 42.4 248.0 42.1 250.5 42.1 255.0 42.7 258.0 46.4 267.3 47.8 270.0 52.3 274.0 54.4 275.2 60.9 277.6 67.4 279.3 69.4 279.5 70.6 279.0 71.9 277.8 72.7 276.0 73.3 270.5 75.1 265.0 75.0 261.5 73.9 258.2 72.9 257.1 71.4 256.2 63.3 253.5 53.1 245.0 50.9 244.4ZM91.4 245.9 92.9 246.4 94.1 247.5 95.9 254.5 99.1 257.0 101.3 259.5 102.5 261.5 103.1 264.0 103.0 266.0 102.5 268.0 101.2 271.0 100.2 272.5 98.2 275.0 96.9 276.0 95.4 276.7 93.4 277.1 89.9 276.7 87.9 275.9 86.4 274.9 85.0 273.5 83.8 271.5 82.9 269.2 82.6 267.5 82.9 262.5 83.4 260.1 84.0 259.0 85.4 257.6 89.5 255.5 89.7 254.0 89.0 250.0 89.1 248.5 89.9 246.7ZM92.4 256.5 90.5 257.5 87.4 258.5 85.6 260.0 84.6 262.0 84.0 267.0 84.7 269.5 85.9 272.0 87.0 273.5 89.4 274.8 93.4 275.4 94.9 275.1 95.9 274.5 98.9 271.3 100.8 267.5 101.5 264.5 100.8 262.0 97.9 258.4 94.4 256.5 93.4 256.3ZM93.9 287.4 95.4 287.4 96.4 287.8 97.4 288.8 98.0 290.0 98.0 291.5 97.6 292.5 96.8 293.5 95.4 294.2 93.9 294.2 92.9 293.8 91.9 293.0 91.2 291.5 91.2 290.0 91.6 289.0 92.6 288.0ZM93.5 289.5 92.9 290.5 93.4 292.0 94.4 292.5 95.8 292.0 96.3 291.0 95.9 289.7 94.9 289.1Z" fill="#4aaad8"/>
<path d="M48.4 244.5 50.9 244.4 53.1 245.0 63.3 253.5 71.4 256.2 72.9 257.1 73.9 258.2 75.0 261.5 75.1 265.0 73.3 270.5 72.7 276.0 71.9 277.8 70.6 279.0 69.4 279.5 67.4 279.3 60.9 277.6 54.4 275.2 52.3 274.0 48.7 271.0 47.4 269.5 43.9 261.2 42.6 257.5 42.1 255.0 42.1 250.0 42.5 247.5 43.4 246.0 44.9 245.0ZM49.4 246.0 46.4 246.4 44.9 246.9 44.2 247.5 43.6 249.0 43.6 256.0 44.4 258.5 45.9 261.5 50.4 266.8 53.4 269.0 53.7 270.0 53.3 272.5 53.8 273.5 54.4 274.0 59.9 276.2 63.4 277.2 67.9 278.3 68.9 278.3 69.9 277.9 71.1 276.5 71.7 274.0 71.4 272.0 70.1 269.5 70.4 269.0 72.9 267.0 73.9 264.5 73.6 261.0 72.9 259.0 71.9 258.0 70.9 257.6 62.6 255.0 52.9 246.8 51.4 246.1ZM92.4 256.5 93.4 256.3 94.4 256.5 97.9 258.4 100.8 262.0 101.5 264.5 100.8 267.5 98.9 271.3 95.9 274.5 94.9 275.1 93.4 275.4 89.4 274.8 87.0 273.5 85.9 272.0 84.7 269.5 84.0 267.0 84.6 262.0 85.6 260.0 87.4 258.5 90.5 257.5ZM93.3 258.5 88.9 259.5 87.1 260.5 86.0 262.5 85.5 266.5 85.9 268.7 87.9 272.3 89.4 273.3 92.9 274.0 94.4 273.7 95.4 273.1 97.7 270.5 99.4 267.0 100.0 264.5 99.4 262.5 97.0 259.5 95.4 258.6ZM93.9 289.3 94.9 289.1 96.1 290.0 96.1 291.5 95.4 292.3 94.4 292.5 93.9 292.3 93.1 291.5 92.9 290.5 93.4 289.6Z" fill="#66bf6a"/>
<path d="M49.4 246.0 51.4 246.1 52.9 246.8 62.6 255.0 70.9 257.6 71.9 258.0 72.9 259.0 73.6 261.0 73.9 264.5 72.9 267.0 70.4 269.0 70.1 269.5 71.4 272.0 71.7 274.0 71.1 276.5 69.9 277.9 68.9 278.3 67.9 278.3 63.4 277.2 59.9 276.2 54.4 274.0 53.8 273.5 53.3 272.5 53.7 270.0 53.4 269.0 50.4 266.8 45.9 261.5 44.4 258.5 43.6 256.0 43.6 249.0 44.2 247.5 44.9 246.9 46.4 246.4ZM48.9 247.5 46.4 248.0 45.2 249.0 44.8 250.5 44.9 255.5 47.0 260.0 51.4 265.0 52.4 265.9 55.6 267.5 57.7 269.0 55.5 271.5 55.3 272.5 55.4 273.0 56.9 274.0 62.6 276.0 67.4 277.1 68.4 277.0 69.4 276.5 70.1 275.5 70.3 274.0 69.9 273.0 69.0 272.0 67.4 271.4 60.2 270.0 59.0 269.5 58.6 269.0 60.4 268.0 61.9 267.6 67.4 267.7 71.4 266.0 72.3 265.0 72.5 264.0 72.3 261.5 71.8 260.0 70.4 258.9 61.9 256.3 51.9 247.9 50.4 247.4ZM93.4 258.5 95.4 258.6 97.4 259.9 99.7 263.0 100.0 265.0 98.6 269.0 96.9 271.5 94.8 273.5 93.9 273.9 92.4 274.0 89.4 273.3 87.9 272.3 85.8 268.5 85.5 266.0 86.0 262.5 87.1 260.5 88.9 259.5ZM93.3 260.0 89.4 260.8 88.2 261.5 87.4 263.0 86.9 266.0 87.1 268.0 88.7 271.0 89.9 272.0 92.4 272.5 93.4 272.5 94.4 272.0 95.9 270.5 97.3 268.5 98.6 265.0 98.3 263.5 96.4 260.9 94.9 260.0Z" fill="#ecdf42"/>
<path d="M48.9 247.5 50.4 247.4 51.9 247.9 61.9 256.3 70.4 258.9 71.8 260.0 72.3 261.5 72.5 264.0 72.3 265.0 71.4 266.0 67.4 267.7 61.9 267.6 60.4 268.0 58.6 269.0 59.0 269.5 60.2 270.0 67.4 271.4 69.0 272.0 69.9 273.0 70.3 274.0 70.1 275.5 69.4 276.5 68.4 277.0 67.4 277.1 62.6 276.0 56.9 274.0 55.4 273.0 55.3 272.5 55.5 271.5 57.7 269.0 55.6 267.5 52.4 265.9 51.4 265.0 47.0 260.0 44.9 255.5 44.8 250.5 45.2 249.0 46.4 248.0ZM49.2 249.0 47.4 249.4 46.6 250.0 46.3 251.5 46.4 255.0 48.6 259.5 53.2 264.5 56.9 266.3 58.4 266.6 61.9 265.8 67.3 266.0 70.6 264.5 71.0 263.5 70.9 262.5 70.5 261.0 70.0 260.5 61.4 257.8 56.9 254.3 51.4 249.5 50.4 249.0ZM57.8 272.0 57.6 272.5 58.1 273.0 61.9 274.5 66.9 275.6 67.9 275.5 68.4 275.0 68.4 274.0 67.4 273.2 59.4 271.9ZM93.4 260.0 94.9 260.0 96.4 260.9 98.3 263.5 98.6 265.0 97.3 268.5 95.9 270.5 94.4 272.0 93.4 272.5 92.4 272.5 89.9 272.0 88.7 271.0 87.1 268.0 86.9 266.0 87.4 263.0 88.2 261.5 89.4 260.8ZM93.5 261.5 89.5 262.5 88.7 264.0 88.4 266.5 88.9 268.4 89.9 270.1 90.4 270.5 91.9 271.0 93.4 270.8 94.4 269.9 95.9 267.7 97.0 265.0 96.8 264.0 95.4 262.1 94.4 261.5Z" fill="#ef7f22"/>
<path d="M49.4 249.0 50.4 249.0 51.4 249.5 56.9 254.3 61.4 257.8 70.0 260.5 70.5 261.0 70.9 262.5 71.0 263.5 70.6 264.5 67.3 266.0 61.9 265.8 58.4 266.6 56.9 266.3 53.2 264.5 48.6 259.5 46.4 255.0 46.3 251.5 46.6 250.0 47.4 249.4ZM93.9 261.5 95.3 262.0 96.4 263.3 97.0 264.5 96.8 265.5 95.5 268.5 93.9 270.4 92.9 271.0 90.9 270.7 89.8 270.0 88.6 267.5 88.4 266.0 88.8 263.5 89.4 262.6 89.9 262.3ZM57.9 271.9 59.9 272.0 67.4 273.2 68.4 274.0 68.4 275.0 67.9 275.5 66.9 275.6 61.9 274.5 58.1 273.0 57.6 272.5Z" fill="#dd2a18"/>
</g></g>
<clipPath id="clip_B2"><rect x="144.7" y="200.5" width="108.20000000000002" height="107.5"/></clipPath>
<g clip-path="url(#clip_B2)"><g filter="url(#soft)">
<path d="M165.1 238.5h0.7M170.2 240.3h0.7M180.5 236.1h0.7M159.1 251.5h0.7M162.4 241.3h0.7M172.3 248.3h0.7M174.0 265.4h0.7M167.3 238.8h0.7M180.5 266.1h0.7M179.8 263.4h0.7M172.1 239.9h0.7M184.4 255.8h0.7M183.9 239.2h0.7M163.3 259.5h0.7M163.3 253.6h0.7M172.4 243.7h0.7M164.4 260.1h0.7M188.3 258.2h0.7M178.2 257.6h0.7M176.2 252.1h0.7M188.0 242.2h0.7M189.2 249.1h0.7M184.6 258.8h0.7M187.7 250.0h0.7M173.4 256.7h0.7M178.7 247.7h0.7M168.3 265.1h0.7M171.9 259.5h0.7M166.7 264.1h0.7M181.2 234.5h0.7M165.7 238.8h0.7M161.5 256.7h0.7M168.9 256.9h0.7M181.3 260.2h0.7M178.4 248.5h0.7M163.7 250.8h0.7M181.3 264.0h0.7M173.8 260.6h0.7M186.5 251.3h0.7M183.8 242.5h0.7M163.8 238.8h0.7M183.0 264.5h0.7M160.8 258.0h0.7M183.9 256.5h0.7M175.0 249.5h0.7M181.2 240.8h0.7M183.1 238.9h0.7M181.3 246.6h0.7M174.5 262.7h0.7M175.1 234.8h0.7M166.1 237.4h0.7M172.1 241.4h0.7M167.9 260.6h0.7M174.0 267.8h0.7M162.1 242.6h0.7M187.2 247.7h0.7M183.6 247.6h0.7M172.0 263.9h0.7M169.0 251.7h0.7M177.1 233.6h0.7M162.2 240.5h0.7M177.5 244.3h0.7M172.4 233.5h0.7M171.8 262.3h0.7M160.2 255.5h0.7M181.1 239.9h0.7M168.5 238.5h0.7M177.1 245.3h0.7M163.2 242.4h0.7M178.5 249.2h0.7M174.6 252.7h0.7M190.4 245.9h0.7M178.3 241.3h0.7M162.9 261.0h0.7M165.0 259.6h0.7M169.6 239.2h0.7M167.3 265.8h0.7M174.3 247.7h0.7M179.7 236.6h0.7M180.8 233.3h0.7M170.2 242.2h0.7M168.4 261.0h0.7M178.8 259.8h0.7M163.0 244.5h0.7M184.2 248.4h0.7M174.8 260.3h0.7M166.2 263.2h0.7M182.7 234.8h0.7M172.6 265.0h0.7M164.5 251.5h0.7M163.4 261.7h0.7M176.9 256.5h0.7M182.9 256.5h0.7M174.4 260.4h0.7M185.4 242.3h0.7M174.5 246.9h0.7M188.9 258.0h0.7M182.9 261.0h0.7M185.7 256.6h0.7M185.5 261.9h0.7M183.5 235.0h0.7M182.1 257.5h0.7M175.0 242.9h0.7M176.2 237.9h0.7M171.6 254.4h0.7M181.9 251.6h0.7M188.1 253.3h0.7M177.6 250.6h0.7M188.0 243.7h0.7M172.8 253.0h0.7M171.9 233.1h0.7M174.0 256.0h0.7M170.4 265.3h0.7M172.3 253.7h0.7M172.1 267.2h0.7M168.7 264.3h0.7M170.0 263.9h0.7M185.9 252.3h0.7M168.7 246.0h0.7M163.1 242.1h0.7M175.5 250.8h0.7M174.1 263.4h0.7M165.8 260.2h0.7M186.6 244.8h0.7M182.3 249.4h0.7M188.6 241.4h0.7M182.3 255.3h0.7M171.4 260.0h0.7M162.4 243.1h0.7M174.8 266.7h0.7M179.0 237.0h0.7M171.5 266.7h0.7M167.8 235.7h0.7M177.8 241.4h0.7M184.6 235.7h0.7M170.6 262.8h0.7M168.4 235.9h0.7M186.4 241.7h0.7M177.9 238.9h0.7M162.9 249.7h0.7M179.5 259.7h0.7M188.8 250.7h0.7M181.0 243.2h0.7M187.6 244.4h0.7M163.6 255.0h0.7M164.1 248.4h0.7M169.5 260.6h0.7M168.3 240.5h0.7M168.2 238.9h0.7M180.0 250.8h0.7" stroke="#9c9ab0" stroke-width="0.7" stroke-opacity="0.6" fill="none"/>
<path d="M202.0 258.1h0.7M205.9 276.9h0.7M177.5 279.5h0.7M186.1 283.5h0.7M181.9 278.0h0.7M204.4 278.1h0.7M187.9 285.8h0.7M210.6 265.2h0.7M181.0 270.4h0.7M191.7 270.3h0.7M194.4 264.8h0.7M194.6 283.5h0.7M188.6 258.7h0.7M199.0 263.5h0.7M203.9 271.9h0.7M206.8 267.7h0.7M189.7 267.2h0.7M191.7 262.5h0.7M179.9 274.8h0.7M209.6 273.4h0.7M193.0 276.0h0.7M181.8 261.8h0.7M202.2 279.3h0.7M185.2 274.2h0.7M196.5 260.1h0.7M194.0 287.5h0.7M200.8 290.1h0.7M195.1 253.3h0.7M196.3 293.0h0.7M207.5 281.3h0.7M198.4 287.1h0.7M183.2 269.3h0.7M200.1 276.0h0.7M183.0 267.3h0.7M181.9 289.8h0.7M183.5 281.5h0.7M183.1 258.6h0.7M178.5 268.9h0.7M196.4 291.0h0.7M200.5 295.2h0.7M184.5 264.2h0.7M186.7 289.0h0.7M182.8 259.7h0.7M188.9 269.2h0.7M191.5 259.9h0.7M195.9 281.9h0.7M206.3 259.7h0.7M192.0 292.6h0.7M182.4 271.6h0.7M189.7 256.9h0.7M195.5 255.0h0.7M194.5 265.1h0.7M189.4 290.2h0.7M178.4 267.0h0.7M211.3 276.2h0.7M210.9 269.7h0.7M209.0 264.2h0.7M198.1 263.4h0.7M207.6 287.9h0.7M212.0 274.6h0.7M204.5 257.1h0.7M199.1 285.7h0.7M203.9 265.2h0.7M177.6 280.1h0.7M204.3 276.6h0.7M183.4 270.8h0.7M185.1 291.6h0.7M201.5 279.9h0.7M190.4 285.3h0.7M190.6 288.0h0.7M204.0 266.0h0.7M178.6 275.5h0.7M178.7 267.4h0.7M191.3 266.9h0.7M192.7 269.9h0.7M195.9 256.6h0.7M180.4 264.7h0.7M182.3 278.4h0.7M196.8 274.9h0.7M205.9 269.2h0.7M194.8 254.1h0.7M205.1 288.1h0.7M204.2 263.2h0.7M194.1 289.1h0.7M203.3 263.7h0.7M187.6 276.8h0.7M190.7 259.4h0.7M186.9 285.7h0.7M193.5 275.5h0.7M194.7 281.7h0.7M201.2 272.7h0.7M203.8 289.1h0.7M195.1 274.8h0.7M196.1 290.4h0.7M193.2 265.5h0.7M205.9 289.1h0.7M199.1 265.1h0.7M183.1 281.7h0.7M197.9 254.9h0.7M201.4 256.7h0.7M201.3 281.1h0.7M208.8 265.8h0.7M197.7 285.1h0.7M198.6 290.8h0.7M192.3 295.1h0.7M190.2 281.8h0.7M200.4 293.2h0.7M194.1 266.1h0.7M191.0 262.4h0.7M187.6 286.7h0.7M190.0 292.1h0.7M201.0 270.7h0.7M191.4 278.6h0.7M198.7 266.5h0.7M177.8 278.0h0.7M188.6 287.2h0.7M208.9 268.2h0.7M205.4 287.5h0.7M185.7 293.7h0.7M198.3 273.7h0.7M185.8 283.7h0.7M205.5 271.2h0.7M204.5 283.5h0.7M187.0 283.1h0.7M181.1 275.1h0.7M195.4 285.8h0.7M204.3 278.4h0.7M199.3 291.3h0.7M195.1 282.7h0.7M177.9 270.8h0.7M184.5 270.3h0.7M194.3 255.0h0.7M179.8 279.2h0.7M186.6 263.8h0.7M200.4 261.4h0.7M210.2 285.6h0.7M184.5 278.2h0.7M197.0 253.3h0.7M208.2 264.2h0.7M202.2 257.1h0.7M193.7 269.4h0.7M202.7 265.1h0.7M180.8 264.6h0.7M189.3 292.2h0.7M195.2 294.1h0.7M194.5 260.9h0.7M185.7 271.2h0.7M181.2 281.7h0.7M179.3 273.8h0.7M196.6 295.2h0.7M192.2 291.9h0.7M195.0 280.2h0.7M207.3 276.8h0.7M191.1 285.4h0.7M182.8 263.4h0.7M208.5 265.7h0.7M194.3 261.2h0.7M203.2 282.6h0.7M188.1 260.3h0.7M210.9 282.5h0.7M198.7 284.2h0.7M207.7 268.2h0.7M203.9 292.4h0.7M208.9 265.7h0.7M205.1 284.9h0.7M191.8 289.5h0.7M192.5 260.4h0.7M198.1 258.7h0.7M187.8 269.7h0.7M181.1 270.8h0.7" stroke="#9c9ab0" stroke-width="0.7" stroke-opacity="0.6" fill="none"/>
<path d="M162.3 230.4h0.7M156.3 240.0h0.7M159.8 246.9h0.7M163.2 248.3h0.7M164.7 233.8h0.7M164.4 240.2h0.7M155.8 241.0h0.7M167.8 245.5h0.7M160.2 235.8h0.7M161.6 241.1h0.7M157.0 242.8h0.7M164.7 247.8h0.7M159.2 237.2h0.7M165.1 233.7h0.7M167.4 232.4h0.7M168.2 236.7h0.7M165.8 244.6h0.7M158.7 235.5h0.7M155.6 238.5h0.7M161.6 241.5h0.7M157.1 235.2h0.7M160.4 243.0h0.7M159.7 244.7h0.7M163.3 245.0h0.7M167.0 234.9h0.7M167.6 238.0h0.7M168.1 240.6h0.7M167.9 240.7h0.7M156.5 239.6h0.7M167.2 239.2h0.7" stroke="#9c9ab0" stroke-width="0.7" stroke-opacity="0.6" fill="none"/>
<path d="M182.7 206.4 184.2 206.0 185.2 206.1 199.6 209.5 211.7 216.4 220.7 224.0 224.2 224.9 228.7 224.1 234.7 225.2 235.7 226.2 237.8 230.5 238.2 231.5 238.1 232.5 236.7 237.0 236.2 238.0 234.4 240.0 234.3 240.5 234.7 241.5 237.7 244.8 242.7 253.1 244.7 263.5 243.6 274.0 241.2 279.2 240.2 280.6 233.9 283.5 229.2 284.6 228.2 285.2 227.4 286.5 224.7 295.0 223.3 296.5 219.7 299.2 219.2 299.3 218.2 299.1 214.9 296.5 214.5 295.5 213.7 292.0 213.9 290.5 218.1 284.5 218.5 283.0 214.5 263.5 213.2 248.4 212.7 247.8 211.7 247.4 205.8 246.0 195.7 243.1 186.2 238.4 183.2 235.6 177.7 229.8 173.7 222.0 173.2 220.5 172.4 215.0 173.3 211.0 174.3 210.0ZM182.7 207.5 178.2 209.3 176.6 210.5 175.5 212.5 175.2 215.0 175.7 217.5 177.5 221.5 178.5 226.5 181.3 229.5 182.5 232.0 183.7 233.7 186.2 235.6 195.2 239.3 206.7 241.5 209.2 241.4 211.7 240.6 212.7 240.8 214.2 242.1 217.0 245.5 217.0 246.5 216.2 249.0 215.5 262.0 218.1 275.0 218.9 277.0 220.2 278.0 225.7 280.8 228.2 281.5 231.2 280.7 239.7 277.4 240.5 276.5 242.2 272.0 242.8 268.5 242.9 266.0 242.5 263.0 240.5 253.5 237.3 249.5 231.2 243.0 229.7 242.5 226.0 243.5 224.7 243.5 223.4 242.5 219.0 237.5 218.5 236.0 219.4 233.0 219.5 231.0 218.5 225.0 217.7 223.0 211.2 217.2 202.2 212.0 191.0 209.5 185.2 207.3 184.2 207.2ZM228.5 228.0 227.6 228.5 227.0 229.5 227.0 230.5 227.5 231.5 231.7 235.7 233.2 236.1 234.2 235.7 234.8 235.0 235.0 234.0 234.5 232.5 230.5 228.5 229.7 228.1ZM158.7 228.9 160.7 228.8 163.7 230.2 166.7 229.2 169.0 229.5 170.2 230.2 171.2 231.5 171.4 233.0 171.2 234.0 170.1 235.5 169.2 236.0 167.7 236.4 165.4 236.0 162.7 234.2 160.2 234.7 158.7 234.5 157.2 233.5 156.7 232.5 156.6 231.5 157.2 229.9ZM163.2 244.4 165.7 244.4 167.7 245.0 169.2 246.1 170.2 247.5 170.5 249.0 170.2 250.9 169.0 252.5 167.5 253.5 165.2 254.1 162.7 253.8 160.2 252.5 159.1 251.0 158.6 249.0 159.3 247.0 160.7 245.5ZM180.7 251.9 182.7 251.7 184.2 252.4 185.5 254.0 186.3 256.0 186.4 258.5 185.7 260.9 184.2 262.8 182.5 263.5 181.2 263.4 179.5 262.5 178.2 260.6 177.7 259.0 177.7 256.5 178.2 254.6 179.2 253.0Z" fill="#2b2287"/>
<path d="M182.7 207.5 184.2 207.2 185.2 207.3 191.0 209.5 202.2 212.0 211.2 217.2 217.7 223.0 218.5 225.0 219.5 231.0 219.4 233.0 218.5 236.0 219.0 237.5 223.4 242.5 224.7 243.5 226.0 243.5 229.7 242.5 231.2 243.0 237.3 249.5 240.5 253.5 242.5 263.0 242.9 266.0 242.8 268.5 242.2 272.0 240.5 276.5 239.7 277.4 231.2 280.7 228.2 281.5 225.7 280.8 220.2 278.0 218.9 277.0 218.1 275.0 215.5 262.0 216.2 249.0 217.0 246.5 217.0 245.5 214.2 242.1 212.7 240.8 211.7 240.6 209.2 241.4 206.7 241.5 195.2 239.3 186.2 235.6 183.7 233.7 182.5 232.0 181.3 229.5 178.5 226.5 177.5 221.5 175.7 217.5 175.2 215.0 175.5 212.5 176.6 210.5 178.2 209.3ZM181.6 209.0 179.2 210.1 177.7 211.4 176.9 213.0 176.7 215.5 177.2 217.5 179.1 221.5 180.2 226.0 182.2 228.3 184.2 232.0 185.2 233.2 187.7 234.7 194.2 237.4 196.7 238.1 206.7 240.0 208.7 239.9 212.2 238.8 216.2 239.8 216.7 239.6 216.7 236.5 217.8 233.0 217.8 230.0 216.5 223.5 214.1 221.0 210.2 217.8 202.2 213.3 191.2 211.2 184.7 208.6 183.2 208.5ZM220.0 244.0 219.4 246.5 218.2 248.1 217.9 249.0 217.0 261.5 218.2 269.1 219.9 275.5 220.7 276.4 221.8 277.0 226.9 279.5 228.2 279.8 238.2 276.4 239.2 275.5 240.7 272.0 241.3 270.0 241.5 268.0 241.5 265.5 240.7 260.5 239.2 254.5 238.7 253.5 235.7 249.8 230.2 244.4 229.2 244.3 225.2 245.3 220.2 243.8ZM228.7 228.0 229.7 228.1 230.5 228.5 234.5 232.5 235.0 234.0 234.8 235.0 234.2 235.7 233.2 236.1 231.7 235.7 227.5 231.5 227.0 230.5 227.0 229.5 227.6 228.5Z" fill="#3553bb"/>
<path d="M181.7 209.0 183.2 208.5 184.7 208.6 191.2 211.2 202.2 213.3 210.2 217.8 214.1 221.0 216.5 223.5 217.8 230.0 217.8 233.0 216.7 236.5 216.7 239.6 216.2 239.8 212.2 238.8 208.7 239.9 206.7 240.0 196.7 238.1 194.2 237.4 187.7 234.7 185.2 233.2 184.2 232.0 182.2 228.3 180.2 226.0 179.1 221.5 177.2 217.5 176.7 215.5 176.9 213.0 177.7 211.4 179.2 210.1ZM182.2 210.0 180.0 211.0 178.7 212.3 178.0 214.0 178.2 216.0 178.7 217.5 179.7 218.9 182.9 221.0 183.2 224.5 184.0 228.0 185.2 231.0 186.5 232.5 188.2 233.4 195.7 236.4 206.7 238.6 208.2 238.6 209.7 238.2 213.7 236.5 215.2 235.3 216.2 233.5 216.6 231.5 215.4 224.5 214.2 222.5 210.7 219.4 203.7 215.2 201.7 214.4 195.2 214.8 190.2 216.5 189.2 216.5 188.7 215.8 188.0 212.5 186.8 211.0 184.7 210.0ZM220.2 243.8 224.7 245.3 226.2 245.2 229.2 244.3 230.2 244.4 235.7 249.8 238.7 253.5 239.2 254.5 240.7 260.5 241.5 265.5 241.5 268.0 241.3 270.0 240.7 272.0 239.2 275.5 238.2 276.4 228.2 279.8 226.9 279.5 221.8 277.0 220.7 276.4 219.9 275.5 218.2 269.1 217.0 261.5 217.9 249.0 218.2 248.1 219.4 246.5ZM225.8 249.0 223.6 250.5 222.4 253.0 220.1 267.0 220.2 268.5 220.6 270.0 222.2 271.9 224.2 272.9 229.2 273.1 234.7 274.1 237.2 273.6 238.2 273.0 239.2 271.9 239.8 270.5 240.1 269.0 239.3 261.5 238.4 258.5 235.4 252.5 233.7 250.6 232.2 249.9 228.7 248.8 227.2 248.7Z" fill="#4aaad8"/>
<path d="M182.2 210.0 184.7 210.0 186.8 211.0 188.0 212.5 188.7 215.8 189.2 216.5 190.2 216.5 195.2 214.8 201.7 214.4 203.7 215.2 210.7 219.4 214.2 222.5 215.4 224.5 216.6 231.5 216.2 233.5 215.2 235.3 213.7 236.5 209.7 238.2 208.2 238.6 206.7 238.6 195.7 236.4 188.2 233.4 186.5 232.5 185.2 231.0 184.0 228.0 183.2 224.5 182.9 221.0 179.7 218.9 178.7 217.5 178.2 216.0 178.0 214.0 178.7 212.3 180.0 211.0ZM181.8 211.5 180.7 212.1 179.7 213.5 179.5 215.0 179.7 216.0 180.7 217.5 181.7 218.2 183.2 218.5 184.7 218.3 185.7 217.5 186.4 216.5 186.7 215.0 186.5 213.5 185.7 212.3 184.7 211.6 183.2 211.2ZM199.4 216.0 194.2 216.8 187.2 219.7 185.7 220.8 184.9 222.5 184.9 224.0 185.9 229.0 186.7 230.7 188.4 232.0 195.7 235.0 206.2 237.2 208.7 237.1 213.7 234.7 214.9 233.0 215.2 231.0 214.1 225.0 213.2 223.1 209.7 219.9 203.7 216.3 202.2 215.8ZM226.2 248.9 227.7 248.7 229.2 248.9 232.2 249.9 233.7 250.6 235.4 252.5 238.4 258.5 239.3 261.5 240.1 269.0 239.8 270.5 239.2 271.9 238.2 273.0 237.2 273.6 234.7 274.1 229.2 273.1 224.2 272.9 222.2 271.9 220.6 270.0 220.2 268.5 220.1 267.0 222.4 253.0 222.9 251.5 223.7 250.4 224.7 249.5ZM227.0 250.5 225.1 251.5 224.0 253.5 221.9 266.5 222.1 269.0 223.2 270.5 224.7 271.2 229.7 271.5 234.7 272.4 236.2 272.2 237.8 271.0 238.6 269.0 237.6 261.5 237.0 259.5 234.3 254.0 233.2 252.5 232.2 251.7 229.7 250.8 228.2 250.5Z" fill="#66bf6a"/>
<path d="M182.2 211.4 183.7 211.3 184.7 211.6 185.7 212.3 186.5 213.5 186.7 215.0 186.4 216.5 185.7 217.5 184.7 218.3 183.2 218.5 181.7 218.2 180.7 217.5 179.7 216.0 179.5 214.5 180.0 213.0 180.9 212.0ZM182.1 213.0 181.5 213.5 181.0 214.5 181.4 216.0 182.7 216.8 184.2 216.6 184.8 216.0 185.2 215.0 184.7 213.5 183.7 212.8ZM199.7 216.0 202.2 215.8 204.2 216.6 209.7 219.9 213.5 223.5 214.3 225.5 215.2 231.5 214.7 233.5 213.7 234.7 208.7 237.1 206.2 237.2 195.7 235.0 188.4 232.0 186.7 230.7 185.9 229.0 184.9 224.0 184.9 222.5 185.7 220.8 187.2 219.7 194.2 216.8ZM199.2 217.5 194.7 218.2 188.2 221.0 186.8 222.0 186.4 223.0 186.4 224.5 187.3 228.5 188.0 230.0 189.6 231.0 196.2 233.7 206.7 235.8 208.7 235.6 212.8 233.5 213.7 232.1 213.7 230.5 212.7 225.0 211.4 223.0 208.8 220.5 203.7 217.5 202.2 217.2ZM227.2 250.5 228.7 250.6 230.7 251.2 233.2 252.5 234.3 254.0 237.0 259.5 237.6 261.5 238.6 269.0 237.8 271.0 236.2 272.2 234.7 272.4 229.7 271.5 224.7 271.2 223.2 270.5 222.1 269.0 221.9 266.5 224.0 253.5 224.4 252.5 225.2 251.4ZM227.2 252.0 226.2 252.5 225.4 254.0 223.4 266.5 223.5 268.5 224.2 269.3 225.2 269.8 229.7 270.0 234.2 270.8 235.7 270.7 236.7 269.9 237.1 268.5 236.2 262.0 235.6 260.0 232.2 253.6 229.7 252.4Z" fill="#ecdf42"/>
<path d="M182.2 212.9 183.7 212.8 185.0 214.0 185.1 215.5 184.2 216.6 182.7 216.8 181.7 216.3 181.2 215.6 181.2 214.0ZM199.2 217.5 202.2 217.2 203.7 217.5 208.8 220.5 211.4 223.0 212.7 225.0 213.7 230.5 213.7 232.1 212.8 233.5 208.7 235.6 206.7 235.8 196.2 233.7 189.6 231.0 188.0 230.0 187.3 228.5 186.4 224.5 186.4 223.0 186.8 222.0 188.2 221.0 194.7 218.2ZM199.3 219.0 195.2 219.7 189.7 222.0 188.2 222.9 187.9 224.0 188.1 225.0 188.7 228.0 189.3 229.0 191.0 230.0 196.7 232.3 206.2 234.2 208.2 234.2 211.7 232.3 212.2 231.0 211.2 225.5 208.7 222.1 207.4 221.0 203.7 218.9 202.2 218.7ZM227.7 251.9 230.7 252.7 232.2 253.6 235.6 260.0 236.2 262.0 237.1 268.5 236.7 269.9 235.7 270.7 234.2 270.8 229.7 270.0 225.2 269.8 224.2 269.3 223.5 268.5 223.4 266.5 225.4 254.0 226.2 252.5ZM227.2 254.0 226.7 255.5 225.0 266.0 225.0 267.5 225.3 268.0 226.2 268.3 229.7 268.5 234.2 269.3 235.2 269.0 235.5 267.5 234.5 261.5 231.7 255.5 230.8 254.5 229.7 254.0 228.2 253.6Z" fill="#ef7f22"/>
<path d="M199.7 219.0 202.2 218.7 203.7 218.9 207.4 221.0 209.1 222.5 210.7 224.5 211.4 226.0 212.2 231.0 211.7 232.3 208.2 234.2 206.2 234.2 196.7 232.3 191.0 230.0 189.2 228.9 188.7 228.0 188.0 224.5 188.2 222.9 189.7 222.0 195.2 219.7ZM227.2 254.0 228.2 253.6 229.7 254.0 230.8 254.5 231.7 255.5 234.5 261.5 235.5 267.5 235.2 269.0 234.2 269.3 229.7 268.5 226.2 268.3 225.3 268.0 225.0 267.5 225.0 266.0 226.7 255.5Z" fill="#dd2a18"/>
</g></g>
<clipPath id="clip_B3"><rect x="258.9" y="200.5" width="107.80000000000001" height="107.5"/></clipPath>
<g clip-path="url(#clip_B3)"><g filter="url(#soft)">
<path d="M337.4 215.3h0.7M308.0 230.8h0.7M296.6 220.3h0.7M337.8 219.4h0.7M321.0 211.3h0.7M337.6 221.9h0.7M305.9 229.7h0.7M346.8 223.1h0.7M293.7 224.8h0.7M304.5 223.4h0.7M332.5 223.5h0.7M322.7 209.4h0.7M333.4 217.0h0.7M328.9 220.8h0.7M333.0 221.4h0.7M299.0 224.9h0.7M333.8 228.8h0.7M322.9 234.0h0.7M312.8 215.5h0.7M321.7 226.3h0.7M301.0 223.7h0.7M315.5 219.2h0.7M325.6 213.2h0.7M336.3 212.5h0.7M310.0 226.7h0.7M315.8 220.9h0.7M312.2 231.1h0.7M323.0 217.9h0.7M314.3 235.7h0.7M337.3 222.2h0.7M320.4 233.7h0.7M313.0 229.9h0.7M332.9 228.6h0.7M317.5 227.2h0.7M338.9 216.3h0.7M334.7 221.5h0.7M321.9 221.0h0.7M313.0 229.1h0.7M313.9 213.1h0.7M336.1 219.2h0.7M324.4 235.5h0.7M328.3 222.7h0.7M307.9 227.9h0.7M335.1 216.9h0.7M309.5 218.0h0.7M318.8 233.0h0.7M318.1 212.9h0.7M321.9 215.3h0.7M327.6 217.5h0.7M345.3 220.2h0.7M324.6 224.4h0.7M315.2 235.4h0.7M306.8 209.7h0.7M302.1 229.0h0.7M342.9 229.7h0.7M307.9 221.9h0.7M298.6 219.7h0.7M308.3 234.0h0.7M321.7 215.7h0.7M298.3 229.1h0.7M327.7 226.3h0.7M321.5 208.1h0.7M330.8 220.0h0.7M327.6 211.2h0.7M309.8 225.6h0.7M340.8 219.8h0.7M312.2 225.0h0.7M339.9 213.5h0.7M325.3 225.2h0.7M318.6 218.1h0.7M306.5 219.8h0.7M301.1 217.5h0.7M330.1 228.7h0.7M337.8 230.8h0.7M310.1 222.9h0.7M333.3 225.1h0.7M324.5 230.7h0.7M307.1 211.4h0.7M308.2 230.4h0.7M309.7 228.8h0.7M294.6 225.9h0.7M322.1 214.9h0.7M306.7 218.8h0.7M319.1 212.4h0.7M316.7 210.5h0.7M320.0 223.1h0.7M313.7 221.8h0.7M323.9 222.6h0.7M302.1 214.2h0.7M320.1 227.8h0.7M303.4 222.6h0.7M316.5 213.7h0.7M304.3 214.7h0.7M333.4 228.8h0.7M340.6 217.4h0.7M321.1 228.3h0.7M323.4 232.1h0.7M299.3 222.4h0.7M314.0 220.7h0.7M335.0 210.5h0.7M319.2 219.5h0.7M300.5 222.1h0.7M329.3 233.0h0.7M313.9 211.6h0.7M334.4 216.5h0.7M332.0 230.4h0.7M306.7 218.9h0.7M337.8 220.2h0.7M316.3 231.5h0.7M297.1 222.3h0.7M303.8 218.1h0.7M319.6 222.8h0.7M313.9 211.9h0.7M337.8 232.2h0.7M323.6 216.1h0.7M341.4 225.6h0.7M306.5 224.6h0.7M322.9 208.3h0.7M318.1 229.7h0.7M327.6 211.6h0.7M303.8 227.5h0.7M321.9 218.8h0.7M315.5 221.4h0.7M315.6 226.6h0.7M331.0 215.1h0.7M317.9 215.8h0.7M307.9 230.8h0.7M340.4 213.0h0.7M311.2 234.8h0.7M335.9 227.7h0.7M305.1 228.5h0.7M318.3 208.9h0.7M347.1 221.7h0.7M335.3 222.8h0.7M298.9 220.6h0.7M327.6 213.0h0.7M343.4 225.8h0.7M293.4 220.0h0.7M342.2 215.2h0.7M298.7 215.7h0.7M319.1 219.0h0.7M305.6 221.0h0.7M319.1 227.6h0.7M308.8 234.3h0.7M295.6 226.2h0.7M314.7 214.9h0.7M328.0 229.2h0.7M335.2 214.1h0.7M302.8 213.3h0.7M304.5 214.0h0.7M321.3 216.9h0.7M326.7 235.2h0.7M344.9 218.9h0.7M301.9 214.9h0.7M295.1 215.9h0.7M318.3 211.0h0.7M346.1 219.9h0.7M322.1 216.9h0.7M319.0 208.0h0.7M328.9 217.4h0.7M299.8 221.0h0.7M332.8 226.5h0.7M319.0 233.4h0.7M315.5 233.4h0.7M341.7 227.1h0.7M327.4 226.0h0.7M340.5 219.0h0.7M295.5 228.6h0.7M312.6 217.2h0.7M329.7 209.1h0.7M340.8 230.4h0.7M319.0 218.9h0.7M336.5 215.1h0.7M305.7 220.0h0.7M313.1 213.8h0.7M326.2 223.8h0.7M321.2 213.1h0.7M328.4 228.1h0.7M323.7 224.3h0.7M322.5 220.2h0.7" stroke="#9c9ab0" stroke-width="0.7" stroke-opacity="0.6" fill="none"/>
<path d="M346.9 245.5h0.7M339.9 256.1h0.7M341.2 232.2h0.7M348.0 256.4h0.7M340.7 237.7h0.7M336.7 237.9h0.7M343.2 236.1h0.7M345.8 242.1h0.7M342.5 232.5h0.7M351.1 248.8h0.7M346.3 239.0h0.7M353.0 246.9h0.7M347.8 251.1h0.7M339.8 237.2h0.7M351.4 239.1h0.7M333.7 243.8h0.7M353.7 242.5h0.7M346.5 257.8h0.7M336.6 234.9h0.7M336.1 247.3h0.7M341.0 231.9h0.7M350.5 253.2h0.7M354.8 240.4h0.7M346.1 249.4h0.7M341.0 235.9h0.7M339.6 237.4h0.7M351.6 248.9h0.7M335.9 249.0h0.7M348.9 244.8h0.7M350.7 231.3h0.7M349.5 230.8h0.7M353.5 246.1h0.7M353.2 233.7h0.7M337.8 255.7h0.7M335.1 239.3h0.7M351.8 256.4h0.7M348.1 236.0h0.7M340.1 230.7h0.7M341.5 255.0h0.7M346.8 230.0h0.7M348.2 234.6h0.7M347.8 254.5h0.7M352.8 249.7h0.7M349.1 255.4h0.7M344.4 256.8h0.7M352.3 239.6h0.7M336.7 248.9h0.7M337.9 240.0h0.7M338.5 241.5h0.7M341.5 251.4h0.7M347.6 234.5h0.7M348.7 253.1h0.7M343.9 230.1h0.7M352.1 252.1h0.7M334.5 237.8h0.7M351.2 249.3h0.7M336.5 239.9h0.7M351.8 237.0h0.7M343.0 252.8h0.7M345.7 232.2h0.7M351.8 251.9h0.7M344.4 247.7h0.7M349.3 257.4h0.7M345.0 237.1h0.7M342.7 256.9h0.7M348.2 246.5h0.7M346.2 244.6h0.7M336.9 237.1h0.7M342.9 250.7h0.7M349.0 244.3h0.7M342.9 254.9h0.7M349.3 246.4h0.7M350.0 245.5h0.7M353.4 234.6h0.7M342.6 260.1h0.7M340.5 250.9h0.7M355.1 246.3h0.7M345.3 245.6h0.7M339.1 245.4h0.7M350.2 244.9h0.7" stroke="#9c9ab0" stroke-width="0.7" stroke-opacity="0.6" fill="none"/>
<path d="M268.8 257.4h0.7M279.7 256.6h0.7M276.0 269.3h0.7M267.9 253.4h0.7M274.7 261.8h0.7M274.8 265.4h0.7M271.5 267.8h0.7M271.1 242.7h0.7M272.5 281.7h0.7M276.4 251.7h0.7M272.1 244.5h0.7M275.2 256.6h0.7M273.6 282.8h0.7M274.0 275.2h0.7M273.5 248.3h0.7M272.9 255.0h0.7M271.4 243.7h0.7M275.9 251.3h0.7M268.9 247.1h0.7M267.5 246.5h0.7M276.5 243.8h0.7M267.5 280.4h0.7M273.7 269.5h0.7M270.5 254.5h0.7M267.6 271.3h0.7M268.8 271.7h0.7M263.4 263.5h0.7M266.4 264.8h0.7M263.1 261.8h0.7M270.4 240.8h0.7M268.3 260.0h0.7M272.3 254.1h0.7M274.8 273.0h0.7M269.4 266.6h0.7M279.5 270.3h0.7M270.7 273.3h0.7M275.1 257.1h0.7M275.9 259.7h0.7M263.6 257.8h0.7M277.5 279.0h0.7M274.4 271.2h0.7M272.2 241.5h0.7M274.8 242.1h0.7M264.2 262.1h0.7M274.0 244.2h0.7M274.6 272.6h0.7M279.6 259.8h0.7M273.3 250.4h0.7M269.6 251.1h0.7M273.3 243.4h0.7M266.9 247.3h0.7M268.3 259.5h0.7M270.0 259.7h0.7M277.4 258.7h0.7M272.4 261.1h0.7M267.6 266.0h0.7M273.4 270.6h0.7M264.9 262.0h0.7M265.1 255.0h0.7M274.8 269.3h0.7M270.6 276.5h0.7M278.4 249.0h0.7M279.5 266.4h0.7M280.0 254.7h0.7M278.1 255.0h0.7M275.5 272.7h0.7M277.9 267.6h0.7M276.0 265.3h0.7M265.0 270.6h0.7M269.9 268.9h0.7M271.1 275.1h0.7M276.1 278.9h0.7M274.0 283.2h0.7M268.0 264.6h0.7M264.4 268.6h0.7M278.4 272.9h0.7M275.8 279.1h0.7M273.2 249.6h0.7M272.5 276.0h0.7M268.6 258.2h0.7" stroke="#9c9ab0" stroke-width="0.7" stroke-opacity="0.6" fill="none"/>
<path d="M276.9 221.9 278.4 222.0 286.1 223.5 299.6 227.0 310.0 231.0 321.2 236.5 328.4 241.2 336.9 245.5 344.0 250.0 345.4 251.2 350.5 257.0 351.9 259.6 354.4 267.5 353.7 273.0 352.9 274.8 349.0 279.5 342.4 281.9 336.9 284.7 331.3 291.0 326.4 294.0 324.9 294.2 318.9 293.5 310.9 294.4 305.4 294.4 303.9 294.3 302.9 293.9 300.0 291.0 299.3 290.0 299.2 289.0 299.7 286.0 299.3 284.5 292.9 280.2 286.0 275.0 284.9 273.8 279.0 264.0 274.4 254.4 270.9 242.4 269.3 235.0 269.2 233.0 270.4 225.5 271.9 224.2ZM276.8 223.0 271.9 225.5 271.0 227.0 270.2 234.0 271.9 241.8 272.9 244.1 276.5 250.0 280.2 254.0 280.3 254.5 279.7 256.5 279.7 262.0 280.4 264.0 281.9 266.5 286.3 273.5 294.8 280.0 296.4 280.9 297.4 280.7 300.0 275.5 299.7 274.0 295.6 267.0 295.8 266.0 296.4 265.5 298.4 264.5 298.9 264.9 299.5 268.0 301.4 271.3 303.0 275.0 304.0 276.0 305.4 276.8 307.9 276.9 309.4 276.4 310.4 275.7 311.8 273.5 312.0 271.5 310.8 266.0 310.9 265.0 311.4 264.5 318.9 263.5 326.4 260.3 328.3 259.0 328.8 258.0 329.7 253.0 329.8 249.5 329.0 248.0 327.8 246.5 322.9 242.5 308.9 235.3 293.9 229.0 286.4 224.8 278.9 223.1ZM338.8 259.0 337.4 260.1 336.8 262.0 337.1 263.5 338.4 265.5 340.4 262.8 342.4 262.1 343.9 262.4 344.1 262.0 342.6 260.0 341.4 259.1 339.9 258.8ZM344.2 262.5 344.4 262.5 344.4 262.5 344.4 262.5ZM341.8 263.0 340.4 263.7 339.2 265.5 338.5 268.5 338.9 271.0 339.4 272.0 340.4 273.5 342.4 274.4 344.9 273.4 346.1 271.5 346.7 268.5 346.2 266.0 344.9 263.8 342.9 262.8ZM347.3 267.0 347.3 269.0 346.8 271.5 344.9 274.5 346.9 275.2 348.4 274.9 349.4 274.2 350.1 273.0 350.2 272.0 349.6 270.0 347.4 266.8ZM321.0 268.0 319.4 268.4 317.4 269.4 316.1 270.5 315.0 272.0 314.0 275.0 313.9 281.0 314.2 283.0 314.7 284.5 316.4 286.8 317.9 288.0 319.4 288.6 322.4 289.1 324.4 288.7 326.4 287.8 327.9 286.5 329.0 285.0 330.0 282.0 330.1 275.5 329.7 273.5 329.0 272.0 326.9 269.6 323.9 268.2ZM304.7 288.5 304.0 290.0 304.4 291.1 304.9 291.6 305.9 292.0 307.3 291.5 308.0 290.0 307.4 288.6 305.9 288.0Z" fill="#2b2287"/>
<path d="M276.9 223.0 278.9 223.1 286.4 224.8 293.9 229.0 308.9 235.3 322.9 242.5 327.8 246.5 329.0 248.0 329.8 249.5 329.7 253.0 328.8 258.0 328.3 259.0 326.4 260.3 318.9 263.5 311.4 264.5 310.9 265.0 310.8 266.0 312.0 271.5 311.8 273.5 310.4 275.7 309.4 276.4 307.9 276.9 305.4 276.8 304.0 276.0 303.0 275.0 301.4 271.3 299.5 268.0 298.9 264.9 298.4 264.5 296.4 265.5 295.8 266.0 295.6 267.0 299.7 274.0 300.0 275.5 297.4 280.7 296.4 280.9 294.8 280.0 286.3 273.5 281.9 266.5 280.4 264.0 279.7 262.0 279.7 256.5 280.3 254.5 280.2 254.0 276.5 250.0 272.9 244.1 271.9 241.8 270.2 234.0 271.2 226.5 272.4 225.1ZM277.2 224.0 273.0 226.0 272.4 226.5 271.9 227.9 271.2 233.0 271.3 234.5 272.4 239.5 273.7 242.5 278.4 249.8 281.8 253.0 287.4 257.6 291.5 260.5 293.4 263.6 294.4 264.1 295.4 264.0 298.4 262.4 299.4 262.5 300.0 263.0 300.5 264.0 300.6 266.5 300.9 267.7 302.9 271.0 303.9 273.5 305.3 275.0 306.9 275.4 308.4 275.1 309.4 274.5 310.3 273.0 310.4 271.5 309.2 264.5 309.4 263.6 309.9 263.1 311.4 262.6 318.1 262.0 325.1 259.0 326.9 257.9 328.4 252.5 328.4 249.9 327.7 248.5 326.4 247.1 322.4 244.2 312.9 239.3 308.9 236.9 297.4 232.3 292.9 230.2 285.2 225.5 278.9 224.1ZM338.9 259.0 340.4 258.8 341.4 259.1 342.6 260.0 344.1 262.0 343.9 262.4 342.4 262.1 340.4 262.8 338.4 265.5 337.1 263.5 336.8 262.0 337.4 260.1ZM344.4 262.5 344.4 262.5 344.2 262.5ZM347.4 266.8 349.6 270.0 350.2 272.0 350.1 273.0 349.4 274.2 348.4 274.9 346.9 275.2 344.9 274.5 346.8 271.5ZM321.4 267.9 324.4 268.3 325.9 268.9 327.4 270.0 329.3 272.5 329.8 274.0 330.1 276.0 330.0 282.0 329.0 285.0 327.9 286.5 326.4 287.8 324.4 288.7 322.4 289.1 319.4 288.6 317.9 288.0 316.4 286.8 314.5 284.0 313.8 280.5 314.0 275.0 315.0 272.0 316.1 270.5 317.4 269.4 319.4 268.4ZM321.2 269.5 318.4 270.5 317.2 271.5 316.2 273.0 315.4 275.5 315.2 280.5 315.9 283.5 317.4 285.7 319.9 287.2 322.4 287.5 323.9 287.3 325.6 286.5 326.9 285.3 327.8 284.0 328.5 281.5 328.6 276.0 328.1 273.5 326.4 271.1 323.9 269.7ZM304.9 288.4 306.4 288.1 307.7 289.0 307.9 290.5 306.9 291.8 305.4 291.9 304.3 291.0 304.1 289.5Z" fill="#3553bb"/>
<path d="M277.4 224.0 285.2 225.5 292.9 230.2 297.4 232.3 308.9 236.9 312.9 239.3 322.4 244.2 326.4 247.1 327.7 248.5 328.4 249.9 328.4 252.5 326.9 257.9 325.1 259.0 318.1 262.0 311.4 262.6 309.9 263.1 309.4 263.6 309.2 264.5 310.4 271.5 310.1 273.5 309.4 274.5 307.9 275.3 306.4 275.4 304.9 274.7 303.9 273.5 302.9 271.0 300.8 267.5 300.5 264.0 300.0 263.0 299.4 262.5 298.4 262.4 295.4 264.0 294.4 264.1 293.4 263.6 291.5 260.5 287.4 257.6 281.8 253.0 278.4 249.8 273.5 242.0 272.4 239.5 271.2 234.0 272.0 227.5 272.4 226.5 273.0 226.0 275.9 224.5ZM276.0 225.5 273.9 226.6 273.1 227.5 272.3 232.5 272.3 234.5 273.5 239.0 278.9 248.0 282.0 251.0 289.9 257.3 294.9 260.1 298.9 260.5 302.9 261.8 303.1 262.0 302.4 263.4 301.9 265.5 302.4 267.5 303.4 268.7 304.4 269.2 305.4 269.1 306.4 268.6 307.1 268.0 307.6 267.0 307.4 264.6 306.4 262.6 304.4 261.5 304.7 261.0 307.7 258.5 309.9 257.2 310.5 256.5 311.7 254.0 312.6 248.5 312.6 247.0 312.0 245.0 309.2 239.5 308.4 238.7 306.4 237.7 295.9 234.3 284.4 226.4 278.4 225.1 277.4 225.0ZM321.9 247.0 320.4 247.6 319.1 249.0 318.6 250.5 318.6 252.0 319.2 253.5 320.4 254.8 321.9 255.4 323.9 255.4 325.4 254.6 326.4 253.5 326.9 252.0 327.0 250.5 326.3 249.0 324.9 247.6 323.4 247.0ZM321.4 269.5 323.9 269.7 326.4 271.1 328.1 273.5 328.6 276.0 328.5 281.5 327.8 284.0 326.9 285.3 325.6 286.5 323.9 287.3 322.4 287.5 319.4 287.0 317.2 285.5 315.7 283.0 315.2 280.0 315.4 275.5 316.4 272.6 318.4 270.5 319.9 269.8ZM321.4 271.0 318.9 272.0 317.6 273.5 316.7 276.0 316.4 279.5 316.9 282.2 318.3 284.5 319.9 285.6 322.4 286.0 324.9 285.1 325.9 284.2 326.6 283.0 327.1 281.0 327.1 276.0 326.6 274.0 325.4 272.3 323.4 271.2Z" fill="#4aaad8"/>
<path d="M276.4 225.3 278.4 225.1 284.4 226.4 295.9 234.3 306.4 237.7 308.4 238.7 309.2 239.5 312.0 245.0 312.6 247.0 312.6 248.5 311.7 254.0 310.5 256.5 309.9 257.2 307.7 258.5 304.7 261.0 304.4 261.5 306.4 262.6 307.4 264.6 307.6 267.0 307.1 268.0 306.4 268.6 305.4 269.1 304.4 269.2 303.4 268.7 302.4 267.5 301.9 265.5 302.4 263.4 303.1 262.0 302.9 261.8 298.9 260.5 294.9 260.1 289.9 257.3 282.0 251.0 278.9 248.0 273.5 239.0 272.3 234.0 273.1 227.5 274.1 226.5ZM276.3 226.5 274.4 227.7 273.8 229.0 273.3 233.5 273.5 235.0 274.2 237.0 276.4 239.8 280.4 243.6 282.9 244.7 286.9 245.1 287.5 246.5 287.6 250.5 288.0 252.0 288.9 253.5 291.0 255.5 293.4 257.3 294.9 258.1 300.9 259.0 303.9 258.5 309.0 255.5 309.7 254.5 310.2 253.0 310.9 247.0 309.9 244.4 307.9 241.2 306.9 240.1 304.9 239.1 298.4 237.0 292.9 237.4 292.0 236.5 291.2 234.5 290.2 233.0 283.9 227.5 282.4 226.9 278.4 226.1ZM322.4 246.9 323.9 247.1 325.4 248.0 326.4 249.1 327.0 250.5 326.8 252.5 326.0 254.0 324.9 254.9 323.4 255.5 321.4 255.3 320.1 254.5 318.9 253.0 318.5 251.5 318.7 250.0 319.5 248.5 320.9 247.3ZM322.2 249.0 320.8 250.0 320.5 251.0 320.7 252.0 321.9 253.3 323.4 253.4 324.4 252.8 324.9 252.1 325.0 250.5 323.9 249.2ZM321.4 271.0 323.4 271.2 325.4 272.3 326.6 274.0 327.1 276.0 327.1 281.0 326.6 283.0 325.9 284.2 324.9 285.1 322.4 286.0 319.9 285.6 318.3 284.5 316.9 282.2 316.4 279.5 316.7 276.0 317.6 273.5 318.9 272.0ZM319.2 276.0 318.3 277.0 317.8 278.5 317.9 280.0 318.4 281.2 319.4 282.1 320.4 282.4 321.9 282.4 322.9 281.9 323.9 281.0 324.5 279.5 324.4 278.0 323.9 277.1 322.9 276.1 321.9 275.6 320.4 275.6Z" fill="#66bf6a"/>
<path d="M276.4 226.4 278.4 226.1 282.4 226.9 283.9 227.5 290.2 233.0 291.2 234.5 292.0 236.5 292.9 237.4 298.4 237.0 304.9 239.1 306.9 240.1 307.9 241.2 309.9 244.4 310.9 247.0 310.2 253.0 309.7 254.5 309.0 255.5 303.9 258.5 300.9 259.0 294.9 258.1 293.4 257.3 291.0 255.5 288.9 253.5 288.0 252.0 287.6 250.5 287.5 246.5 286.9 245.1 282.9 244.7 280.4 243.6 276.4 239.8 274.2 237.0 273.5 235.0 273.3 233.5 273.8 229.0 274.6 227.5ZM276.6 227.5 275.4 228.2 274.7 229.5 274.3 233.5 274.9 235.4 280.4 241.0 282.4 242.4 284.9 242.9 288.9 242.0 289.4 242.9 289.6 244.0 289.7 250.0 290.1 251.5 294.4 256.0 296.4 256.8 302.4 257.2 304.9 256.1 308.0 254.0 308.8 252.0 309.1 246.5 308.3 245.0 305.4 241.3 303.9 240.6 298.4 238.8 291.9 240.0 290.4 239.8 289.7 236.0 288.9 234.5 283.6 229.0 282.2 228.0 280.5 227.5 277.9 227.1ZM322.4 248.9 323.9 249.2 325.0 250.5 324.9 252.1 324.4 252.8 323.4 253.4 322.4 253.5 321.4 253.0 320.5 251.5 320.9 249.9ZM319.4 275.9 320.4 275.6 321.9 275.6 323.4 276.5 324.2 277.5 324.5 279.0 324.2 280.5 323.4 281.5 322.4 282.2 321.4 282.5 319.9 282.3 318.9 281.8 318.0 280.5 317.8 279.5 317.9 277.9 318.4 276.8ZM320.8 277.5 319.8 278.0 319.6 278.5 319.6 279.5 320.4 280.4 321.4 280.5 322.4 279.6 322.4 278.5 321.9 277.8Z" fill="#ecdf42"/>
<path d="M276.9 227.4 278.4 227.1 280.9 227.6 282.4 228.1 283.6 229.0 288.9 234.5 289.7 236.0 290.4 239.8 291.9 240.0 298.4 238.8 303.9 240.6 305.4 241.3 308.3 245.0 309.1 246.5 308.8 252.0 308.0 254.0 304.1 256.5 301.9 257.3 295.9 256.7 293.9 255.6 290.8 252.5 289.9 251.0 289.6 244.0 289.4 242.9 288.9 242.0 284.9 242.9 282.4 242.4 280.4 241.0 274.9 235.4 274.3 233.5 274.7 229.5 275.4 228.2ZM277.3 228.5 276.4 229.0 275.9 230.0 275.5 233.0 276.0 234.5 281.4 239.9 282.9 241.0 284.9 241.3 287.0 240.5 287.9 239.5 288.3 238.0 288.2 236.5 287.4 234.9 281.4 229.1 278.9 228.4ZM297.3 240.5 292.9 241.6 291.9 242.0 291.5 242.5 291.3 244.0 291.5 250.5 292.5 252.0 295.9 255.0 300.4 255.6 302.4 255.5 306.1 253.5 307.0 252.5 307.6 248.5 307.4 246.6 305.4 243.7 304.2 242.5 298.9 240.6ZM320.9 277.5 322.1 278.0 322.5 279.0 322.1 280.0 320.9 280.5 319.9 280.1 319.5 279.0 319.9 277.9Z" fill="#ef7f22"/>
<path d="M277.4 228.4 279.4 228.5 281.4 229.1 287.4 234.9 288.2 236.5 288.3 238.0 287.9 239.5 287.0 240.5 284.9 241.3 282.9 241.0 281.4 239.9 276.0 234.5 275.5 233.0 275.9 230.0 276.4 229.0ZM297.4 240.5 299.4 240.7 304.2 242.5 305.4 243.7 307.4 246.6 307.6 248.5 307.0 252.5 306.1 253.5 302.4 255.5 300.4 255.6 295.9 255.0 292.5 252.0 291.5 250.5 291.3 244.0 291.5 242.5 291.9 242.0 292.9 241.6Z" fill="#dd2a18"/>
</g></g>
<rect x="30.90" y="34.20" width="108.00" height="107.60" fill="none" stroke="#111" stroke-width="1.3"/>
<line x1="27.60" y1="40.80" x2="30.90" y2="40.80" stroke="#111" stroke-width="1"/>
<line x1="27.60" y1="56.05" x2="30.90" y2="56.05" stroke="#111" stroke-width="1"/>
<line x1="27.60" y1="71.30" x2="30.90" y2="71.30" stroke="#111" stroke-width="1"/>
<line x1="27.60" y1="86.55" x2="30.90" y2="86.55" stroke="#111" stroke-width="1"/>
<line x1="27.60" y1="101.80" x2="30.90" y2="101.80" stroke="#111" stroke-width="1"/>
<line x1="27.60" y1="117.05" x2="30.90" y2="117.05" stroke="#111" stroke-width="1"/>
<line x1="27.60" y1="132.30" x2="30.90" y2="132.30" stroke="#111" stroke-width="1"/>
<line x1="37.30" y1="141.80" x2="37.30" y2="145.00" stroke="#111" stroke-width="1"/>
<line x1="53.10" y1="141.80" x2="53.10" y2="145.00" stroke="#111" stroke-width="1"/>
<line x1="68.90" y1="141.80" x2="68.90" y2="145.00" stroke="#111" stroke-width="1"/>
<line x1="84.70" y1="141.80" x2="84.70" y2="145.00" stroke="#111" stroke-width="1"/>
<line x1="100.50" y1="141.80" x2="100.50" y2="145.00" stroke="#111" stroke-width="1"/>
<line x1="116.30" y1="141.80" x2="116.30" y2="145.00" stroke="#111" stroke-width="1"/>
<line x1="132.10" y1="141.80" x2="132.10" y2="145.00" stroke="#111" stroke-width="1"/>
<rect x="144.70" y="34.20" width="108.20" height="107.60" fill="none" stroke="#111" stroke-width="1.3"/>
<line x1="141.40" y1="40.80" x2="144.70" y2="40.80" stroke="#111" stroke-width="1"/>
<line x1="141.40" y1="56.05" x2="144.70" y2="56.05" stroke="#111" stroke-width="1"/>
<line x1="141.40" y1="71.30" x2="144.70" y2="71.30" stroke="#111" stroke-width="1"/>
<line x1="141.40" y1="86.55" x2="144.70" y2="86.55" stroke="#111" stroke-width="1"/>
<line x1="141.40" y1="101.80" x2="144.70" y2="101.80" stroke="#111" stroke-width="1"/>
<line x1="141.40" y1="117.05" x2="144.70" y2="117.05" stroke="#111" stroke-width="1"/>
<line x1="141.40" y1="132.30" x2="144.70" y2="132.30" stroke="#111" stroke-width="1"/>
<line x1="151.10" y1="141.80" x2="151.10" y2="145.00" stroke="#111" stroke-width="1"/>
<line x1="166.90" y1="141.80" x2="166.90" y2="145.00" stroke="#111" stroke-width="1"/>
<line x1="182.70" y1="141.80" x2="182.70" y2="145.00" stroke="#111" stroke-width="1"/>
<line x1="198.50" y1="141.80" x2="198.50" y2="145.00" stroke="#111" stroke-width="1"/>
<line x1="214.30" y1="141.80" x2="214.30" y2="145.00" stroke="#111" stroke-width="1"/>
<line x1="230.10" y1="141.80" x2="230.10" y2="145.00" stroke="#111" stroke-width="1"/>
<line x1="245.90" y1="141.80" x2="245.90" y2="145.00" stroke="#111" stroke-width="1"/>
<rect x="258.90" y="34.20" width="108.00" height="107.60" fill="none" stroke="#111" stroke-width="1.3"/>
<line x1="255.60" y1="40.80" x2="258.90" y2="40.80" stroke="#111" stroke-width="1"/>
<line x1="255.60" y1="56.05" x2="258.90" y2="56.05" stroke="#111" stroke-width="1"/>
<line x1="255.60" y1="71.30" x2="258.90" y2="71.30" stroke="#111" stroke-width="1"/>
<line x1="255.60" y1="86.55" x2="258.90" y2="86.55" stroke="#111" stroke-width="1"/>
<line x1="255.60" y1="101.80" x2="258.90" y2="101.80" stroke="#111" stroke-width="1"/>
<line x1="255.60" y1="117.05" x2="258.90" y2="117.05" stroke="#111" stroke-width="1"/>
<line x1="255.60" y1="132.30" x2="258.90" y2="132.30" stroke="#111" stroke-width="1"/>
<line x1="265.30" y1="141.80" x2="265.30" y2="145.00" stroke="#111" stroke-width="1"/>
<line x1="281.10" y1="141.80" x2="281.10" y2="145.00" stroke="#111" stroke-width="1"/>
<line x1="296.90" y1="141.80" x2="296.90" y2="145.00" stroke="#111" stroke-width="1"/>
<line x1="312.70" y1="141.80" x2="312.70" y2="145.00" stroke="#111" stroke-width="1"/>
<line x1="328.50" y1="141.80" x2="328.50" y2="145.00" stroke="#111" stroke-width="1"/>
<line x1="344.30" y1="141.80" x2="344.30" y2="145.00" stroke="#111" stroke-width="1"/>
<line x1="360.10" y1="141.80" x2="360.10" y2="145.00" stroke="#111" stroke-width="1"/>
<rect x="30.90" y="200.50" width="108.00" height="107.50" fill="none" stroke="#111" stroke-width="1.3"/>
<line x1="27.90" y1="208.00" x2="30.90" y2="208.00" stroke="#111" stroke-width="0.9"/>
<line x1="27.90" y1="217.25" x2="30.90" y2="217.25" stroke="#111" stroke-width="0.9"/>
<line x1="27.90" y1="226.50" x2="30.90" y2="226.50" stroke="#111" stroke-width="0.9"/>
<line x1="27.90" y1="235.75" x2="30.90" y2="235.75" stroke="#111" stroke-width="0.9"/>
<line x1="27.90" y1="245.00" x2="30.90" y2="245.00" stroke="#111" stroke-width="0.9"/>
<line x1="27.90" y1="254.25" x2="30.90" y2="254.25" stroke="#111" stroke-width="0.9"/>
<line x1="27.90" y1="263.50" x2="30.90" y2="263.50" stroke="#111" stroke-width="0.9"/>
<line x1="27.90" y1="272.75" x2="30.90" y2="272.75" stroke="#111" stroke-width="0.9"/>
<line x1="27.90" y1="282.00" x2="30.90" y2="282.00" stroke="#111" stroke-width="0.9"/>
<line x1="27.90" y1="291.25" x2="30.90" y2="291.25" stroke="#111" stroke-width="0.9"/>
<line x1="27.90" y1="300.50" x2="30.90" y2="300.50" stroke="#111" stroke-width="0.9"/>
<line x1="31.20" y1="308.00" x2="31.20" y2="311.00" stroke="#111" stroke-width="0.9"/>
<line x1="39.85" y1="308.00" x2="39.85" y2="311.00" stroke="#111" stroke-width="0.9"/>
<line x1="48.50" y1="308.00" x2="48.50" y2="311.00" stroke="#111" stroke-width="0.9"/>
<line x1="57.15" y1="308.00" x2="57.15" y2="311.00" stroke="#111" stroke-width="0.9"/>
<line x1="65.80" y1="308.00" x2="65.80" y2="311.00" stroke="#111" stroke-width="0.9"/>
<line x1="74.45" y1="308.00" x2="74.45" y2="311.00" stroke="#111" stroke-width="0.9"/>
<line x1="83.10" y1="308.00" x2="83.10" y2="311.00" stroke="#111" stroke-width="0.9"/>
<line x1="91.75" y1="308.00" x2="91.75" y2="311.00" stroke="#111" stroke-width="0.9"/>
<line x1="100.40" y1="308.00" x2="100.40" y2="311.00" stroke="#111" stroke-width="0.9"/>
<line x1="109.05" y1="308.00" x2="109.05" y2="311.00" stroke="#111" stroke-width="0.9"/>
<line x1="117.70" y1="308.00" x2="117.70" y2="311.00" stroke="#111" stroke-width="0.9"/>
<line x1="126.35" y1="308.00" x2="126.35" y2="311.00" stroke="#111" stroke-width="0.9"/>
<line x1="135.00" y1="308.00" x2="135.00" y2="311.00" stroke="#111" stroke-width="0.9"/>
<rect x="144.70" y="200.50" width="108.20" height="107.50" fill="none" stroke="#111" stroke-width="1.3"/>
<line x1="141.70" y1="208.00" x2="144.70" y2="208.00" stroke="#111" stroke-width="0.9"/>
<line x1="141.70" y1="217.25" x2="144.70" y2="217.25" stroke="#111" stroke-width="0.9"/>
<line x1="141.70" y1="226.50" x2="144.70" y2="226.50" stroke="#111" stroke-width="0.9"/>
<line x1="141.70" y1="235.75" x2="144.70" y2="235.75" stroke="#111" stroke-width="0.9"/>
<line x1="141.70" y1="245.00" x2="144.70" y2="245.00" stroke="#111" stroke-width="0.9"/>
<line x1="141.70" y1="254.25" x2="144.70" y2="254.25" stroke="#111" stroke-width="0.9"/>
<line x1="141.70" y1="263.50" x2="144.70" y2="263.50" stroke="#111" stroke-width="0.9"/>
<line x1="141.70" y1="272.75" x2="144.70" y2="272.75" stroke="#111" stroke-width="0.9"/>
<line x1="141.70" y1="282.00" x2="144.70" y2="282.00" stroke="#111" stroke-width="0.9"/>
<line x1="141.70" y1="291.25" x2="144.70" y2="291.25" stroke="#111" stroke-width="0.9"/>
<line x1="141.70" y1="300.50" x2="144.70" y2="300.50" stroke="#111" stroke-width="0.9"/>
<line x1="145.00" y1="308.00" x2="145.00" y2="311.00" stroke="#111" stroke-width="0.9"/>
<line x1="153.65" y1="308.00" x2="153.65" y2="311.00" stroke="#111" stroke-width="0.9"/>
<line x1="162.30" y1="308.00" x2="162.30" y2="311.00" stroke="#111" stroke-width="0.9"/>
<line x1="170.95" y1="308.00" x2="170.95" y2="311.00" stroke="#111" stroke-width="0.9"/>
<line x1="179.60" y1="308.00" x2="179.60" y2="311.00" stroke="#111" stroke-width="0.9"/>
<line x1="188.25" y1="308.00" x2="188.25" y2="311.00" stroke="#111" stroke-width="0.9"/>
<line x1="196.90" y1="308.00" x2="196.90" y2="311.00" stroke="#111" stroke-width="0.9"/>
<line x1="205.55" y1="308.00" x2="205.55" y2="311.00" stroke="#111" stroke-width="0.9"/>
<line x1="214.20" y1="308.00" x2="214.20" y2="311.00" stroke="#111" stroke-width="0.9"/>
<line x1="222.85" y1="308.00" x2="222.85" y2="311.00" stroke="#111" stroke-width="0.9"/>
<line x1="231.50" y1="308.00" x2="231.50" y2="311.00" stroke="#111" stroke-width="0.9"/>
<line x1="240.15" y1="308.00" x2="240.15" y2="311.00" stroke="#111" stroke-width="0.9"/>
<line x1="248.80" y1="308.00" x2="248.80" y2="311.00" stroke="#111" stroke-width="0.9"/>
<rect x="258.90" y="200.50" width="107.80" height="107.50" fill="none" stroke="#111" stroke-width="1.3"/>
<line x1="255.90" y1="208.00" x2="258.90" y2="208.00" stroke="#111" stroke-width="0.9"/>
<line x1="255.90" y1="217.25" x2="258.90" y2="217.25" stroke="#111" stroke-width="0.9"/>
<line x1="255.90" y1="226.50" x2="258.90" y2="226.50" stroke="#111" stroke-width="0.9"/>
<line x1="255.90" y1="235.75" x2="258.90" y2="235.75" stroke="#111" stroke-width="0.9"/>
<line x1="255.90" y1="245.00" x2="258.90" y2="245.00" stroke="#111" stroke-width="0.9"/>
<line x1="255.90" y1="254.25" x2="258.90" y2="254.25" stroke="#111" stroke-width="0.9"/>
<line x1="255.90" y1="263.50" x2="258.90" y2="263.50" stroke="#111" stroke-width="0.9"/>
<line x1="255.90" y1="272.75" x2="258.90" y2="272.75" stroke="#111" stroke-width="0.9"/>
<line x1="255.90" y1="282.00" x2="258.90" y2="282.00" stroke="#111" stroke-width="0.9"/>
<line x1="255.90" y1="291.25" x2="258.90" y2="291.25" stroke="#111" stroke-width="0.9"/>
<line x1="255.90" y1="300.50" x2="258.90" y2="300.50" stroke="#111" stroke-width="0.9"/>
<line x1="259.20" y1="308.00" x2="259.20" y2="311.00" stroke="#111" stroke-width="0.9"/>
<line x1="267.85" y1="308.00" x2="267.85" y2="311.00" stroke="#111" stroke-width="0.9"/>
<line x1="276.50" y1="308.00" x2="276.50" y2="311.00" stroke="#111" stroke-width="0.9"/>
<line x1="285.15" y1="308.00" x2="285.15" y2="311.00" stroke="#111" stroke-width="0.9"/>
<line x1="293.80" y1="308.00" x2="293.80" y2="311.00" stroke="#111" stroke-width="0.9"/>
<line x1="302.45" y1="308.00" x2="302.45" y2="311.00" stroke="#111" stroke-width="0.9"/>
<line x1="311.10" y1="308.00" x2="311.10" y2="311.00" stroke="#111" stroke-width="0.9"/>
<line x1="319.75" y1="308.00" x2="319.75" y2="311.00" stroke="#111" stroke-width="0.9"/>
<line x1="328.40" y1="308.00" x2="328.40" y2="311.00" stroke="#111" stroke-width="0.9"/>
<line x1="337.05" y1="308.00" x2="337.05" y2="311.00" stroke="#111" stroke-width="0.9"/>
<line x1="345.70" y1="308.00" x2="345.70" y2="311.00" stroke="#111" stroke-width="0.9"/>
<line x1="354.35" y1="308.00" x2="354.35" y2="311.00" stroke="#111" stroke-width="0.9"/>
<line x1="363.00" y1="308.00" x2="363.00" y2="311.00" stroke="#111" stroke-width="0.9"/>
<rect x="373.00" y="200.50" width="107.40" height="107.50" fill="none" stroke="#111" stroke-width="1.3"/>
<line x1="370.00" y1="208.00" x2="373.00" y2="208.00" stroke="#111" stroke-width="0.9"/>
<line x1="370.00" y1="217.25" x2="373.00" y2="217.25" stroke="#111" stroke-width="0.9"/>
<line x1="370.00" y1="226.50" x2="373.00" y2="226.50" stroke="#111" stroke-width="0.9"/>
<line x1="370.00" y1="235.75" x2="373.00" y2="235.75" stroke="#111" stroke-width="0.9"/>
<line x1="370.00" y1="245.00" x2="373.00" y2="245.00" stroke="#111" stroke-width="0.9"/>
<line x1="370.00" y1="254.25" x2="373.00" y2="254.25" stroke="#111" stroke-width="0.9"/>
<line x1="370.00" y1="263.50" x2="373.00" y2="263.50" stroke="#111" stroke-width="0.9"/>
<line x1="370.00" y1="272.75" x2="373.00" y2="272.75" stroke="#111" stroke-width="0.9"/>
<line x1="370.00" y1="282.00" x2="373.00" y2="282.00" stroke="#111" stroke-width="0.9"/>
<line x1="370.00" y1="291.25" x2="373.00" y2="291.25" stroke="#111" stroke-width="0.9"/>
<line x1="370.00" y1="300.50" x2="373.00" y2="300.50" stroke="#111" stroke-width="0.9"/>
<line x1="373.30" y1="308.00" x2="373.30" y2="311.00" stroke="#111" stroke-width="0.9"/>
<line x1="381.95" y1="308.00" x2="381.95" y2="311.00" stroke="#111" stroke-width="0.9"/>
<line x1="390.60" y1="308.00" x2="390.60" y2="311.00" stroke="#111" stroke-width="0.9"/>
<line x1="399.25" y1="308.00" x2="399.25" y2="311.00" stroke="#111" stroke-width="0.9"/>
<line x1="407.90" y1="308.00" x2="407.90" y2="311.00" stroke="#111" stroke-width="0.9"/>
<line x1="416.55" y1="308.00" x2="416.55" y2="311.00" stroke="#111" stroke-width="0.9"/>
<line x1="425.20" y1="308.00" x2="425.20" y2="311.00" stroke="#111" stroke-width="0.9"/>
<line x1="433.85" y1="308.00" x2="433.85" y2="311.00" stroke="#111" stroke-width="0.9"/>
<line x1="442.50" y1="308.00" x2="442.50" y2="311.00" stroke="#111" stroke-width="0.9"/>
<line x1="451.15" y1="308.00" x2="451.15" y2="311.00" stroke="#111" stroke-width="0.9"/>
<line x1="459.80" y1="308.00" x2="459.80" y2="311.00" stroke="#111" stroke-width="0.9"/>
<line x1="468.45" y1="308.00" x2="468.45" y2="311.00" stroke="#111" stroke-width="0.9"/>
<line x1="477.10" y1="308.00" x2="477.10" y2="311.00" stroke="#111" stroke-width="0.9"/>
<text x="42.7" y="29.0" font-size="9" fill="#2a2a2a" stroke="#2a2a2a" stroke-width="0.22" text-anchor="start" textLength="83.1" lengthAdjust="spacingAndGlyphs">PBMC Pre ALT-803</text>
<text x="161.3" y="29.0" font-size="9" fill="#2a2a2a" stroke="#2a2a2a" stroke-width="0.22" text-anchor="start" textLength="75.7" lengthAdjust="spacingAndGlyphs">PBMC Post Day 5</text>
<text x="275.0" y="29.0" font-size="9" fill="#2a2a2a" stroke="#2a2a2a" stroke-width="0.22" text-anchor="start" textLength="75.0" lengthAdjust="spacingAndGlyphs">PBMC Post Day 7</text>
<text x="37.5" y="194.3" font-size="9" fill="#2a2a2a" stroke="#2a2a2a" stroke-width="0.22" text-anchor="start" textLength="93.5" lengthAdjust="spacingAndGlyphs">NK Cells Pre ALT-803</text>
<text x="155.0" y="194.3" font-size="9" fill="#2a2a2a" stroke="#2a2a2a" stroke-width="0.22" text-anchor="start" textLength="87.5" lengthAdjust="spacingAndGlyphs">NK Cells Post Day 5</text>
<text x="269.0" y="194.3" font-size="9" fill="#2a2a2a" stroke="#2a2a2a" stroke-width="0.22" text-anchor="start" textLength="87.0" lengthAdjust="spacingAndGlyphs">NK Cells Post Day 7</text>
<text x="382.5" y="194.3" font-size="9" fill="#2a2a2a" stroke="#2a2a2a" stroke-width="0.22" text-anchor="start" textLength="87.5" lengthAdjust="spacingAndGlyphs">NK Cells Composite</text>
<text x="22.8" y="88.0" font-size="8.5" fill="#2a2a2a" stroke="#2a2a2a" stroke-width="0.22" text-anchor="middle" textLength="24.0" lengthAdjust="spacingAndGlyphs" transform="rotate(-90 22.8 88.0)">t-SNE 1</text>
<text x="81.5" y="156.7" font-size="8.5" fill="#2a2a2a" stroke="#2a2a2a" stroke-width="0.22" text-anchor="start" textLength="23.7" lengthAdjust="spacingAndGlyphs">t-SNE 2</text>
<line x1="108.60" y1="153.60" x2="337.00" y2="153.60" stroke="#111" stroke-width="1.1"/>
<path d="M335.2 150.2 L343.2 153.6 L335.2 157.0 Z" fill="#111"/>
<text x="22.8" y="254.0" font-size="8.5" fill="#2a2a2a" stroke="#2a2a2a" stroke-width="0.22" text-anchor="middle" textLength="24.0" lengthAdjust="spacingAndGlyphs" transform="rotate(-90 22.8 254.0)">t-SNE 1</text>
<text x="81.4" y="322.3" font-size="8.5" fill="#2a2a2a" stroke="#2a2a2a" stroke-width="0.22" text-anchor="start" textLength="23.8" lengthAdjust="spacingAndGlyphs">t-SNE 2</text>
<line x1="108.60" y1="319.40" x2="332.00" y2="319.40" stroke="#111" stroke-width="1.1"/>
<path d="M330.2 316.0 L338.2 319.4 L330.2 322.8 Z" fill="#111"/>
<text x="35.7" y="45.0" font-size="7.4" fill="#2a2a2a" stroke="#2a2a2a" stroke-width="0.22" text-anchor="start" textLength="21.2" lengthAdjust="spacingAndGlyphs">CD8 T</text>
<text x="35.7" y="54.2" font-size="7.4" fill="#2a2a2a" stroke="#2a2a2a" stroke-width="0.22" text-anchor="start" textLength="7.3" lengthAdjust="spacingAndGlyphs">45</text>
<text x="107.7" y="41.0" font-size="7.4" fill="#2a2a2a" stroke="#2a2a2a" stroke-width="0.22" text-anchor="start" textLength="19.6" lengthAdjust="spacingAndGlyphs">Mono</text>
<text x="125.0" y="61.8" font-size="7.4" fill="#2a2a2a" stroke="#2a2a2a" stroke-width="0.22" text-anchor="start" textLength="9.2" lengthAdjust="spacingAndGlyphs">NK</text>
<text x="126.6" y="75.0" font-size="7.4" fill="#2a2a2a" stroke="#2a2a2a" stroke-width="0.22" text-anchor="start" textLength="8.8" lengthAdjust="spacingAndGlyphs">9.8</text>
<text x="129.6" y="119.5" font-size="7.4" fill="#2a2a2a" stroke="#2a2a2a" stroke-width="0.22" text-anchor="start" textLength="6.9" lengthAdjust="spacingAndGlyphs">34</text>
<text x="108.9" y="130.5" font-size="7.4" fill="#2a2a2a" stroke="#2a2a2a" stroke-width="0.22" text-anchor="start" textLength="21.4" lengthAdjust="spacingAndGlyphs">CD4 T</text>
<text x="35.0" y="139.0" font-size="7.4" fill="#2a2a2a" stroke="#2a2a2a" stroke-width="0.22" text-anchor="start" textLength="10.4" lengthAdjust="spacingAndGlyphs">4.3</text>
<text x="52.3" y="133.2" font-size="7.4" fill="#2a2a2a" stroke="#2a2a2a" stroke-width="0.22" text-anchor="start" textLength="4.7" lengthAdjust="spacingAndGlyphs">T</text>
<text x="57.0" y="135.2" font-size="5.5" fill="#2a2a2a" stroke="#2a2a2a" stroke-width="0.22" text-anchor="start" textLength="6.8" lengthAdjust="spacingAndGlyphs">reg</text>
<text x="77.7" y="140.0" font-size="7.4" fill="#2a2a2a" stroke="#2a2a2a" stroke-width="0.22" text-anchor="start" textLength="3.9" lengthAdjust="spacingAndGlyphs">B</text>
<text x="87.4" y="140.0" font-size="7.4" fill="#2a2a2a" stroke="#2a2a2a" stroke-width="0.22" text-anchor="start" textLength="9.9" lengthAdjust="spacingAndGlyphs">6.7</text>
<text x="149.5" y="45.5" font-size="7.4" fill="#2a2a2a" stroke="#2a2a2a" stroke-width="0.22" text-anchor="start" textLength="20.5" lengthAdjust="spacingAndGlyphs">CD8 T</text>
<text x="147.5" y="60.0" font-size="7.4" fill="#2a2a2a" stroke="#2a2a2a" stroke-width="0.22" text-anchor="start" textLength="7.5" lengthAdjust="spacingAndGlyphs">46</text>
<text x="212.5" y="42.5" font-size="7.4" fill="#2a2a2a" stroke="#2a2a2a" stroke-width="0.22" text-anchor="start" textLength="20.0" lengthAdjust="spacingAndGlyphs">Mono</text>
<text x="238.0" y="65.5" font-size="7.4" fill="#2a2a2a" stroke="#2a2a2a" stroke-width="0.22" text-anchor="start" textLength="11.5" lengthAdjust="spacingAndGlyphs">NK</text>
<text x="241.0" y="78.0" font-size="7.4" fill="#2a2a2a" stroke="#2a2a2a" stroke-width="0.22" text-anchor="start" textLength="9.0" lengthAdjust="spacingAndGlyphs">9.6</text>
<text x="240.0" y="125.0" font-size="7.4" fill="#2a2a2a" stroke="#2a2a2a" stroke-width="0.22" text-anchor="start" textLength="7.0" lengthAdjust="spacingAndGlyphs">30</text>
<text x="225.4" y="134.4" font-size="7.4" fill="#2a2a2a" stroke="#2a2a2a" stroke-width="0.22" text-anchor="start" textLength="21.2" lengthAdjust="spacingAndGlyphs">CD4 T</text>
<text x="148.8" y="136.0" font-size="7.4" fill="#2a2a2a" stroke="#2a2a2a" stroke-width="0.22" text-anchor="start" textLength="10.0" lengthAdjust="spacingAndGlyphs">5.8</text>
<text x="165.6" y="130.2" font-size="7.4" fill="#2a2a2a" stroke="#2a2a2a" stroke-width="0.22" text-anchor="start" textLength="4.6" lengthAdjust="spacingAndGlyphs">T</text>
<text x="170.0" y="132.4" font-size="5.5" fill="#2a2a2a" stroke="#2a2a2a" stroke-width="0.22" text-anchor="start" textLength="7.0" lengthAdjust="spacingAndGlyphs">reg</text>
<text x="191.3" y="140.3" font-size="7.4" fill="#2a2a2a" stroke="#2a2a2a" stroke-width="0.22" text-anchor="start" textLength="3.9" lengthAdjust="spacingAndGlyphs">B</text>
<text x="201.0" y="140.3" font-size="7.4" fill="#2a2a2a" stroke="#2a2a2a" stroke-width="0.22" text-anchor="start" textLength="10.0" lengthAdjust="spacingAndGlyphs">8.1</text>
<text x="263.8" y="43.8" font-size="7.4" fill="#2a2a2a" stroke="#2a2a2a" stroke-width="0.22" text-anchor="start" textLength="21.2" lengthAdjust="spacingAndGlyphs">CD8 T</text>
<text x="262.5" y="57.0" font-size="7.4" fill="#2a2a2a" stroke="#2a2a2a" stroke-width="0.22" text-anchor="start" textLength="7.5" lengthAdjust="spacingAndGlyphs">43</text>
<text x="321.3" y="41.3" font-size="7.4" fill="#2a2a2a" stroke="#2a2a2a" stroke-width="0.22" text-anchor="start" textLength="20.0" lengthAdjust="spacingAndGlyphs">Mono</text>
<text x="352.5" y="55.5" font-size="7.4" fill="#2a2a2a" stroke="#2a2a2a" stroke-width="0.22" text-anchor="start" textLength="11.3" lengthAdjust="spacingAndGlyphs">NK</text>
<text x="354.5" y="67.0" font-size="7.4" fill="#2a2a2a" stroke="#2a2a2a" stroke-width="0.22" text-anchor="start" textLength="7.5" lengthAdjust="spacingAndGlyphs">34</text>
<text x="355.0" y="126.3" font-size="7.4" fill="#2a2a2a" stroke="#2a2a2a" stroke-width="0.22" text-anchor="start" textLength="7.0" lengthAdjust="spacingAndGlyphs">17</text>
<text x="335.2" y="135.9" font-size="7.4" fill="#2a2a2a" stroke="#2a2a2a" stroke-width="0.22" text-anchor="start" textLength="21.2" lengthAdjust="spacingAndGlyphs">CD4 T</text>
<text x="262.5" y="129.3" font-size="7.4" fill="#2a2a2a" stroke="#2a2a2a" stroke-width="0.22" text-anchor="start" textLength="10.5" lengthAdjust="spacingAndGlyphs">2.0</text>
<text x="276.2" y="124.6" font-size="7.4" fill="#2a2a2a" stroke="#2a2a2a" stroke-width="0.22" text-anchor="start" textLength="4.8" lengthAdjust="spacingAndGlyphs">T</text>
<text x="281.0" y="126.8" font-size="5.5" fill="#2a2a2a" stroke="#2a2a2a" stroke-width="0.22" text-anchor="start" textLength="7.5" lengthAdjust="spacingAndGlyphs">reg</text>
<text x="306.7" y="138.7" font-size="7.4" fill="#2a2a2a" stroke="#2a2a2a" stroke-width="0.22" text-anchor="start" textLength="4.1" lengthAdjust="spacingAndGlyphs">B</text>
<text x="315.2" y="138.7" font-size="7.4" fill="#2a2a2a" stroke="#2a2a2a" stroke-width="0.22" text-anchor="start" textLength="7.8" lengthAdjust="spacingAndGlyphs">4.1</text>
<line x1="113.50" y1="127.00" x2="102.20" y2="109.11" stroke="#111" stroke-width="1.1"/>
<path d="M99.80 105.30 L104.50 108.25 L100.44 110.81 Z" fill="#111"/>
<line x1="225.00" y1="126.30" x2="214.22" y2="113.63" stroke="#111" stroke-width="1.1"/>
<path d="M211.30 110.20 L216.37 112.45 L212.71 115.56 Z" fill="#111"/>
<line x1="342.50" y1="122.50" x2="331.59" y2="108.73" stroke="#111" stroke-width="1.1"/>
<path d="M328.80 105.20 L333.79 107.63 L330.02 110.61 Z" fill="#111"/>
<text x="379.8" y="217.0" font-size="7.5" fill="#e0a868" stroke="#e0a868" stroke-width="0.22" text-anchor="start" textLength="9.5" lengthAdjust="spacingAndGlyphs">D7</text>
<text x="453.5" y="216.4" font-size="7.5" fill="#a4a878" stroke="#a4a878" stroke-width="0.22" text-anchor="start" textLength="9.5" lengthAdjust="spacingAndGlyphs">D5</text>
<text x="377.8" y="300.0" font-size="7.4" fill="#5e6880" stroke="#5e6880" stroke-width="0.22" text-anchor="start" textLength="11.5" lengthAdjust="spacingAndGlyphs">pre</text>
<line x1="398.20" y1="31.00" x2="398.20" y2="123.40" stroke="#111" stroke-width="1.3"/>
<line x1="397.60" y1="122.90" x2="512.30" y2="122.90" stroke="#111" stroke-width="1.5"/>
<line x1="394.00" y1="32.60" x2="398.20" y2="32.60" stroke="#111" stroke-width="1.1"/>
<text x="393.0" y="35.1" font-size="7.2" fill="#2a2a2a" stroke="#2a2a2a" stroke-width="0.22" text-anchor="end">80</text>
<line x1="394.00" y1="55.30" x2="398.20" y2="55.30" stroke="#111" stroke-width="1.1"/>
<text x="393.0" y="57.8" font-size="7.2" fill="#2a2a2a" stroke="#2a2a2a" stroke-width="0.22" text-anchor="end">60</text>
<line x1="394.00" y1="78.00" x2="398.20" y2="78.00" stroke="#111" stroke-width="1.1"/>
<text x="393.0" y="80.5" font-size="7.2" fill="#2a2a2a" stroke="#2a2a2a" stroke-width="0.22" text-anchor="end">40</text>
<line x1="394.00" y1="100.70" x2="398.20" y2="100.70" stroke="#111" stroke-width="1.1"/>
<text x="393.0" y="103.2" font-size="7.2" fill="#2a2a2a" stroke="#2a2a2a" stroke-width="0.22" text-anchor="end">20</text>
<line x1="394.00" y1="123.40" x2="398.20" y2="123.40" stroke="#111" stroke-width="1.1"/>
<text x="393.0" y="125.9" font-size="7.2" fill="#2a2a2a" stroke="#2a2a2a" stroke-width="0.22" text-anchor="end">0</text>
<text x="376.5" y="76.0" font-size="7.4" fill="#2a2a2a" stroke="#2a2a2a" stroke-width="0.22" text-anchor="middle" textLength="88.0" lengthAdjust="spacingAndGlyphs" transform="rotate(-90 376.5 76.0)">Percent of lymphocytes</text>
<text x="404.2" y="133.8" font-size="7.2" fill="#2a2a2a" stroke="#2a2a2a" stroke-width="0.22" text-anchor="middle">0</text>
<text x="413.5" y="133.8" font-size="7.2" fill="#2a2a2a" stroke="#2a2a2a" stroke-width="0.22" text-anchor="middle">5</text>
<text x="422.8" y="133.8" font-size="7.2" fill="#2a2a2a" stroke="#2a2a2a" stroke-width="0.22" text-anchor="middle">7</text>
<line x1="402.20" y1="137.10" x2="424.80" y2="137.10" stroke="#111" stroke-width="1.2"/>
<text x="431.8" y="133.8" font-size="7.2" fill="#2a2a2a" stroke="#2a2a2a" stroke-width="0.22" text-anchor="middle">0</text>
<text x="441.4" y="133.8" font-size="7.2" fill="#2a2a2a" stroke="#2a2a2a" stroke-width="0.22" text-anchor="middle">5</text>
<text x="450.8" y="133.8" font-size="7.2" fill="#2a2a2a" stroke="#2a2a2a" stroke-width="0.22" text-anchor="middle">7</text>
<line x1="429.80" y1="137.10" x2="452.80" y2="137.10" stroke="#111" stroke-width="1.2"/>
<text x="459.6" y="133.8" font-size="7.2" fill="#2a2a2a" stroke="#2a2a2a" stroke-width="0.22" text-anchor="middle">0</text>
<text x="469.1" y="133.8" font-size="7.2" fill="#2a2a2a" stroke="#2a2a2a" stroke-width="0.22" text-anchor="middle">5</text>
<text x="478.5" y="133.8" font-size="7.2" fill="#2a2a2a" stroke="#2a2a2a" stroke-width="0.22" text-anchor="middle">7</text>
<line x1="457.60" y1="137.10" x2="480.50" y2="137.10" stroke="#111" stroke-width="1.2"/>
<text x="487.6" y="133.8" font-size="7.2" fill="#2a2a2a" stroke="#2a2a2a" stroke-width="0.22" text-anchor="middle">0</text>
<text x="496.9" y="133.8" font-size="7.2" fill="#2a2a2a" stroke="#2a2a2a" stroke-width="0.22" text-anchor="middle">5</text>
<text x="505.9" y="133.8" font-size="7.2" fill="#2a2a2a" stroke="#2a2a2a" stroke-width="0.22" text-anchor="middle">7</text>
<line x1="485.60" y1="137.10" x2="507.90" y2="137.10" stroke="#111" stroke-width="1.2"/>
<text x="413.5" y="146.6" font-size="7.4" fill="#2a2a2a" stroke="#2a2a2a" stroke-width="0.22" text-anchor="middle" textLength="10.5" lengthAdjust="spacingAndGlyphs">NK</text>
<text x="441.3" y="146.6" font-size="7.4" fill="#2a2a2a" stroke="#2a2a2a" stroke-width="0.22" text-anchor="middle" textLength="23.0" lengthAdjust="spacingAndGlyphs">CD8 T</text>
<text x="469.5" y="146.6" font-size="7.4" fill="#2a2a2a" stroke="#2a2a2a" stroke-width="0.22" text-anchor="middle" textLength="23.5" lengthAdjust="spacingAndGlyphs">CD4 T</text>
<text x="494.0" y="146.0" font-size="7.4" fill="#2a2a2a" stroke="#2a2a2a" stroke-width="0.22" text-anchor="middle" textLength="4.5" lengthAdjust="spacingAndGlyphs">T</text>
<text x="496.5" y="148.3" font-size="5.3" fill="#2a2a2a" stroke="#2a2a2a" stroke-width="0.22" text-anchor="start" textLength="7.0" lengthAdjust="spacingAndGlyphs">reg</text>
<path d="M404.0 48.2 V44.2 H425.0 V48.2" fill="none" stroke="#222" stroke-width="1.1"/>
<text x="414.5" y="40.7" font-size="7.0" fill="#2a2a2a" stroke="#2a2a2a" stroke-width="0.22" text-anchor="middle">0.02</text>
<path d="M459.7 79.8 V75.8 H480.5 V79.8" fill="none" stroke="#222" stroke-width="1.1"/>
<text x="470.1" y="72.6" font-size="7.0" fill="#2a2a2a" stroke="#2a2a2a" stroke-width="0.22" text-anchor="middle">0.01</text>
<path d="M486.3 110.6 V106.8 H507.8 V110.6" fill="none" stroke="#222" stroke-width="1.1"/>
<text x="497.1" y="103.1" font-size="7.0" fill="#2a2a2a" stroke="#2a2a2a" stroke-width="0.22" text-anchor="middle">0.06</text>
<path d="M404.20 105.35 L413.50 107.06 L422.80 93.21" fill="none" stroke="#111" stroke-width="1.7"/>
<path d="M431.80 72.33 L441.40 46.22 L450.80 58.70" fill="none" stroke="#111" stroke-width="1.7"/>
<path d="M459.60 90.83 L469.10 107.51 L478.50 110.92" fill="none" stroke="#111" stroke-width="1.7"/>
<path d="M487.60 120.00 L496.90 120.56 L505.90 121.13" fill="none" stroke="#111" stroke-width="1.7"/>
<path d="M404.20 114.89 L413.50 107.51 L422.80 96.84" fill="none" stroke="#111" stroke-width="1.7"/>
<path d="M431.80 56.55 L441.40 46.22 L450.80 58.48" fill="none" stroke="#111" stroke-width="1.7"/>
<path d="M459.60 94.23 L469.10 105.35 L478.50 108.08" fill="none" stroke="#111" stroke-width="1.7"/>
<path d="M487.60 119.43 L496.90 120.00 L505.90 120.56" fill="none" stroke="#111" stroke-width="1.7"/>
<path d="M404.20 81.63 L413.50 55.98 L422.80 53.26" fill="none" stroke="#111" stroke-width="1.7"/>
<path d="M431.80 87.65 L441.40 100.02 L450.80 96.16" fill="none" stroke="#111" stroke-width="1.7"/>
<path d="M459.60 98.66 L469.10 109.21 L478.50 109.78" fill="none" stroke="#111" stroke-width="1.7"/>
<path d="M487.60 114.21 L496.90 118.29 L505.90 121.13" fill="none" stroke="#111" stroke-width="1.7"/>
<path d="M404.20 111.60 L413.50 112.28 L422.80 84.92" fill="none" stroke="#111" stroke-width="1.7"/>
<path d="M431.80 72.33 L441.40 71.53 L450.80 75.39" fill="none" stroke="#111" stroke-width="1.7"/>
<path d="M459.60 84.13 L469.10 88.56 L478.50 103.08" fill="none" stroke="#111" stroke-width="1.7"/>
<path d="M487.60 118.29 L496.90 115.91 L505.90 121.13" fill="none" stroke="#111" stroke-width="1.7"/>
<path d="M404.20 118.52 L413.50 103.42 L422.80 108.99" fill="none" stroke="#111" stroke-width="1.7"/>
<path d="M431.80 101.04 L441.40 96.84 L450.80 95.37" fill="none" stroke="#111" stroke-width="1.7"/>
<path d="M459.60 110.35 L469.10 117.61 L478.50 113.75" fill="none" stroke="#111" stroke-width="1.7"/>
<path d="M487.60 119.31 L496.90 120.90 L505.90 120.45" fill="none" stroke="#111" stroke-width="1.7"/>
<circle cx="404.20" cy="105.35" r="2.5" fill="#b3133d"/>
<circle cx="413.50" cy="107.06" r="2.5" fill="#b3133d"/>
<circle cx="422.80" cy="93.21" r="2.5" fill="#b3133d"/>
<circle cx="431.80" cy="72.33" r="2.5" fill="#b3133d"/>
<circle cx="441.40" cy="46.22" r="2.5" fill="#b3133d"/>
<circle cx="450.80" cy="58.70" r="2.5" fill="#b3133d"/>
<circle cx="459.60" cy="90.83" r="2.5" fill="#b3133d"/>
<circle cx="469.10" cy="107.51" r="2.5" fill="#b3133d"/>
<circle cx="478.50" cy="110.92" r="2.5" fill="#b3133d"/>
<circle cx="487.60" cy="120.00" r="2.5" fill="#b3133d"/>
<circle cx="496.90" cy="120.56" r="2.5" fill="#b3133d"/>
<circle cx="505.90" cy="121.13" r="2.5" fill="#b3133d"/>
<circle cx="404.20" cy="114.89" r="2.5" fill="#e6961f"/>
<circle cx="413.50" cy="107.51" r="2.5" fill="#e6961f"/>
<circle cx="422.80" cy="96.84" r="2.5" fill="#e6961f"/>
<circle cx="431.80" cy="56.55" r="2.5" fill="#e6961f"/>
<circle cx="441.40" cy="46.22" r="2.5" fill="#e6961f"/>
<circle cx="450.80" cy="58.48" r="2.5" fill="#e6961f"/>
<circle cx="459.60" cy="94.23" r="2.5" fill="#e6961f"/>
<circle cx="469.10" cy="105.35" r="2.5" fill="#e6961f"/>
<circle cx="478.50" cy="108.08" r="2.5" fill="#e6961f"/>
<circle cx="487.60" cy="119.43" r="2.5" fill="#e6961f"/>
<circle cx="496.90" cy="120.00" r="2.5" fill="#e6961f"/>
<circle cx="505.90" cy="120.56" r="2.5" fill="#e6961f"/>
<circle cx="404.20" cy="81.63" r="2.5" fill="#66ad47"/>
<circle cx="413.50" cy="55.98" r="2.5" fill="#66ad47"/>
<circle cx="422.80" cy="53.26" r="2.5" fill="#66ad47"/>
<circle cx="431.80" cy="87.65" r="2.5" fill="#66ad47"/>
<circle cx="441.40" cy="100.02" r="2.5" fill="#66ad47"/>
<circle cx="450.80" cy="96.16" r="2.5" fill="#66ad47"/>
<circle cx="459.60" cy="98.66" r="2.5" fill="#66ad47"/>
<circle cx="469.10" cy="109.21" r="2.5" fill="#66ad47"/>
<circle cx="478.50" cy="109.78" r="2.5" fill="#66ad47"/>
<circle cx="487.60" cy="114.21" r="2.5" fill="#66ad47"/>
<circle cx="496.90" cy="118.29" r="2.5" fill="#66ad47"/>
<circle cx="505.90" cy="121.13" r="2.5" fill="#66ad47"/>
<circle cx="404.20" cy="111.60" r="2.5" fill="#2c4a8c"/>
<circle cx="413.50" cy="112.28" r="2.5" fill="#2c4a8c"/>
<circle cx="422.80" cy="84.92" r="2.5" fill="#2c4a8c"/>
<circle cx="431.80" cy="72.33" r="2.5" fill="#2c4a8c"/>
<circle cx="441.40" cy="71.53" r="2.5" fill="#2c4a8c"/>
<circle cx="450.80" cy="75.39" r="2.5" fill="#2c4a8c"/>
<circle cx="459.60" cy="84.13" r="2.5" fill="#2c4a8c"/>
<circle cx="469.10" cy="88.56" r="2.5" fill="#2c4a8c"/>
<circle cx="478.50" cy="103.08" r="2.5" fill="#2c4a8c"/>
<circle cx="487.60" cy="118.29" r="2.5" fill="#2c4a8c"/>
<circle cx="496.90" cy="115.91" r="2.5" fill="#2c4a8c"/>
<circle cx="505.90" cy="121.13" r="2.5" fill="#2c4a8c"/>
<circle cx="404.20" cy="118.52" r="2.5" fill="#4a2b77"/>
<circle cx="413.50" cy="103.42" r="2.5" fill="#4a2b77"/>
<circle cx="422.80" cy="108.99" r="2.5" fill="#4a2b77"/>
<circle cx="431.80" cy="101.04" r="2.5" fill="#4a2b77"/>
<circle cx="441.40" cy="96.84" r="2.5" fill="#4a2b77"/>
<circle cx="450.80" cy="95.37" r="2.5" fill="#4a2b77"/>
<circle cx="459.60" cy="110.35" r="2.5" fill="#4a2b77"/>
<circle cx="469.10" cy="117.61" r="2.5" fill="#4a2b77"/>
<circle cx="478.50" cy="113.75" r="2.5" fill="#4a2b77"/>
<circle cx="487.60" cy="119.31" r="2.5" fill="#4a2b77"/>
<circle cx="496.90" cy="120.90" r="2.5" fill="#4a2b77"/>
<circle cx="505.90" cy="120.45" r="2.5" fill="#4a2b77"/>
<line x1="63.50" y1="366.50" x2="63.50" y2="473.00" stroke="#111" stroke-width="1.3"/>
<line x1="62.90" y1="472.40" x2="168.00" y2="472.40" stroke="#111" stroke-width="1.3"/>
<line x1="59.70" y1="369.40" x2="63.50" y2="369.40" stroke="#111" stroke-width="1.1"/>
<text x="58.0" y="372.0" font-size="7.4" fill="#2a2a2a" stroke="#2a2a2a" stroke-width="0.22" text-anchor="end">100</text>
<line x1="59.70" y1="390.10" x2="63.50" y2="390.10" stroke="#111" stroke-width="1.1"/>
<text x="58.0" y="392.7" font-size="7.4" fill="#2a2a2a" stroke="#2a2a2a" stroke-width="0.22" text-anchor="end">80</text>
<line x1="59.70" y1="410.80" x2="63.50" y2="410.80" stroke="#111" stroke-width="1.1"/>
<text x="58.0" y="413.4" font-size="7.4" fill="#2a2a2a" stroke="#2a2a2a" stroke-width="0.22" text-anchor="end">60</text>
<line x1="59.70" y1="431.50" x2="63.50" y2="431.50" stroke="#111" stroke-width="1.1"/>
<text x="58.0" y="434.1" font-size="7.4" fill="#2a2a2a" stroke="#2a2a2a" stroke-width="0.22" text-anchor="end">40</text>
<line x1="59.70" y1="452.20" x2="63.50" y2="452.20" stroke="#111" stroke-width="1.1"/>
<text x="58.0" y="454.8" font-size="7.4" fill="#2a2a2a" stroke="#2a2a2a" stroke-width="0.22" text-anchor="end">20</text>
<text x="40.2" y="420.0" font-size="7.5" fill="#2a2a2a" stroke="#2a2a2a" stroke-width="0.22" text-anchor="middle" textLength="57.5" lengthAdjust="spacingAndGlyphs" transform="rotate(-90 40.2 420.0)">Percent NKp30+</text>
<line x1="75.00" y1="437.71" x2="91.30" y2="403.55" stroke="#111" stroke-width="1.8"/>
<line x1="107.60" y1="391.13" x2="123.90" y2="377.68" stroke="#111" stroke-width="1.8"/>
<line x1="140.20" y1="436.67" x2="156.50" y2="403.55" stroke="#111" stroke-width="1.8"/>
<line x1="75.00" y1="437.71" x2="91.30" y2="420.63" stroke="#111" stroke-width="1.8"/>
<line x1="107.60" y1="417.01" x2="123.90" y2="394.96" stroke="#111" stroke-width="1.8"/>
<line x1="140.20" y1="442.88" x2="156.50" y2="422.19" stroke="#111" stroke-width="1.8"/>
<line x1="75.00" y1="397.34" x2="91.30" y2="371.99" stroke="#111" stroke-width="1.8"/>
<line x1="107.60" y1="380.06" x2="123.90" y2="370.44" stroke="#111" stroke-width="1.8"/>
<line x1="140.20" y1="401.28" x2="156.50" y2="371.99" stroke="#111" stroke-width="1.8"/>
<line x1="75.00" y1="395.27" x2="91.30" y2="374.16" stroke="#111" stroke-width="1.8"/>
<line x1="107.60" y1="382.34" x2="123.90" y2="369.92" stroke="#111" stroke-width="1.8"/>
<line x1="140.20" y1="395.69" x2="156.50" y2="377.68" stroke="#111" stroke-width="1.8"/>
<line x1="75.00" y1="411.21" x2="91.30" y2="382.96" stroke="#111" stroke-width="1.8"/>
<line x1="107.60" y1="384.20" x2="123.90" y2="371.99" stroke="#111" stroke-width="1.8"/>
<line x1="140.20" y1="411.21" x2="156.50" y2="383.48" stroke="#111" stroke-width="1.8"/>
<circle cx="75.00" cy="437.71" r="2.7" fill="#b3133d"/>
<circle cx="91.30" cy="403.55" r="2.7" fill="#b3133d"/>
<circle cx="107.60" cy="391.13" r="2.7" fill="#b3133d"/>
<circle cx="123.90" cy="377.68" r="2.7" fill="#b3133d"/>
<circle cx="140.20" cy="436.67" r="2.7" fill="#b3133d"/>
<circle cx="156.50" cy="403.55" r="2.7" fill="#b3133d"/>
<circle cx="75.00" cy="437.71" r="2.7" fill="#4a2b77"/>
<circle cx="91.30" cy="420.63" r="2.7" fill="#4a2b77"/>
<circle cx="107.60" cy="417.01" r="2.7" fill="#4a2b77"/>
<circle cx="123.90" cy="394.96" r="2.7" fill="#4a2b77"/>
<circle cx="140.20" cy="442.88" r="2.7" fill="#4a2b77"/>
<circle cx="156.50" cy="422.19" r="2.7" fill="#4a2b77"/>
<circle cx="75.00" cy="397.34" r="2.7" fill="#e6961f"/>
<circle cx="91.30" cy="371.99" r="2.7" fill="#e6961f"/>
<circle cx="107.60" cy="380.06" r="2.7" fill="#e6961f"/>
<circle cx="123.90" cy="370.44" r="2.7" fill="#e6961f"/>
<circle cx="140.20" cy="401.28" r="2.7" fill="#e6961f"/>
<circle cx="156.50" cy="371.99" r="2.7" fill="#e6961f"/>
<circle cx="75.00" cy="395.27" r="2.7" fill="#66ad47"/>
<circle cx="91.30" cy="374.16" r="2.7" fill="#66ad47"/>
<circle cx="107.60" cy="382.34" r="2.7" fill="#66ad47"/>
<circle cx="123.90" cy="369.92" r="2.7" fill="#66ad47"/>
<circle cx="140.20" cy="395.69" r="2.7" fill="#66ad47"/>
<circle cx="156.50" cy="377.68" r="2.7" fill="#66ad47"/>
<circle cx="75.00" cy="411.21" r="2.7" fill="#2c4a8c"/>
<circle cx="91.30" cy="382.96" r="2.7" fill="#2c4a8c"/>
<circle cx="107.60" cy="384.20" r="2.7" fill="#2c4a8c"/>
<circle cx="123.90" cy="371.99" r="2.7" fill="#2c4a8c"/>
<circle cx="140.20" cy="411.21" r="2.7" fill="#2c4a8c"/>
<circle cx="156.50" cy="383.48" r="2.7" fill="#2c4a8c"/>
<path d="M71.5 367.5 V363.4 H91.2 V367.5" fill="none" stroke="#222" stroke-width="1.1"/>
<text x="81.3" y="359.3" font-size="7.0" fill="#2a2a2a" stroke="#2a2a2a" stroke-width="0.22" text-anchor="middle">0.01</text>
<path d="M105.0 367.5 V363.4 H124.2 V367.5" fill="none" stroke="#222" stroke-width="1.1"/>
<text x="114.6" y="359.3" font-size="7.0" fill="#2a2a2a" stroke="#2a2a2a" stroke-width="0.22" text-anchor="middle">&lt;0.01</text>
<path d="M137.4 367.5 V363.4 H157.0 V367.5" fill="none" stroke="#222" stroke-width="1.1"/>
<text x="147.2" y="359.3" font-size="7.0" fill="#2a2a2a" stroke="#2a2a2a" stroke-width="0.22" text-anchor="middle">&lt;0.01</text>
<text x="62.5" y="483.5" font-size="7.8" fill="#2a2a2a" stroke="#2a2a2a" stroke-width="0.22" text-anchor="end" textLength="47.2" lengthAdjust="spacingAndGlyphs">ALT-803 Day:</text>
<text x="62.5" y="497.0" font-size="7.8" fill="#2a2a2a" stroke="#2a2a2a" stroke-width="0.22" text-anchor="end" textLength="38.0" lengthAdjust="spacingAndGlyphs">NK subset:</text>
<text x="76.0" y="483.5" font-size="7.8" fill="#2a2a2a" stroke="#2a2a2a" stroke-width="0.22" text-anchor="middle">0</text>
<text x="91.9" y="483.5" font-size="7.8" fill="#2a2a2a" stroke="#2a2a2a" stroke-width="0.22" text-anchor="middle">5</text>
<line x1="73.50" y1="487.30" x2="94.10" y2="487.30" stroke="#111" stroke-width="1.2"/>
<text x="83.7" y="497.0" font-size="7.8" fill="#2a2a2a" stroke="#2a2a2a" stroke-width="0.22" text-anchor="middle" textLength="10.5" lengthAdjust="spacingAndGlyphs">NK</text>
<text x="107.8" y="483.5" font-size="7.8" fill="#2a2a2a" stroke="#2a2a2a" stroke-width="0.22" text-anchor="middle">0</text>
<text x="123.7" y="483.5" font-size="7.8" fill="#2a2a2a" stroke="#2a2a2a" stroke-width="0.22" text-anchor="middle">5</text>
<line x1="105.20" y1="487.30" x2="127.50" y2="487.30" stroke="#111" stroke-width="1.2"/>
<text x="116.3" y="497.0" font-size="7.8" fill="#2a2a2a" stroke="#2a2a2a" stroke-width="0.22" text-anchor="middle" textLength="20.5" lengthAdjust="spacingAndGlyphs">Bright</text>
<text x="140.8" y="483.5" font-size="7.8" fill="#2a2a2a" stroke="#2a2a2a" stroke-width="0.22" text-anchor="middle">0</text>
<text x="156.7" y="483.5" font-size="7.8" fill="#2a2a2a" stroke="#2a2a2a" stroke-width="0.22" text-anchor="middle">5</text>
<line x1="138.60" y1="487.30" x2="159.80" y2="487.30" stroke="#111" stroke-width="1.2"/>
<text x="149.7" y="497.0" font-size="7.8" fill="#2a2a2a" stroke="#2a2a2a" stroke-width="0.22" text-anchor="middle" textLength="12.5" lengthAdjust="spacingAndGlyphs">Dim</text>
<line x1="240.90" y1="366.50" x2="240.90" y2="473.00" stroke="#111" stroke-width="1.3"/>
<line x1="240.30" y1="472.40" x2="343.80" y2="472.40" stroke="#111" stroke-width="1.3"/>
<line x1="237.10" y1="369.40" x2="240.90" y2="369.40" stroke="#111" stroke-width="1.1"/>
<text x="235.4" y="372.0" font-size="7.4" fill="#2a2a2a" stroke="#2a2a2a" stroke-width="0.22" text-anchor="end">100</text>
<line x1="237.10" y1="390.10" x2="240.90" y2="390.10" stroke="#111" stroke-width="1.1"/>
<text x="235.4" y="392.7" font-size="7.4" fill="#2a2a2a" stroke="#2a2a2a" stroke-width="0.22" text-anchor="end">80</text>
<line x1="237.10" y1="410.80" x2="240.90" y2="410.80" stroke="#111" stroke-width="1.1"/>
<text x="235.4" y="413.4" font-size="7.4" fill="#2a2a2a" stroke="#2a2a2a" stroke-width="0.22" text-anchor="end">60</text>
<line x1="237.10" y1="431.50" x2="240.90" y2="431.50" stroke="#111" stroke-width="1.1"/>
<text x="235.4" y="434.1" font-size="7.4" fill="#2a2a2a" stroke="#2a2a2a" stroke-width="0.22" text-anchor="end">40</text>
<line x1="237.10" y1="452.20" x2="240.90" y2="452.20" stroke="#111" stroke-width="1.1"/>
<text x="235.4" y="454.8" font-size="7.4" fill="#2a2a2a" stroke="#2a2a2a" stroke-width="0.22" text-anchor="end">20</text>
<text x="216.2" y="419.4" font-size="7.5" fill="#2a2a2a" stroke="#2a2a2a" stroke-width="0.22" text-anchor="middle" textLength="58.0" lengthAdjust="spacingAndGlyphs" transform="rotate(-90 216.2 419.4)">Percent NKG2D+</text>
<line x1="252.50" y1="428.08" x2="268.70" y2="413.90" stroke="#111" stroke-width="1.8"/>
<line x1="284.60" y1="404.38" x2="300.40" y2="397.45" stroke="#111" stroke-width="1.8"/>
<line x1="316.60" y1="426.74" x2="332.40" y2="412.97" stroke="#111" stroke-width="1.8"/>
<line x1="252.50" y1="432.53" x2="268.70" y2="430.67" stroke="#111" stroke-width="1.8"/>
<line x1="284.60" y1="415.97" x2="300.40" y2="412.56" stroke="#111" stroke-width="1.8"/>
<line x1="316.60" y1="436.16" x2="332.40" y2="432.22" stroke="#111" stroke-width="1.8"/>
<line x1="252.50" y1="435.85" x2="268.70" y2="398.38" stroke="#111" stroke-width="1.8"/>
<line x1="284.60" y1="415.97" x2="300.40" y2="395.27" stroke="#111" stroke-width="1.8"/>
<line x1="316.60" y1="440.92" x2="332.40" y2="397.76" stroke="#111" stroke-width="1.8"/>
<line x1="252.50" y1="415.46" x2="268.70" y2="412.46" stroke="#111" stroke-width="1.8"/>
<line x1="284.60" y1="397.97" x2="300.40" y2="403.35" stroke="#111" stroke-width="1.8"/>
<line x1="316.60" y1="418.36" x2="332.40" y2="411.11" stroke="#111" stroke-width="1.8"/>
<line x1="252.50" y1="414.42" x2="268.70" y2="395.27" stroke="#111" stroke-width="1.8"/>
<line x1="284.60" y1="392.27" x2="300.40" y2="381.30" stroke="#111" stroke-width="1.8"/>
<line x1="316.60" y1="413.28" x2="332.40" y2="394.96" stroke="#111" stroke-width="1.8"/>
<circle cx="252.50" cy="428.08" r="2.7" fill="#b3133d"/>
<circle cx="268.70" cy="413.90" r="2.7" fill="#b3133d"/>
<circle cx="284.60" cy="404.38" r="2.7" fill="#b3133d"/>
<circle cx="300.40" cy="397.45" r="2.7" fill="#b3133d"/>
<circle cx="316.60" cy="426.74" r="2.7" fill="#b3133d"/>
<circle cx="332.40" cy="412.97" r="2.7" fill="#b3133d"/>
<circle cx="252.50" cy="432.53" r="2.7" fill="#4a2b77"/>
<circle cx="268.70" cy="430.67" r="2.7" fill="#4a2b77"/>
<circle cx="284.60" cy="415.97" r="2.7" fill="#4a2b77"/>
<circle cx="300.40" cy="412.56" r="2.7" fill="#4a2b77"/>
<circle cx="316.60" cy="436.16" r="2.7" fill="#4a2b77"/>
<circle cx="332.40" cy="432.22" r="2.7" fill="#4a2b77"/>
<circle cx="252.50" cy="435.85" r="2.7" fill="#e6961f"/>
<circle cx="268.70" cy="398.38" r="2.7" fill="#e6961f"/>
<circle cx="284.60" cy="415.97" r="2.7" fill="#4a2b77"/>
<circle cx="300.40" cy="395.27" r="2.7" fill="#e6961f"/>
<circle cx="316.60" cy="440.92" r="2.7" fill="#e6961f"/>
<circle cx="332.40" cy="397.76" r="2.7" fill="#e6961f"/>
<circle cx="252.50" cy="415.46" r="2.7" fill="#66ad47"/>
<circle cx="268.70" cy="412.46" r="2.7" fill="#66ad47"/>
<circle cx="284.60" cy="397.97" r="2.7" fill="#66ad47"/>
<circle cx="300.40" cy="403.35" r="2.7" fill="#66ad47"/>
<circle cx="316.60" cy="418.36" r="2.7" fill="#66ad47"/>
<circle cx="332.40" cy="411.11" r="2.7" fill="#66ad47"/>
<circle cx="252.50" cy="414.42" r="2.7" fill="#2c4a8c"/>
<circle cx="268.70" cy="395.27" r="2.7" fill="#2c4a8c"/>
<circle cx="284.60" cy="392.27" r="2.7" fill="#2c4a8c"/>
<circle cx="300.40" cy="381.30" r="2.7" fill="#2c4a8c"/>
<circle cx="316.60" cy="413.28" r="2.7" fill="#2c4a8c"/>
<circle cx="332.40" cy="394.96" r="2.7" fill="#2c4a8c"/>
<text x="239.9" y="483.5" font-size="7.8" fill="#2a2a2a" stroke="#2a2a2a" stroke-width="0.22" text-anchor="end" textLength="47.2" lengthAdjust="spacingAndGlyphs">ALT-803 Day:</text>
<text x="239.9" y="497.0" font-size="7.8" fill="#2a2a2a" stroke="#2a2a2a" stroke-width="0.22" text-anchor="end" textLength="38.0" lengthAdjust="spacingAndGlyphs">NK subset:</text>
<text x="254.6" y="483.5" font-size="7.8" fill="#2a2a2a" stroke="#2a2a2a" stroke-width="0.22" text-anchor="middle">0</text>
<text x="270.5" y="483.5" font-size="7.8" fill="#2a2a2a" stroke="#2a2a2a" stroke-width="0.22" text-anchor="middle">5</text>
<line x1="252.40" y1="487.30" x2="273.70" y2="487.30" stroke="#111" stroke-width="1.2"/>
<text x="263.2" y="497.0" font-size="7.8" fill="#2a2a2a" stroke="#2a2a2a" stroke-width="0.22" text-anchor="middle" textLength="10.5" lengthAdjust="spacingAndGlyphs">NK</text>
<text x="286.3" y="483.5" font-size="7.8" fill="#2a2a2a" stroke="#2a2a2a" stroke-width="0.22" text-anchor="middle">0</text>
<text x="302.2" y="483.5" font-size="7.8" fill="#2a2a2a" stroke="#2a2a2a" stroke-width="0.22" text-anchor="middle">5</text>
<line x1="283.20" y1="487.30" x2="307.00" y2="487.30" stroke="#111" stroke-width="1.2"/>
<text x="295.0" y="497.0" font-size="7.8" fill="#2a2a2a" stroke="#2a2a2a" stroke-width="0.22" text-anchor="middle" textLength="20.5" lengthAdjust="spacingAndGlyphs">Bright</text>
<text x="319.7" y="483.5" font-size="7.8" fill="#2a2a2a" stroke="#2a2a2a" stroke-width="0.22" text-anchor="middle">0</text>
<text x="335.6" y="483.5" font-size="7.8" fill="#2a2a2a" stroke="#2a2a2a" stroke-width="0.22" text-anchor="middle">5</text>
<line x1="317.10" y1="487.30" x2="338.70" y2="487.30" stroke="#111" stroke-width="1.2"/>
<text x="326.7" y="497.0" font-size="7.8" fill="#2a2a2a" stroke="#2a2a2a" stroke-width="0.22" text-anchor="middle" textLength="12.5" lengthAdjust="spacingAndGlyphs">Dim</text>
<line x1="63.10" y1="528.50" x2="63.10" y2="634.50" stroke="#111" stroke-width="1.3"/>
<line x1="62.50" y1="633.90" x2="168.00" y2="633.90" stroke="#111" stroke-width="1.3"/>
<line x1="59.30" y1="531.16" x2="63.10" y2="531.16" stroke="#111" stroke-width="1.1"/>
<text x="57.6" y="533.8" font-size="7.4" fill="#2a2a2a" stroke="#2a2a2a" stroke-width="0.22" text-anchor="end">80</text>
<line x1="59.30" y1="557.12" x2="63.10" y2="557.12" stroke="#111" stroke-width="1.1"/>
<text x="57.6" y="559.7" font-size="7.4" fill="#2a2a2a" stroke="#2a2a2a" stroke-width="0.22" text-anchor="end">60</text>
<line x1="59.30" y1="583.08" x2="63.10" y2="583.08" stroke="#111" stroke-width="1.1"/>
<text x="57.6" y="585.7" font-size="7.4" fill="#2a2a2a" stroke="#2a2a2a" stroke-width="0.22" text-anchor="end">40</text>
<line x1="59.30" y1="609.04" x2="63.10" y2="609.04" stroke="#111" stroke-width="1.1"/>
<text x="57.6" y="611.6" font-size="7.4" fill="#2a2a2a" stroke="#2a2a2a" stroke-width="0.22" text-anchor="end">20</text>
<text x="42.2" y="582.0" font-size="7.5" fill="#2a2a2a" stroke="#2a2a2a" stroke-width="0.22" text-anchor="middle" textLength="52.0" lengthAdjust="spacingAndGlyphs" transform="rotate(-90 42.2 582.0)">Percent TIM-3+</text>
<line x1="75.00" y1="628.51" x2="91.30" y2="621.63" stroke="#111" stroke-width="1.8"/>
<line x1="107.60" y1="615.40" x2="123.90" y2="596.19" stroke="#111" stroke-width="1.8"/>
<line x1="140.20" y1="629.68" x2="156.50" y2="621.63" stroke="#111" stroke-width="1.8"/>
<line x1="75.00" y1="626.17" x2="91.30" y2="616.44" stroke="#111" stroke-width="1.8"/>
<line x1="107.60" y1="621.63" x2="123.90" y2="616.44" stroke="#111" stroke-width="1.8"/>
<line x1="140.20" y1="626.69" x2="156.50" y2="618.26" stroke="#111" stroke-width="1.8"/>
<line x1="75.00" y1="602.03" x2="91.30" y2="578.15" stroke="#111" stroke-width="1.8"/>
<line x1="107.60" y1="569.71" x2="123.90" y2="572.70" stroke="#111" stroke-width="1.8"/>
<line x1="140.20" y1="609.95" x2="156.50" y2="593.46" stroke="#111" stroke-width="1.8"/>
<line x1="75.00" y1="607.74" x2="91.30" y2="588.79" stroke="#111" stroke-width="1.8"/>
<line x1="107.60" y1="599.69" x2="123.90" y2="572.70" stroke="#111" stroke-width="1.8"/>
<line x1="140.20" y1="606.57" x2="156.50" y2="581.26" stroke="#111" stroke-width="1.8"/>
<line x1="75.00" y1="589.31" x2="91.30" y2="561.66" stroke="#111" stroke-width="1.8"/>
<line x1="107.60" y1="584.25" x2="123.90" y2="557.38" stroke="#111" stroke-width="1.8"/>
<line x1="140.20" y1="586.97" x2="156.50" y2="559.72" stroke="#111" stroke-width="1.8"/>
<circle cx="75.00" cy="628.51" r="2.7" fill="#b3133d"/>
<circle cx="91.30" cy="621.63" r="2.7" fill="#4a2b77"/>
<circle cx="107.60" cy="615.40" r="2.7" fill="#b3133d"/>
<circle cx="123.90" cy="596.19" r="2.7" fill="#b3133d"/>
<circle cx="140.20" cy="629.68" r="2.7" fill="#b3133d"/>
<circle cx="156.50" cy="621.63" r="2.7" fill="#4a2b77"/>
<circle cx="75.00" cy="626.17" r="2.7" fill="#4a2b77"/>
<circle cx="91.30" cy="616.44" r="2.7" fill="#b3133d"/>
<circle cx="107.60" cy="621.63" r="2.7" fill="#4a2b77"/>
<circle cx="123.90" cy="616.44" r="2.7" fill="#4a2b77"/>
<circle cx="140.20" cy="626.69" r="2.7" fill="#4a2b77"/>
<circle cx="156.50" cy="618.26" r="2.7" fill="#b3133d"/>
<circle cx="75.00" cy="602.03" r="2.7" fill="#e6961f"/>
<circle cx="91.30" cy="578.15" r="2.7" fill="#66ad47"/>
<circle cx="107.60" cy="569.71" r="2.7" fill="#e6961f"/>
<circle cx="123.90" cy="572.70" r="2.7" fill="#e6961f"/>
<circle cx="140.20" cy="609.95" r="2.7" fill="#e6961f"/>
<circle cx="156.50" cy="593.46" r="2.7" fill="#e6961f"/>
<circle cx="75.00" cy="607.74" r="2.7" fill="#66ad47"/>
<circle cx="91.30" cy="588.79" r="2.7" fill="#e6961f"/>
<circle cx="107.60" cy="599.69" r="2.7" fill="#66ad47"/>
<circle cx="123.90" cy="572.70" r="2.7" fill="#66ad47"/>
<circle cx="140.20" cy="606.57" r="2.7" fill="#66ad47"/>
<circle cx="156.50" cy="581.26" r="2.7" fill="#66ad47"/>
<circle cx="75.00" cy="589.31" r="2.7" fill="#2c4a8c"/>
<circle cx="91.30" cy="561.66" r="2.7" fill="#2c4a8c"/>
<circle cx="107.60" cy="584.25" r="2.7" fill="#2c4a8c"/>
<circle cx="123.90" cy="557.38" r="2.7" fill="#2c4a8c"/>
<circle cx="140.20" cy="586.97" r="2.7" fill="#2c4a8c"/>
<circle cx="156.50" cy="559.72" r="2.7" fill="#2c4a8c"/>
<path d="M70.0 549.5 V544.4 H88.9 V549.5" fill="none" stroke="#222" stroke-width="1.1"/>
<text x="79.5" y="541.8" font-size="7.0" fill="#2a2a2a" stroke="#2a2a2a" stroke-width="0.22" text-anchor="middle">0.02</text>
<path d="M137.4 553.5 V548.9 H157.0 V553.5" fill="none" stroke="#222" stroke-width="1.1"/>
<text x="147.2" y="546.6" font-size="7.0" fill="#2a2a2a" stroke="#2a2a2a" stroke-width="0.22" text-anchor="middle">0.01</text>
<text x="62.1" y="644.2" font-size="7.8" fill="#2a2a2a" stroke="#2a2a2a" stroke-width="0.22" text-anchor="end" textLength="47.2" lengthAdjust="spacingAndGlyphs">ALT-803 Day:</text>
<text x="62.1" y="659.3" font-size="7.8" fill="#2a2a2a" stroke="#2a2a2a" stroke-width="0.22" text-anchor="end" textLength="38.0" lengthAdjust="spacingAndGlyphs">NK subset:</text>
<text x="76.0" y="644.2" font-size="7.8" fill="#2a2a2a" stroke="#2a2a2a" stroke-width="0.22" text-anchor="middle">0</text>
<text x="91.9" y="644.2" font-size="7.8" fill="#2a2a2a" stroke="#2a2a2a" stroke-width="0.22" text-anchor="middle">5</text>
<line x1="73.50" y1="649.30" x2="94.10" y2="649.30" stroke="#111" stroke-width="1.2"/>
<text x="83.7" y="659.3" font-size="7.8" fill="#2a2a2a" stroke="#2a2a2a" stroke-width="0.22" text-anchor="middle" textLength="10.5" lengthAdjust="spacingAndGlyphs">NK</text>
<text x="107.8" y="644.2" font-size="7.8" fill="#2a2a2a" stroke="#2a2a2a" stroke-width="0.22" text-anchor="middle">0</text>
<text x="123.7" y="644.2" font-size="7.8" fill="#2a2a2a" stroke="#2a2a2a" stroke-width="0.22" text-anchor="middle">5</text>
<line x1="105.20" y1="649.30" x2="127.50" y2="649.30" stroke="#111" stroke-width="1.2"/>
<text x="116.3" y="659.3" font-size="7.8" fill="#2a2a2a" stroke="#2a2a2a" stroke-width="0.22" text-anchor="middle" textLength="20.5" lengthAdjust="spacingAndGlyphs">Bright</text>
<text x="140.8" y="644.2" font-size="7.8" fill="#2a2a2a" stroke="#2a2a2a" stroke-width="0.22" text-anchor="middle">0</text>
<text x="156.7" y="644.2" font-size="7.8" fill="#2a2a2a" stroke="#2a2a2a" stroke-width="0.22" text-anchor="middle">5</text>
<line x1="138.60" y1="649.30" x2="159.80" y2="649.30" stroke="#111" stroke-width="1.2"/>
<text x="149.7" y="659.3" font-size="7.8" fill="#2a2a2a" stroke="#2a2a2a" stroke-width="0.22" text-anchor="middle" textLength="12.5" lengthAdjust="spacingAndGlyphs">Dim</text>
<line x1="241.70" y1="530.30" x2="241.70" y2="634.40" stroke="#111" stroke-width="1.3"/>
<line x1="241.10" y1="633.80" x2="342.20" y2="633.80" stroke="#111" stroke-width="1.3"/>
<line x1="237.90" y1="533.40" x2="241.70" y2="533.40" stroke="#111" stroke-width="1.1"/>
<text x="236.2" y="536.0" font-size="7.4" fill="#2a2a2a" stroke="#2a2a2a" stroke-width="0.22" text-anchor="end">100</text>
<line x1="237.90" y1="553.60" x2="241.70" y2="553.60" stroke="#111" stroke-width="1.1"/>
<text x="236.2" y="556.2" font-size="7.4" fill="#2a2a2a" stroke="#2a2a2a" stroke-width="0.22" text-anchor="end">80</text>
<line x1="237.90" y1="573.80" x2="241.70" y2="573.80" stroke="#111" stroke-width="1.1"/>
<text x="236.2" y="576.4" font-size="7.4" fill="#2a2a2a" stroke="#2a2a2a" stroke-width="0.22" text-anchor="end">60</text>
<line x1="237.90" y1="594.00" x2="241.70" y2="594.00" stroke="#111" stroke-width="1.1"/>
<text x="236.2" y="596.6" font-size="7.4" fill="#2a2a2a" stroke="#2a2a2a" stroke-width="0.22" text-anchor="end">40</text>
<line x1="237.90" y1="614.20" x2="241.70" y2="614.20" stroke="#111" stroke-width="1.1"/>
<text x="236.2" y="616.8" font-size="7.4" fill="#2a2a2a" stroke="#2a2a2a" stroke-width="0.22" text-anchor="end">20</text>
<text x="217.8" y="580.6" font-size="7.5" fill="#2a2a2a" stroke="#2a2a2a" stroke-width="0.22" text-anchor="middle" textLength="83.0" lengthAdjust="spacingAndGlyphs" transform="rotate(-90 217.8 580.6)">Percent GzmB+ NK cells</text>
<line x1="251.70" y1="548.15" x2="268.30" y2="538.15" stroke="#111" stroke-width="1.8"/>
<line x1="283.70" y1="582.89" x2="300.00" y2="542.49" stroke="#111" stroke-width="1.8"/>
<line x1="315.40" y1="544.51" x2="331.40" y2="536.43" stroke="#111" stroke-width="1.8"/>
<line x1="251.70" y1="537.24" x2="268.30" y2="534.21" stroke="#111" stroke-width="1.8"/>
<line x1="283.70" y1="534.41" x2="300.00" y2="533.40" stroke="#111" stroke-width="1.8"/>
<line x1="315.40" y1="537.44" x2="331.40" y2="533.90" stroke="#111" stroke-width="1.8"/>
<line x1="251.70" y1="583.19" x2="268.30" y2="538.15" stroke="#111" stroke-width="1.8"/>
<line x1="283.70" y1="616.93" x2="300.00" y2="542.49" stroke="#111" stroke-width="1.8"/>
<line x1="315.40" y1="572.79" x2="331.40" y2="536.43" stroke="#111" stroke-width="1.8"/>
<line x1="251.70" y1="543.50" x2="268.30" y2="538.15" stroke="#111" stroke-width="1.8"/>
<line x1="283.70" y1="550.37" x2="300.00" y2="542.49" stroke="#111" stroke-width="1.8"/>
<line x1="315.40" y1="540.47" x2="331.40" y2="536.43" stroke="#111" stroke-width="1.8"/>
<line x1="251.70" y1="537.24" x2="268.30" y2="534.21" stroke="#111" stroke-width="1.8"/>
<line x1="283.70" y1="545.82" x2="300.00" y2="542.49" stroke="#111" stroke-width="1.8"/>
<line x1="315.40" y1="537.44" x2="331.40" y2="536.43" stroke="#111" stroke-width="1.8"/>
<circle cx="251.70" cy="548.15" r="2.7" fill="#b3133d"/>
<circle cx="268.30" cy="538.15" r="2.7" fill="#b3133d"/>
<circle cx="283.70" cy="582.89" r="2.7" fill="#b3133d"/>
<circle cx="300.00" cy="542.49" r="2.7" fill="#b3133d"/>
<circle cx="315.40" cy="544.51" r="2.7" fill="#b3133d"/>
<circle cx="331.40" cy="536.43" r="2.7" fill="#b3133d"/>
<circle cx="251.70" cy="537.24" r="2.7" fill="#4a2b77"/>
<circle cx="268.30" cy="534.21" r="2.7" fill="#4a2b77"/>
<circle cx="283.70" cy="534.41" r="2.7" fill="#4a2b77"/>
<circle cx="300.00" cy="533.40" r="2.7" fill="#4a2b77"/>
<circle cx="315.40" cy="537.44" r="2.7" fill="#4a2b77"/>
<circle cx="331.40" cy="533.90" r="2.7" fill="#4a2b77"/>
<circle cx="251.70" cy="583.19" r="2.7" fill="#e6961f"/>
<circle cx="268.30" cy="538.15" r="2.7" fill="#e6961f"/>
<circle cx="283.70" cy="616.93" r="2.7" fill="#e6961f"/>
<circle cx="300.00" cy="542.49" r="2.7" fill="#e6961f"/>
<circle cx="315.40" cy="572.79" r="2.7" fill="#e6961f"/>
<circle cx="331.40" cy="536.43" r="2.7" fill="#e6961f"/>
<circle cx="251.70" cy="543.50" r="2.7" fill="#66ad47"/>
<circle cx="268.30" cy="538.15" r="2.7" fill="#66ad47"/>
<circle cx="283.70" cy="550.37" r="2.7" fill="#66ad47"/>
<circle cx="300.00" cy="542.49" r="2.7" fill="#66ad47"/>
<circle cx="315.40" cy="540.47" r="2.7" fill="#66ad47"/>
<circle cx="331.40" cy="536.43" r="2.7" fill="#66ad47"/>
<circle cx="251.70" cy="537.24" r="2.7" fill="#2c4a8c"/>
<circle cx="268.30" cy="534.21" r="2.7" fill="#2c4a8c"/>
<circle cx="283.70" cy="545.82" r="2.7" fill="#2c4a8c"/>
<circle cx="300.00" cy="542.49" r="2.7" fill="#2c4a8c"/>
<circle cx="315.40" cy="537.44" r="2.7" fill="#2c4a8c"/>
<circle cx="331.40" cy="536.43" r="2.7" fill="#2c4a8c"/>
<text x="240.7" y="644.6" font-size="7.8" fill="#2a2a2a" stroke="#2a2a2a" stroke-width="0.22" text-anchor="end" textLength="47.2" lengthAdjust="spacingAndGlyphs">ALT-803 Day:</text>
<text x="240.7" y="659.4" font-size="7.8" fill="#2a2a2a" stroke="#2a2a2a" stroke-width="0.22" text-anchor="end" textLength="38.0" lengthAdjust="spacingAndGlyphs">NK subset:</text>
<text x="249.0" y="644.6" font-size="7.8" fill="#2a2a2a" stroke="#2a2a2a" stroke-width="0.22" text-anchor="middle">0</text>
<text x="263.2" y="644.6" font-size="7.8" fill="#2a2a2a" stroke="#2a2a2a" stroke-width="0.22" text-anchor="middle" textLength="7.6" lengthAdjust="spacingAndGlyphs">28</text>
<line x1="246.70" y1="649.60" x2="267.70" y2="649.60" stroke="#111" stroke-width="1.2"/>
<text x="257.5" y="659.4" font-size="7.8" fill="#2a2a2a" stroke="#2a2a2a" stroke-width="0.22" text-anchor="middle" textLength="10.5" lengthAdjust="spacingAndGlyphs">NK</text>
<text x="281.2" y="644.6" font-size="7.8" fill="#2a2a2a" stroke="#2a2a2a" stroke-width="0.22" text-anchor="middle">0</text>
<text x="295.0" y="644.6" font-size="7.8" fill="#2a2a2a" stroke="#2a2a2a" stroke-width="0.22" text-anchor="middle" textLength="7.6" lengthAdjust="spacingAndGlyphs">28</text>
<line x1="279.00" y1="649.60" x2="300.00" y2="649.60" stroke="#111" stroke-width="1.2"/>
<text x="289.5" y="659.4" font-size="7.8" fill="#2a2a2a" stroke="#2a2a2a" stroke-width="0.22" text-anchor="middle" textLength="20.5" lengthAdjust="spacingAndGlyphs">Bright</text>
<text x="314.9" y="644.6" font-size="7.8" fill="#2a2a2a" stroke="#2a2a2a" stroke-width="0.22" text-anchor="middle">0</text>
<text x="327.6" y="644.6" font-size="7.8" fill="#2a2a2a" stroke="#2a2a2a" stroke-width="0.22" text-anchor="middle" textLength="7.6" lengthAdjust="spacingAndGlyphs">28</text>
<line x1="311.70" y1="649.60" x2="333.00" y2="649.60" stroke="#111" stroke-width="1.2"/>
<text x="320.5" y="659.4" font-size="7.8" fill="#2a2a2a" stroke="#2a2a2a" stroke-width="0.22" text-anchor="middle" textLength="12.5" lengthAdjust="spacingAndGlyphs">Dim</text>
<circle cx="365.30" cy="462.70" r="6.3" fill="#b3133d"/>
<text x="377.5" y="465.3" font-size="7.6" fill="#2a2a2a" stroke="#2a2a2a" stroke-width="0.22" text-anchor="start" textLength="32.3" lengthAdjust="spacingAndGlyphs">UMN018</text>
<circle cx="365.30" cy="481.48" r="6.3" fill="#4a2b77"/>
<text x="377.5" y="484.1" font-size="7.6" fill="#2a2a2a" stroke="#2a2a2a" stroke-width="0.22" text-anchor="start" textLength="32.3" lengthAdjust="spacingAndGlyphs">UMN019</text>
<circle cx="365.30" cy="500.26" r="6.3" fill="#e6961f"/>
<text x="377.5" y="502.9" font-size="7.6" fill="#2a2a2a" stroke="#2a2a2a" stroke-width="0.22" text-anchor="start" textLength="32.3" lengthAdjust="spacingAndGlyphs">UMN020</text>
<circle cx="365.30" cy="519.04" r="6.3" fill="#66ad47"/>
<text x="377.5" y="521.6" font-size="7.6" fill="#2a2a2a" stroke="#2a2a2a" stroke-width="0.22" text-anchor="start" textLength="32.3" lengthAdjust="spacingAndGlyphs">UMN021</text>
<circle cx="365.30" cy="537.82" r="6.3" fill="#2c4a8c"/>
<text x="377.5" y="540.4" font-size="7.6" fill="#2a2a2a" stroke="#2a2a2a" stroke-width="0.22" text-anchor="start" textLength="32.3" lengthAdjust="spacingAndGlyphs">UMN023</text>
</svg></body></html>
